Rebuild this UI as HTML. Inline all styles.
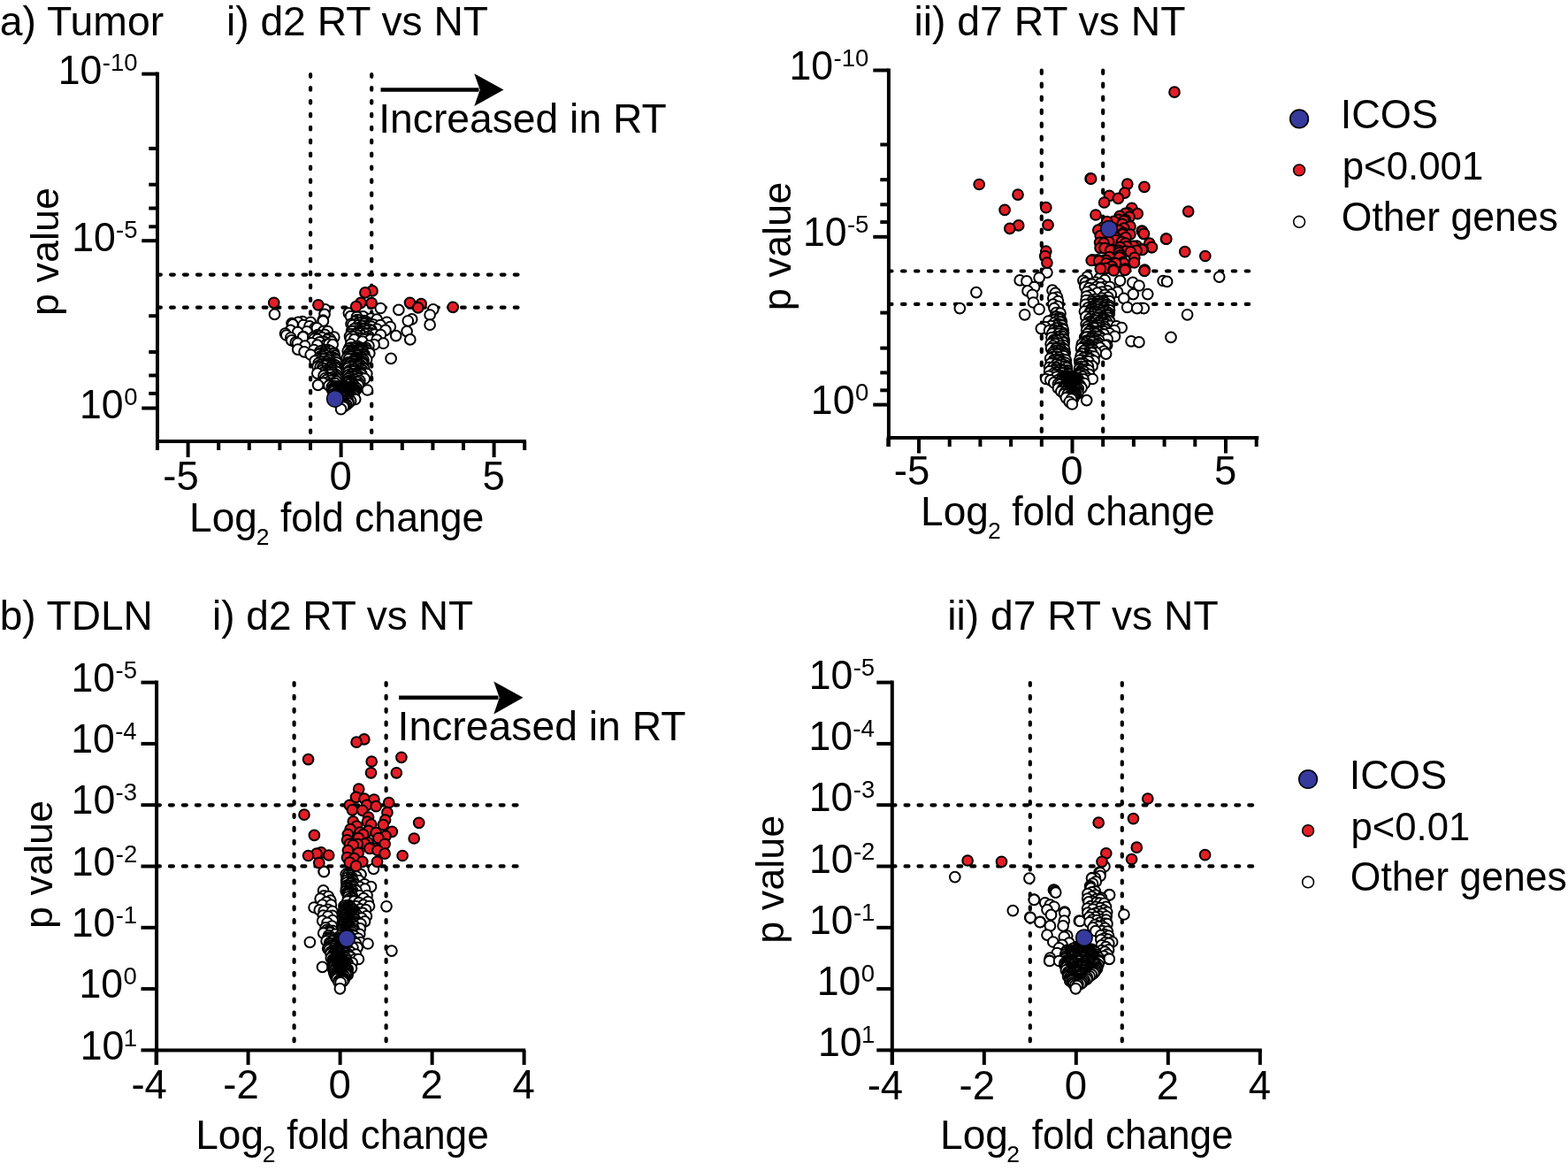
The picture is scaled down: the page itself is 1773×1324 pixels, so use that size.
<!DOCTYPE html><html><head><meta charset="utf-8"><style>html,body{margin:0;padding:0;background:#fff;overflow:hidden}svg{display:block}</style></head><body><svg width="1773" height="1324" viewBox="0 0 1773 1324" font-family="Liberation Sans, Arial, sans-serif">
<rect width="1773" height="1324" fill="#fff"/>
<line x1="178.0" y1="81.6" x2="178.0" y2="509.0" stroke="#000" stroke-width="4" />
<line x1="176.0" y1="499.0" x2="595.0" y2="499.0" stroke="#000" stroke-width="4" />
<line x1="160.3" y1="83.6" x2="178.0" y2="83.6" stroke="#000" stroke-width="4" />
<line x1="160.3" y1="272.2" x2="178.0" y2="272.2" stroke="#000" stroke-width="4" />
<line x1="160.3" y1="461.5" x2="178.0" y2="461.5" stroke="#000" stroke-width="4" />
<line x1="168.3" y1="167.9" x2="178.0" y2="167.9" stroke="#000" stroke-width="4" />
<line x1="168.3" y1="208.7" x2="178.0" y2="208.7" stroke="#000" stroke-width="4" />
<line x1="168.3" y1="235.5" x2="178.0" y2="235.5" stroke="#000" stroke-width="4" />
<line x1="168.3" y1="256.3" x2="178.0" y2="256.3" stroke="#000" stroke-width="4" />
<line x1="168.3" y1="357.2" x2="178.0" y2="357.2" stroke="#000" stroke-width="4" />
<line x1="168.3" y1="398.0" x2="178.0" y2="398.0" stroke="#000" stroke-width="4" />
<line x1="168.3" y1="424.5" x2="178.0" y2="424.5" stroke="#000" stroke-width="4" />
<line x1="168.3" y1="444.9" x2="178.0" y2="444.9" stroke="#000" stroke-width="4" />
<line x1="212.6" y1="499.0" x2="212.6" y2="517.0" stroke="#000" stroke-width="4" />
<line x1="385.6" y1="499.0" x2="385.6" y2="517.0" stroke="#000" stroke-width="4" />
<line x1="558.6" y1="499.0" x2="558.6" y2="517.0" stroke="#000" stroke-width="4" />
<line x1="178.0" y1="499.0" x2="178.0" y2="509.0" stroke="#000" stroke-width="4" />
<line x1="247.2" y1="499.0" x2="247.2" y2="509.0" stroke="#000" stroke-width="4" />
<line x1="281.8" y1="499.0" x2="281.8" y2="509.0" stroke="#000" stroke-width="4" />
<line x1="316.4" y1="499.0" x2="316.4" y2="509.0" stroke="#000" stroke-width="4" />
<line x1="351.0" y1="499.0" x2="351.0" y2="509.0" stroke="#000" stroke-width="4" />
<line x1="420.2" y1="499.0" x2="420.2" y2="509.0" stroke="#000" stroke-width="4" />
<line x1="454.8" y1="499.0" x2="454.8" y2="509.0" stroke="#000" stroke-width="4" />
<line x1="489.4" y1="499.0" x2="489.4" y2="509.0" stroke="#000" stroke-width="4" />
<line x1="524.0" y1="499.0" x2="524.0" y2="509.0" stroke="#000" stroke-width="4" />
<line x1="593.2" y1="499.0" x2="593.2" y2="509.0" stroke="#000" stroke-width="4" />
<line x1="1004.9" y1="77.5" x2="1004.9" y2="505.0" stroke="#000" stroke-width="4" />
<line x1="1002.9" y1="494.9" x2="1423.3" y2="494.9" stroke="#000" stroke-width="4" />
<line x1="987.3" y1="79.5" x2="1004.9" y2="79.5" stroke="#000" stroke-width="4" />
<line x1="987.3" y1="267.8" x2="1004.9" y2="267.8" stroke="#000" stroke-width="4" />
<line x1="987.3" y1="457.6" x2="1004.9" y2="457.6" stroke="#000" stroke-width="4" />
<line x1="995.3" y1="163.5" x2="1004.9" y2="163.5" stroke="#000" stroke-width="4" />
<line x1="995.3" y1="203.2" x2="1004.9" y2="203.2" stroke="#000" stroke-width="4" />
<line x1="995.3" y1="231.3" x2="1004.9" y2="231.3" stroke="#000" stroke-width="4" />
<line x1="995.3" y1="251.1" x2="1004.9" y2="251.1" stroke="#000" stroke-width="4" />
<line x1="995.3" y1="353.6" x2="1004.9" y2="353.6" stroke="#000" stroke-width="4" />
<line x1="995.3" y1="393.6" x2="1004.9" y2="393.6" stroke="#000" stroke-width="4" />
<line x1="995.3" y1="421.4" x2="1004.9" y2="421.4" stroke="#000" stroke-width="4" />
<line x1="995.3" y1="441.3" x2="1004.9" y2="441.3" stroke="#000" stroke-width="4" />
<line x1="1039.0" y1="494.9" x2="1039.0" y2="512.5" stroke="#000" stroke-width="4" />
<line x1="1212.5" y1="494.9" x2="1212.5" y2="512.5" stroke="#000" stroke-width="4" />
<line x1="1386.0" y1="494.9" x2="1386.0" y2="512.5" stroke="#000" stroke-width="4" />
<line x1="1004.3" y1="494.9" x2="1004.3" y2="505.0" stroke="#000" stroke-width="4" />
<line x1="1073.7" y1="494.9" x2="1073.7" y2="505.0" stroke="#000" stroke-width="4" />
<line x1="1108.4" y1="494.9" x2="1108.4" y2="505.0" stroke="#000" stroke-width="4" />
<line x1="1143.1" y1="494.9" x2="1143.1" y2="505.0" stroke="#000" stroke-width="4" />
<line x1="1177.8" y1="494.9" x2="1177.8" y2="505.0" stroke="#000" stroke-width="4" />
<line x1="1247.2" y1="494.9" x2="1247.2" y2="505.0" stroke="#000" stroke-width="4" />
<line x1="1281.9" y1="494.9" x2="1281.9" y2="505.0" stroke="#000" stroke-width="4" />
<line x1="1316.6" y1="494.9" x2="1316.6" y2="505.0" stroke="#000" stroke-width="4" />
<line x1="1351.3" y1="494.9" x2="1351.3" y2="505.0" stroke="#000" stroke-width="4" />
<line x1="1420.7" y1="494.9" x2="1420.7" y2="505.0" stroke="#000" stroke-width="4" />
<line x1="177.1" y1="769.6" x2="177.1" y2="1204.0" stroke="#000" stroke-width="4" />
<line x1="175.1" y1="1187.4" x2="594.2" y2="1187.4" stroke="#000" stroke-width="4" />
<line x1="159.5" y1="771.6" x2="177.1" y2="771.6" stroke="#000" stroke-width="4" />
<line x1="159.5" y1="840.9" x2="177.1" y2="840.9" stroke="#000" stroke-width="4" />
<line x1="159.5" y1="910.2" x2="177.1" y2="910.2" stroke="#000" stroke-width="4" />
<line x1="159.5" y1="979.5" x2="177.1" y2="979.5" stroke="#000" stroke-width="4" />
<line x1="159.5" y1="1048.8" x2="177.1" y2="1048.8" stroke="#000" stroke-width="4" />
<line x1="159.5" y1="1118.1" x2="177.1" y2="1118.1" stroke="#000" stroke-width="4" />
<line x1="159.5" y1="1187.4" x2="177.1" y2="1187.4" stroke="#000" stroke-width="4" />
<line x1="176.6" y1="1187.4" x2="176.6" y2="1204.0" stroke="#000" stroke-width="4" />
<line x1="280.6" y1="1187.4" x2="280.6" y2="1204.0" stroke="#000" stroke-width="4" />
<line x1="384.6" y1="1187.4" x2="384.6" y2="1204.0" stroke="#000" stroke-width="4" />
<line x1="488.6" y1="1187.4" x2="488.6" y2="1204.0" stroke="#000" stroke-width="4" />
<line x1="592.6" y1="1187.4" x2="592.6" y2="1204.0" stroke="#000" stroke-width="4" />
<line x1="1008.8" y1="769.6" x2="1008.8" y2="1204.0" stroke="#000" stroke-width="4" />
<line x1="1006.8" y1="1187.4" x2="1426.8" y2="1187.4" stroke="#000" stroke-width="4" />
<line x1="991.3" y1="771.6" x2="1008.8" y2="771.6" stroke="#000" stroke-width="4" />
<line x1="991.3" y1="840.9" x2="1008.8" y2="840.9" stroke="#000" stroke-width="4" />
<line x1="991.3" y1="910.2" x2="1008.8" y2="910.2" stroke="#000" stroke-width="4" />
<line x1="991.3" y1="979.5" x2="1008.8" y2="979.5" stroke="#000" stroke-width="4" />
<line x1="991.3" y1="1048.8" x2="1008.8" y2="1048.8" stroke="#000" stroke-width="4" />
<line x1="991.3" y1="1118.1" x2="1008.8" y2="1118.1" stroke="#000" stroke-width="4" />
<line x1="991.3" y1="1187.4" x2="1008.8" y2="1187.4" stroke="#000" stroke-width="4" />
<line x1="1008.8" y1="1187.4" x2="1008.8" y2="1204.0" stroke="#000" stroke-width="4" />
<line x1="1112.8" y1="1187.4" x2="1112.8" y2="1204.0" stroke="#000" stroke-width="4" />
<line x1="1216.8" y1="1187.4" x2="1216.8" y2="1204.0" stroke="#000" stroke-width="4" />
<line x1="1320.8" y1="1187.4" x2="1320.8" y2="1204.0" stroke="#000" stroke-width="4" />
<line x1="1424.8" y1="1187.4" x2="1424.8" y2="1204.0" stroke="#000" stroke-width="4" />
<line x1="351.10" y1="84.20" x2="351.10" y2="497.00" stroke="#000" stroke-width="4.2" stroke-dasharray="2.6 12.3" stroke-linecap="round"/>
<line x1="420.20" y1="84.20" x2="420.20" y2="497.00" stroke="#000" stroke-width="4.2" stroke-dasharray="2.6 12.3" stroke-linecap="round"/>
<line x1="178.15" y1="310.60" x2="593.00" y2="310.60" stroke="#000" stroke-width="4.2" stroke-dasharray="3.7 11.25" stroke-linecap="round"/>
<line x1="178.15" y1="347.70" x2="593.00" y2="347.70" stroke="#000" stroke-width="4.2" stroke-dasharray="3.7 11.25" stroke-linecap="round"/>
<line x1="1177.80" y1="79.70" x2="1177.80" y2="493.00" stroke="#000" stroke-width="4.2" stroke-dasharray="3.4 11.6" stroke-linecap="round"/>
<line x1="1247.20" y1="79.70" x2="1247.20" y2="493.00" stroke="#000" stroke-width="4.2" stroke-dasharray="3.4 11.6" stroke-linecap="round"/>
<line x1="1005.10" y1="306.50" x2="1421.00" y2="306.50" stroke="#000" stroke-width="4.2" stroke-dasharray="3.4 11.55" stroke-linecap="round"/>
<line x1="1005.10" y1="343.90" x2="1421.00" y2="343.90" stroke="#000" stroke-width="4.2" stroke-dasharray="3.4 11.55" stroke-linecap="round"/>
<line x1="332.60" y1="772.00" x2="332.60" y2="1185.00" stroke="#000" stroke-width="4.2" stroke-dasharray="3.0 11.9" stroke-linecap="round"/>
<line x1="436.60" y1="772.00" x2="436.60" y2="1185.00" stroke="#000" stroke-width="4.2" stroke-dasharray="3.0 11.9" stroke-linecap="round"/>
<line x1="177.00" y1="910.30" x2="592.00" y2="910.30" stroke="#000" stroke-width="4.2" stroke-dasharray="3.9 11.05" stroke-linecap="round"/>
<line x1="177.00" y1="979.40" x2="592.00" y2="979.40" stroke="#000" stroke-width="4.2" stroke-dasharray="3.9 11.05" stroke-linecap="round"/>
<line x1="1164.80" y1="772.00" x2="1164.80" y2="1185.00" stroke="#000" stroke-width="4.2" stroke-dasharray="3.0 11.9" stroke-linecap="round"/>
<line x1="1268.80" y1="772.00" x2="1268.80" y2="1185.00" stroke="#000" stroke-width="4.2" stroke-dasharray="3.0 11.9" stroke-linecap="round"/>
<line x1="1008.60" y1="910.30" x2="1424.00" y2="910.30" stroke="#000" stroke-width="4.2" stroke-dasharray="3.9 11.05" stroke-linecap="round"/>
<line x1="1008.60" y1="979.40" x2="1424.00" y2="979.40" stroke="#000" stroke-width="4.2" stroke-dasharray="3.9 11.05" stroke-linecap="round"/>
<text x="-0.24" y="40.00" font-size="46" textLength="185.40" lengthAdjust="spacingAndGlyphs">a) Tumor</text>
<text x="255.93" y="40.00" font-size="46" textLength="296.13" lengthAdjust="spacingAndGlyphs">i) d2 RT vs NT</text>
<text x="1033.42" y="40.20" font-size="46" textLength="307.14" lengthAdjust="spacingAndGlyphs">ii) d7 RT vs NT</text>
<text x="-0.25" y="712.30" font-size="46" textLength="172.98" lengthAdjust="spacingAndGlyphs">b) TDLN</text>
<text x="239.94" y="712.30" font-size="46" textLength="295.11" lengthAdjust="spacingAndGlyphs">i) d2 RT vs NT</text>
<text x="1071.23" y="711.70" font-size="46" textLength="306.43" lengthAdjust="spacingAndGlyphs">ii) d7 RT vs NT</text>
<text x="115.73" y="79.90" font-size="27.5">-10</text>
<text x="65.75" y="94.90" font-size="46" textLength="49.64" lengthAdjust="spacingAndGlyphs">10</text>
<text x="131.10" y="268.50" font-size="27.5">-5</text>
<text x="81.13" y="283.50" font-size="46" textLength="49.64" lengthAdjust="spacingAndGlyphs">10</text>
<text x="140.18" y="457.80" font-size="27.5">0</text>
<text x="90.05" y="472.80" font-size="46" textLength="49.64" lengthAdjust="spacingAndGlyphs">10</text>
<text x="942.53" y="74.80" font-size="27.5">-10</text>
<text x="892.55" y="89.80" font-size="46" textLength="49.64" lengthAdjust="spacingAndGlyphs">10</text>
<text x="957.90" y="263.10" font-size="27.5">-5</text>
<text x="907.93" y="278.10" font-size="46" textLength="49.64" lengthAdjust="spacingAndGlyphs">10</text>
<text x="966.98" y="452.90" font-size="27.5">0</text>
<text x="916.85" y="467.90" font-size="46" textLength="49.64" lengthAdjust="spacingAndGlyphs">10</text>
<text x="130.50" y="766.70" font-size="27.5">-5</text>
<text x="80.53" y="781.70" font-size="46" textLength="49.64" lengthAdjust="spacingAndGlyphs">10</text>
<text x="130.15" y="836.00" font-size="27.5">-4</text>
<text x="80.18" y="851.00" font-size="46" textLength="49.64" lengthAdjust="spacingAndGlyphs">10</text>
<text x="130.56" y="905.30" font-size="27.5">-3</text>
<text x="80.58" y="920.30" font-size="46" textLength="49.64" lengthAdjust="spacingAndGlyphs">10</text>
<text x="130.73" y="974.60" font-size="27.5">-2</text>
<text x="80.75" y="989.60" font-size="46" textLength="49.64" lengthAdjust="spacingAndGlyphs">10</text>
<text x="130.69" y="1043.90" font-size="27.5">-1</text>
<text x="80.71" y="1058.90" font-size="46" textLength="49.64" lengthAdjust="spacingAndGlyphs">10</text>
<text x="139.58" y="1113.20" font-size="27.5">0</text>
<text x="89.45" y="1128.20" font-size="46" textLength="49.64" lengthAdjust="spacingAndGlyphs">10</text>
<text x="139.85" y="1182.50" font-size="27.5">1</text>
<text x="90.74" y="1197.50" font-size="46" textLength="49.64" lengthAdjust="spacingAndGlyphs">10</text>
<text x="964.70" y="763.60" font-size="27.5">-5</text>
<text x="914.73" y="778.60" font-size="46" textLength="49.64" lengthAdjust="spacingAndGlyphs">10</text>
<text x="964.35" y="832.90" font-size="27.5">-4</text>
<text x="914.38" y="847.90" font-size="46" textLength="49.64" lengthAdjust="spacingAndGlyphs">10</text>
<text x="964.76" y="902.20" font-size="27.5">-3</text>
<text x="914.78" y="917.20" font-size="46" textLength="49.64" lengthAdjust="spacingAndGlyphs">10</text>
<text x="964.93" y="971.50" font-size="27.5">-2</text>
<text x="914.95" y="986.50" font-size="46" textLength="49.64" lengthAdjust="spacingAndGlyphs">10</text>
<text x="964.89" y="1040.80" font-size="27.5">-1</text>
<text x="914.91" y="1055.80" font-size="46" textLength="49.64" lengthAdjust="spacingAndGlyphs">10</text>
<text x="973.78" y="1110.10" font-size="27.5">0</text>
<text x="923.65" y="1125.10" font-size="46" textLength="49.64" lengthAdjust="spacingAndGlyphs">10</text>
<text x="974.05" y="1179.40" font-size="27.5">1</text>
<text x="924.94" y="1194.40" font-size="46" textLength="49.64" lengthAdjust="spacingAndGlyphs">10</text>
<text x="184.34" y="554.20" font-size="45.5">-5</text>
<text x="372.45" y="554.20" font-size="45.5">0</text>
<text x="545.49" y="554.20" font-size="45.5">5</text>
<text x="1010.74" y="548.20" font-size="45.5">-5</text>
<text x="1199.35" y="548.20" font-size="45.5">0</text>
<text x="1372.89" y="548.20" font-size="45.5">5</text>
<text x="148.44" y="1242.30" font-size="45.5">-4</text>
<text x="252.30" y="1242.30" font-size="45.5">-2</text>
<text x="371.45" y="1242.30" font-size="45.5">0</text>
<text x="475.45" y="1242.30" font-size="45.5">2</text>
<text x="579.59" y="1242.30" font-size="45.5">4</text>
<text x="980.64" y="1242.50" font-size="45.5">-4</text>
<text x="1084.50" y="1242.50" font-size="45.5">-2</text>
<text x="1203.65" y="1242.50" font-size="45.5">0</text>
<text x="1307.65" y="1242.50" font-size="45.5">2</text>
<text x="1411.79" y="1242.50" font-size="45.5">4</text>
<text x="214.12" y="601.00" font-size="46" textLength="76.85" lengthAdjust="spacingAndGlyphs">Log</text>
<text x="289.67" y="616.20" font-size="26.5">2</text>
<text x="316.97" y="601.00" font-size="46" textLength="230.21" lengthAdjust="spacingAndGlyphs">fold change</text>
<text x="1041.12" y="594.10" font-size="46" textLength="76.85" lengthAdjust="spacingAndGlyphs">Log</text>
<text x="1116.97" y="609.30" font-size="26.5">2</text>
<text x="1144.27" y="594.10" font-size="46" textLength="229.50" lengthAdjust="spacingAndGlyphs">fold change</text>
<text x="221.22" y="1299.10" font-size="46" textLength="76.85" lengthAdjust="spacingAndGlyphs">Log</text>
<text x="296.87" y="1314.30" font-size="26.5">2</text>
<text x="324.17" y="1299.10" font-size="46" textLength="228.59" lengthAdjust="spacingAndGlyphs">fold change</text>
<text x="1063.12" y="1298.60" font-size="46" textLength="76.85" lengthAdjust="spacingAndGlyphs">Log</text>
<text x="1138.27" y="1313.80" font-size="26.5">2</text>
<text x="1166.68" y="1298.60" font-size="46" textLength="227.88" lengthAdjust="spacingAndGlyphs">fold change</text>
<text x="0" y="0" font-size="45" textLength="144.79" lengthAdjust="spacingAndGlyphs" transform="translate(66.30,356.89) rotate(-90)">p value</text>
<text x="0" y="0" font-size="45" textLength="145.62" lengthAdjust="spacingAndGlyphs" transform="translate(893.50,351.31) rotate(-90)">p value</text>
<text x="0" y="0" font-size="45" textLength="144.89" lengthAdjust="spacingAndGlyphs" transform="translate(59.40,1049.90) rotate(-90)">p value</text>
<text x="0" y="0" font-size="45" textLength="144.89" lengthAdjust="spacingAndGlyphs" transform="translate(885.50,1066.70) rotate(-90)">p value</text>
<line x1="430.5" y1="101.5" x2="541.5" y2="101.5" stroke="#000" stroke-width="4.5" />
<path d="M569.5,101.5 L536.3,83.3 L542.7,101.5 L536.3,120.1 Z" fill="#000"/>
<text x="428.24" y="149.60" font-size="46" textLength="325.51" lengthAdjust="spacingAndGlyphs">Increased in RT</text>
<line x1="451.1" y1="788.8" x2="563.5" y2="788.8" stroke="#000" stroke-width="4.5" />
<path d="M591.5,788.8 L558.3,770.5999999999999 L564.7,788.8 L558.3,807.4 Z" fill="#000"/>
<text x="449.54" y="836.70" font-size="46" textLength="326.12" lengthAdjust="spacingAndGlyphs">Increased in RT</text>
<circle cx="1469.1" cy="134.4" r="10.3" fill="#353a9c" stroke="#000" stroke-width="1.6"/>
<circle cx="1469.1" cy="192.4" r="6.4" fill="#e31e26" stroke="#000" stroke-width="1.6"/>
<circle cx="1469.1" cy="250.8" r="6.4" fill="#fff" stroke="#000" stroke-width="1.6"/>
<text x="1515.63" y="145.00" font-size="45.5" textLength="110.44" lengthAdjust="spacingAndGlyphs">ICOS</text>
<text x="1517.67" y="203.00" font-size="45" textLength="159.67" lengthAdjust="spacingAndGlyphs">p&lt;0.001</text>
<text x="1516.79" y="261.20" font-size="45.5" textLength="245.02" lengthAdjust="spacingAndGlyphs">Other genes</text>
<circle cx="1479.1" cy="881.0" r="10.3" fill="#353a9c" stroke="#000" stroke-width="1.6"/>
<circle cx="1479.1" cy="939.2" r="6.4" fill="#e31e26" stroke="#000" stroke-width="1.6"/>
<circle cx="1479.1" cy="997.4" r="6.4" fill="#fff" stroke="#000" stroke-width="1.6"/>
<text x="1525.63" y="891.70" font-size="45.5" textLength="110.44" lengthAdjust="spacingAndGlyphs">ICOS</text>
<text x="1527.49" y="949.50" font-size="45" textLength="134.75" lengthAdjust="spacingAndGlyphs">p&lt;0.01</text>
<text x="1526.79" y="1007.20" font-size="45.5" textLength="245.02" lengthAdjust="spacingAndGlyphs">Other genes</text>
<circle cx="430.3" cy="348.5" r="5.85" fill="#fff" stroke="#000" stroke-width="2.0"/>
<circle cx="367.6" cy="349.8" r="5.85" fill="#fff" stroke="#000" stroke-width="2.0"/>
<circle cx="489.8" cy="349.8" r="5.85" fill="#fff" stroke="#000" stroke-width="2.0"/>
<circle cx="450.8" cy="350.4" r="5.85" fill="#fff" stroke="#000" stroke-width="2.0"/>
<circle cx="394.3" cy="354.1" r="5.85" fill="#fff" stroke="#000" stroke-width="2.0"/>
<circle cx="310.5" cy="355.4" r="5.85" fill="#fff" stroke="#000" stroke-width="2.0"/>
<circle cx="367.0" cy="355.4" r="5.85" fill="#fff" stroke="#000" stroke-width="2.0"/>
<circle cx="486.1" cy="356.0" r="5.85" fill="#fff" stroke="#000" stroke-width="2.0"/>
<circle cx="396.5" cy="357.6" r="5.85" fill="#fff" stroke="#000" stroke-width="2.0"/>
<circle cx="410.6" cy="357.9" r="5.85" fill="#fff" stroke="#000" stroke-width="2.0"/>
<circle cx="403.5" cy="358.3" r="5.85" fill="#fff" stroke="#000" stroke-width="2.0"/>
<circle cx="419.3" cy="360.1" r="5.85" fill="#fff" stroke="#000" stroke-width="2.0"/>
<circle cx="465.7" cy="360.9" r="5.85" fill="#fff" stroke="#000" stroke-width="2.0"/>
<circle cx="426.1" cy="361.1" r="5.85" fill="#fff" stroke="#000" stroke-width="2.0"/>
<circle cx="403.7" cy="361.6" r="5.85" fill="#fff" stroke="#000" stroke-width="2.0"/>
<circle cx="406.6" cy="362.1" r="5.85" fill="#fff" stroke="#000" stroke-width="2.0"/>
<circle cx="365.1" cy="362.2" r="5.85" fill="#fff" stroke="#000" stroke-width="2.0"/>
<circle cx="411.3" cy="362.6" r="5.85" fill="#fff" stroke="#000" stroke-width="2.0"/>
<circle cx="461.3" cy="362.8" r="5.85" fill="#fff" stroke="#000" stroke-width="2.0"/>
<circle cx="365.4" cy="363.1" r="5.85" fill="#fff" stroke="#000" stroke-width="2.0"/>
<circle cx="401.6" cy="363.5" r="5.85" fill="#fff" stroke="#000" stroke-width="2.0"/>
<circle cx="413.9" cy="363.6" r="5.85" fill="#fff" stroke="#000" stroke-width="2.0"/>
<circle cx="342.1" cy="363.7" r="5.85" fill="#fff" stroke="#000" stroke-width="2.0"/>
<circle cx="437.4" cy="364.3" r="5.85" fill="#fff" stroke="#000" stroke-width="2.0"/>
<circle cx="351.2" cy="364.3" r="5.85" fill="#fff" stroke="#000" stroke-width="2.0"/>
<circle cx="337.1" cy="364.4" r="5.85" fill="#fff" stroke="#000" stroke-width="2.0"/>
<circle cx="405.8" cy="364.8" r="5.85" fill="#fff" stroke="#000" stroke-width="2.0"/>
<circle cx="416.6" cy="364.9" r="5.85" fill="#fff" stroke="#000" stroke-width="2.0"/>
<circle cx="409.3" cy="364.9" r="5.85" fill="#fff" stroke="#000" stroke-width="2.0"/>
<circle cx="405.2" cy="365.0" r="5.85" fill="#fff" stroke="#000" stroke-width="2.0"/>
<circle cx="413.2" cy="365.5" r="5.85" fill="#fff" stroke="#000" stroke-width="2.0"/>
<circle cx="330.0" cy="365.5" r="5.85" fill="#fff" stroke="#000" stroke-width="2.0"/>
<circle cx="412.2" cy="366.1" r="5.85" fill="#fff" stroke="#000" stroke-width="2.0"/>
<circle cx="402.6" cy="366.3" r="5.85" fill="#fff" stroke="#000" stroke-width="2.0"/>
<circle cx="397.1" cy="366.4" r="5.85" fill="#fff" stroke="#000" stroke-width="2.0"/>
<circle cx="418.9" cy="366.6" r="5.85" fill="#fff" stroke="#000" stroke-width="2.0"/>
<circle cx="331.0" cy="366.9" r="5.85" fill="#fff" stroke="#000" stroke-width="2.0"/>
<circle cx="422.4" cy="367.2" r="5.85" fill="#fff" stroke="#000" stroke-width="2.0"/>
<circle cx="486.1" cy="367.2" r="5.85" fill="#fff" stroke="#000" stroke-width="2.0"/>
<circle cx="343.0" cy="367.5" r="5.85" fill="#fff" stroke="#000" stroke-width="2.0"/>
<circle cx="398.9" cy="367.5" r="5.85" fill="#fff" stroke="#000" stroke-width="2.0"/>
<circle cx="430.1" cy="367.6" r="5.85" fill="#fff" stroke="#000" stroke-width="2.0"/>
<circle cx="405.2" cy="367.8" r="5.85" fill="#fff" stroke="#000" stroke-width="2.0"/>
<circle cx="413.9" cy="368.3" r="5.85" fill="#fff" stroke="#000" stroke-width="2.0"/>
<circle cx="409.4" cy="368.6" r="5.85" fill="#fff" stroke="#000" stroke-width="2.0"/>
<circle cx="350.0" cy="368.8" r="5.85" fill="#fff" stroke="#000" stroke-width="2.0"/>
<circle cx="416.8" cy="369.1" r="5.85" fill="#fff" stroke="#000" stroke-width="2.0"/>
<circle cx="419.9" cy="369.3" r="5.85" fill="#fff" stroke="#000" stroke-width="2.0"/>
<circle cx="441.3" cy="369.5" r="5.85" fill="#fff" stroke="#000" stroke-width="2.0"/>
<circle cx="356.3" cy="370.7" r="5.85" fill="#fff" stroke="#000" stroke-width="2.0"/>
<circle cx="407.3" cy="370.8" r="5.85" fill="#fff" stroke="#000" stroke-width="2.0"/>
<circle cx="358.4" cy="370.9" r="5.85" fill="#fff" stroke="#000" stroke-width="2.0"/>
<circle cx="403.1" cy="371.2" r="5.85" fill="#fff" stroke="#000" stroke-width="2.0"/>
<circle cx="413.1" cy="371.2" r="5.85" fill="#fff" stroke="#000" stroke-width="2.0"/>
<circle cx="403.9" cy="371.3" r="5.85" fill="#fff" stroke="#000" stroke-width="2.0"/>
<circle cx="400.7" cy="371.5" r="5.85" fill="#fff" stroke="#000" stroke-width="2.0"/>
<circle cx="409.9" cy="371.8" r="5.85" fill="#fff" stroke="#000" stroke-width="2.0"/>
<circle cx="416.5" cy="372.1" r="5.85" fill="#fff" stroke="#000" stroke-width="2.0"/>
<circle cx="426.2" cy="372.2" r="5.85" fill="#fff" stroke="#000" stroke-width="2.0"/>
<circle cx="420.0" cy="373.2" r="5.85" fill="#fff" stroke="#000" stroke-width="2.0"/>
<circle cx="328.5" cy="373.4" r="5.85" fill="#fff" stroke="#000" stroke-width="2.0"/>
<circle cx="435.9" cy="373.4" r="5.85" fill="#fff" stroke="#000" stroke-width="2.0"/>
<circle cx="407.6" cy="373.6" r="5.85" fill="#fff" stroke="#000" stroke-width="2.0"/>
<circle cx="419.4" cy="373.9" r="5.85" fill="#fff" stroke="#000" stroke-width="2.0"/>
<circle cx="414.0" cy="373.9" r="5.85" fill="#fff" stroke="#000" stroke-width="2.0"/>
<circle cx="402.0" cy="374.0" r="5.85" fill="#fff" stroke="#000" stroke-width="2.0"/>
<circle cx="397.6" cy="374.4" r="5.85" fill="#fff" stroke="#000" stroke-width="2.0"/>
<circle cx="365.7" cy="374.5" r="5.85" fill="#fff" stroke="#000" stroke-width="2.0"/>
<circle cx="370.5" cy="374.5" r="5.85" fill="#fff" stroke="#000" stroke-width="2.0"/>
<circle cx="398.2" cy="374.6" r="5.85" fill="#fff" stroke="#000" stroke-width="2.0"/>
<circle cx="460.1" cy="374.6" r="5.85" fill="#fff" stroke="#000" stroke-width="2.0"/>
<circle cx="346.9" cy="374.8" r="5.85" fill="#fff" stroke="#000" stroke-width="2.0"/>
<circle cx="408.0" cy="374.8" r="5.85" fill="#fff" stroke="#000" stroke-width="2.0"/>
<circle cx="410.5" cy="375.5" r="5.85" fill="#fff" stroke="#000" stroke-width="2.0"/>
<circle cx="336.7" cy="375.6" r="5.85" fill="#fff" stroke="#000" stroke-width="2.0"/>
<circle cx="404.3" cy="376.2" r="5.85" fill="#fff" stroke="#000" stroke-width="2.0"/>
<circle cx="419.3" cy="376.7" r="5.85" fill="#fff" stroke="#000" stroke-width="2.0"/>
<circle cx="407.2" cy="376.9" r="5.85" fill="#fff" stroke="#000" stroke-width="2.0"/>
<circle cx="415.3" cy="377.0" r="5.85" fill="#fff" stroke="#000" stroke-width="2.0"/>
<circle cx="416.3" cy="377.0" r="5.85" fill="#fff" stroke="#000" stroke-width="2.0"/>
<circle cx="322.5" cy="377.0" r="5.85" fill="#fff" stroke="#000" stroke-width="2.0"/>
<circle cx="413.0" cy="377.5" r="5.85" fill="#fff" stroke="#000" stroke-width="2.0"/>
<circle cx="397.3" cy="377.5" r="5.85" fill="#fff" stroke="#000" stroke-width="2.0"/>
<circle cx="401.8" cy="377.9" r="5.85" fill="#fff" stroke="#000" stroke-width="2.0"/>
<circle cx="423.7" cy="378.0" r="5.85" fill="#fff" stroke="#000" stroke-width="2.0"/>
<circle cx="402.6" cy="378.1" r="5.85" fill="#fff" stroke="#000" stroke-width="2.0"/>
<circle cx="367.2" cy="378.3" r="5.85" fill="#fff" stroke="#000" stroke-width="2.0"/>
<circle cx="430.4" cy="378.6" r="5.85" fill="#fff" stroke="#000" stroke-width="2.0"/>
<circle cx="359.3" cy="378.6" r="5.85" fill="#fff" stroke="#000" stroke-width="2.0"/>
<circle cx="323.8" cy="379.0" r="5.85" fill="#fff" stroke="#000" stroke-width="2.0"/>
<circle cx="409.6" cy="379.4" r="5.85" fill="#fff" stroke="#000" stroke-width="2.0"/>
<circle cx="404.5" cy="379.4" r="5.85" fill="#fff" stroke="#000" stroke-width="2.0"/>
<circle cx="447.7" cy="379.6" r="5.85" fill="#fff" stroke="#000" stroke-width="2.0"/>
<circle cx="361.4" cy="379.9" r="5.85" fill="#fff" stroke="#000" stroke-width="2.0"/>
<circle cx="395.5" cy="380.3" r="5.85" fill="#fff" stroke="#000" stroke-width="2.0"/>
<circle cx="417.0" cy="380.3" r="5.85" fill="#fff" stroke="#000" stroke-width="2.0"/>
<circle cx="343.0" cy="380.6" r="5.85" fill="#fff" stroke="#000" stroke-width="2.0"/>
<circle cx="399.5" cy="380.6" r="5.85" fill="#fff" stroke="#000" stroke-width="2.0"/>
<circle cx="355.7" cy="380.9" r="5.85" fill="#fff" stroke="#000" stroke-width="2.0"/>
<circle cx="342.7" cy="381.2" r="5.85" fill="#fff" stroke="#000" stroke-width="2.0"/>
<circle cx="377.8" cy="381.2" r="5.85" fill="#fff" stroke="#000" stroke-width="2.0"/>
<circle cx="353.9" cy="381.5" r="5.85" fill="#fff" stroke="#000" stroke-width="2.0"/>
<circle cx="414.3" cy="381.6" r="5.85" fill="#fff" stroke="#000" stroke-width="2.0"/>
<circle cx="364.0" cy="381.7" r="5.85" fill="#fff" stroke="#000" stroke-width="2.0"/>
<circle cx="328.8" cy="381.8" r="5.85" fill="#fff" stroke="#000" stroke-width="2.0"/>
<circle cx="405.3" cy="382.1" r="5.85" fill="#fff" stroke="#000" stroke-width="2.0"/>
<circle cx="371.8" cy="382.4" r="5.85" fill="#fff" stroke="#000" stroke-width="2.0"/>
<circle cx="408.1" cy="382.7" r="5.85" fill="#fff" stroke="#000" stroke-width="2.0"/>
<circle cx="418.3" cy="382.9" r="5.85" fill="#fff" stroke="#000" stroke-width="2.0"/>
<circle cx="355.4" cy="383.0" r="5.85" fill="#fff" stroke="#000" stroke-width="2.0"/>
<circle cx="396.4" cy="383.2" r="5.85" fill="#fff" stroke="#000" stroke-width="2.0"/>
<circle cx="401.8" cy="383.3" r="5.85" fill="#fff" stroke="#000" stroke-width="2.0"/>
<circle cx="373.1" cy="383.4" r="5.85" fill="#fff" stroke="#000" stroke-width="2.0"/>
<circle cx="411.3" cy="383.5" r="5.85" fill="#fff" stroke="#000" stroke-width="2.0"/>
<circle cx="359.0" cy="383.6" r="5.85" fill="#fff" stroke="#000" stroke-width="2.0"/>
<circle cx="400.6" cy="383.9" r="5.85" fill="#fff" stroke="#000" stroke-width="2.0"/>
<circle cx="463.8" cy="383.9" r="5.85" fill="#fff" stroke="#000" stroke-width="2.0"/>
<circle cx="418.7" cy="384.1" r="5.85" fill="#fff" stroke="#000" stroke-width="2.0"/>
<circle cx="426.1" cy="384.2" r="5.85" fill="#fff" stroke="#000" stroke-width="2.0"/>
<circle cx="369.9" cy="384.2" r="5.85" fill="#fff" stroke="#000" stroke-width="2.0"/>
<circle cx="329.7" cy="384.9" r="5.85" fill="#fff" stroke="#000" stroke-width="2.0"/>
<circle cx="409.8" cy="386.1" r="5.85" fill="#fff" stroke="#000" stroke-width="2.0"/>
<circle cx="375.1" cy="386.4" r="5.85" fill="#fff" stroke="#000" stroke-width="2.0"/>
<circle cx="366.9" cy="386.7" r="5.85" fill="#fff" stroke="#000" stroke-width="2.0"/>
<circle cx="361.5" cy="386.8" r="5.85" fill="#fff" stroke="#000" stroke-width="2.0"/>
<circle cx="334.3" cy="387.2" r="5.85" fill="#fff" stroke="#000" stroke-width="2.0"/>
<circle cx="352.3" cy="387.8" r="5.85" fill="#fff" stroke="#000" stroke-width="2.0"/>
<circle cx="336.5" cy="388.1" r="5.85" fill="#fff" stroke="#000" stroke-width="2.0"/>
<circle cx="433.4" cy="388.2" r="5.85" fill="#fff" stroke="#000" stroke-width="2.0"/>
<circle cx="369.4" cy="389.2" r="5.85" fill="#fff" stroke="#000" stroke-width="2.0"/>
<circle cx="396.6" cy="389.2" r="5.85" fill="#fff" stroke="#000" stroke-width="2.0"/>
<circle cx="371.8" cy="389.2" r="5.85" fill="#fff" stroke="#000" stroke-width="2.0"/>
<circle cx="376.2" cy="389.6" r="5.85" fill="#fff" stroke="#000" stroke-width="2.0"/>
<circle cx="423.1" cy="389.7" r="5.85" fill="#fff" stroke="#000" stroke-width="2.0"/>
<circle cx="358.8" cy="390.2" r="5.85" fill="#fff" stroke="#000" stroke-width="2.0"/>
<circle cx="416.9" cy="390.9" r="5.85" fill="#fff" stroke="#000" stroke-width="2.0"/>
<circle cx="344.8" cy="391.2" r="5.85" fill="#fff" stroke="#000" stroke-width="2.0"/>
<circle cx="403.9" cy="391.3" r="5.85" fill="#fff" stroke="#000" stroke-width="2.0"/>
<circle cx="404.0" cy="393.1" r="5.85" fill="#fff" stroke="#000" stroke-width="2.0"/>
<circle cx="396.9" cy="393.1" r="5.85" fill="#fff" stroke="#000" stroke-width="2.0"/>
<circle cx="406.6" cy="393.2" r="5.85" fill="#fff" stroke="#000" stroke-width="2.0"/>
<circle cx="401.5" cy="393.3" r="5.85" fill="#fff" stroke="#000" stroke-width="2.0"/>
<circle cx="413.9" cy="393.4" r="5.85" fill="#fff" stroke="#000" stroke-width="2.0"/>
<circle cx="408.8" cy="393.5" r="5.85" fill="#fff" stroke="#000" stroke-width="2.0"/>
<circle cx="399.2" cy="393.6" r="5.85" fill="#fff" stroke="#000" stroke-width="2.0"/>
<circle cx="394.7" cy="393.9" r="5.85" fill="#fff" stroke="#000" stroke-width="2.0"/>
<circle cx="411.6" cy="394.4" r="5.85" fill="#fff" stroke="#000" stroke-width="2.0"/>
<circle cx="409.3" cy="395.0" r="5.85" fill="#fff" stroke="#000" stroke-width="2.0"/>
<circle cx="336.7" cy="395.1" r="5.85" fill="#fff" stroke="#000" stroke-width="2.0"/>
<circle cx="355.0" cy="395.5" r="5.85" fill="#fff" stroke="#000" stroke-width="2.0"/>
<circle cx="370.7" cy="395.5" r="5.85" fill="#fff" stroke="#000" stroke-width="2.0"/>
<circle cx="367.6" cy="395.6" r="5.85" fill="#fff" stroke="#000" stroke-width="2.0"/>
<circle cx="367.3" cy="395.7" r="5.85" fill="#fff" stroke="#000" stroke-width="2.0"/>
<circle cx="406.6" cy="395.7" r="5.85" fill="#fff" stroke="#000" stroke-width="2.0"/>
<circle cx="403.5" cy="395.8" r="5.85" fill="#fff" stroke="#000" stroke-width="2.0"/>
<circle cx="398.0" cy="395.9" r="5.85" fill="#fff" stroke="#000" stroke-width="2.0"/>
<circle cx="414.3" cy="396.0" r="5.85" fill="#fff" stroke="#000" stroke-width="2.0"/>
<circle cx="394.3" cy="396.1" r="5.85" fill="#fff" stroke="#000" stroke-width="2.0"/>
<circle cx="364.2" cy="396.3" r="5.85" fill="#fff" stroke="#000" stroke-width="2.0"/>
<circle cx="400.3" cy="396.6" r="5.85" fill="#fff" stroke="#000" stroke-width="2.0"/>
<circle cx="411.8" cy="396.8" r="5.85" fill="#fff" stroke="#000" stroke-width="2.0"/>
<circle cx="373.4" cy="396.9" r="5.85" fill="#fff" stroke="#000" stroke-width="2.0"/>
<circle cx="399.9" cy="397.0" r="5.85" fill="#fff" stroke="#000" stroke-width="2.0"/>
<circle cx="393.2" cy="397.0" r="5.85" fill="#fff" stroke="#000" stroke-width="2.0"/>
<circle cx="409.5" cy="397.1" r="5.85" fill="#fff" stroke="#000" stroke-width="2.0"/>
<circle cx="361.9" cy="397.4" r="5.85" fill="#fff" stroke="#000" stroke-width="2.0"/>
<circle cx="344.1" cy="397.8" r="5.85" fill="#fff" stroke="#000" stroke-width="2.0"/>
<circle cx="396.1" cy="397.8" r="5.85" fill="#fff" stroke="#000" stroke-width="2.0"/>
<circle cx="404.8" cy="398.1" r="5.85" fill="#fff" stroke="#000" stroke-width="2.0"/>
<circle cx="369.4" cy="398.2" r="5.85" fill="#fff" stroke="#000" stroke-width="2.0"/>
<circle cx="407.0" cy="398.2" r="5.85" fill="#fff" stroke="#000" stroke-width="2.0"/>
<circle cx="398.4" cy="398.2" r="5.85" fill="#fff" stroke="#000" stroke-width="2.0"/>
<circle cx="413.3" cy="398.5" r="5.85" fill="#fff" stroke="#000" stroke-width="2.0"/>
<circle cx="365.6" cy="398.6" r="5.85" fill="#fff" stroke="#000" stroke-width="2.0"/>
<circle cx="400.9" cy="398.8" r="5.85" fill="#fff" stroke="#000" stroke-width="2.0"/>
<circle cx="377.7" cy="399.2" r="5.85" fill="#fff" stroke="#000" stroke-width="2.0"/>
<circle cx="362.0" cy="399.5" r="5.85" fill="#fff" stroke="#000" stroke-width="2.0"/>
<circle cx="417.8" cy="399.5" r="5.85" fill="#fff" stroke="#000" stroke-width="2.0"/>
<circle cx="403.1" cy="399.7" r="5.85" fill="#fff" stroke="#000" stroke-width="2.0"/>
<circle cx="372.5" cy="399.9" r="5.85" fill="#fff" stroke="#000" stroke-width="2.0"/>
<circle cx="377.0" cy="400.1" r="5.85" fill="#fff" stroke="#000" stroke-width="2.0"/>
<circle cx="363.6" cy="400.2" r="5.85" fill="#fff" stroke="#000" stroke-width="2.0"/>
<circle cx="411.8" cy="400.3" r="5.85" fill="#fff" stroke="#000" stroke-width="2.0"/>
<circle cx="409.3" cy="400.4" r="5.85" fill="#fff" stroke="#000" stroke-width="2.0"/>
<circle cx="394.3" cy="400.6" r="5.85" fill="#fff" stroke="#000" stroke-width="2.0"/>
<circle cx="360.8" cy="400.7" r="5.85" fill="#fff" stroke="#000" stroke-width="2.0"/>
<circle cx="397.9" cy="400.7" r="5.85" fill="#fff" stroke="#000" stroke-width="2.0"/>
<circle cx="405.9" cy="400.7" r="5.85" fill="#fff" stroke="#000" stroke-width="2.0"/>
<circle cx="366.6" cy="400.9" r="5.85" fill="#fff" stroke="#000" stroke-width="2.0"/>
<circle cx="351.2" cy="401.0" r="5.85" fill="#fff" stroke="#000" stroke-width="2.0"/>
<circle cx="410.6" cy="401.2" r="5.85" fill="#fff" stroke="#000" stroke-width="2.0"/>
<circle cx="399.9" cy="401.8" r="5.85" fill="#fff" stroke="#000" stroke-width="2.0"/>
<circle cx="402.1" cy="401.8" r="5.85" fill="#fff" stroke="#000" stroke-width="2.0"/>
<circle cx="368.9" cy="402.0" r="5.85" fill="#fff" stroke="#000" stroke-width="2.0"/>
<circle cx="378.4" cy="402.2" r="5.85" fill="#fff" stroke="#000" stroke-width="2.0"/>
<circle cx="407.6" cy="402.3" r="5.85" fill="#fff" stroke="#000" stroke-width="2.0"/>
<circle cx="404.3" cy="402.3" r="5.85" fill="#fff" stroke="#000" stroke-width="2.0"/>
<circle cx="397.7" cy="402.7" r="5.85" fill="#fff" stroke="#000" stroke-width="2.0"/>
<circle cx="362.3" cy="402.8" r="5.85" fill="#fff" stroke="#000" stroke-width="2.0"/>
<circle cx="393.8" cy="403.0" r="5.85" fill="#fff" stroke="#000" stroke-width="2.0"/>
<circle cx="412.1" cy="403.1" r="5.85" fill="#fff" stroke="#000" stroke-width="2.0"/>
<circle cx="365.2" cy="403.3" r="5.85" fill="#fff" stroke="#000" stroke-width="2.0"/>
<circle cx="374.5" cy="403.3" r="5.85" fill="#fff" stroke="#000" stroke-width="2.0"/>
<circle cx="396.7" cy="403.3" r="5.85" fill="#fff" stroke="#000" stroke-width="2.0"/>
<circle cx="372.2" cy="404.4" r="5.85" fill="#fff" stroke="#000" stroke-width="2.0"/>
<circle cx="377.1" cy="404.4" r="5.85" fill="#fff" stroke="#000" stroke-width="2.0"/>
<circle cx="371.2" cy="404.4" r="5.85" fill="#fff" stroke="#000" stroke-width="2.0"/>
<circle cx="410.4" cy="404.5" r="5.85" fill="#fff" stroke="#000" stroke-width="2.0"/>
<circle cx="404.4" cy="404.6" r="5.85" fill="#fff" stroke="#000" stroke-width="2.0"/>
<circle cx="360.8" cy="404.8" r="5.85" fill="#fff" stroke="#000" stroke-width="2.0"/>
<circle cx="392.1" cy="405.0" r="5.85" fill="#fff" stroke="#000" stroke-width="2.0"/>
<circle cx="401.4" cy="405.3" r="5.85" fill="#fff" stroke="#000" stroke-width="2.0"/>
<circle cx="365.0" cy="405.4" r="5.85" fill="#fff" stroke="#000" stroke-width="2.0"/>
<circle cx="442.1" cy="405.4" r="5.85" fill="#fff" stroke="#000" stroke-width="2.0"/>
<circle cx="398.8" cy="405.5" r="5.85" fill="#fff" stroke="#000" stroke-width="2.0"/>
<circle cx="396.3" cy="405.5" r="5.85" fill="#fff" stroke="#000" stroke-width="2.0"/>
<circle cx="368.4" cy="405.6" r="5.85" fill="#fff" stroke="#000" stroke-width="2.0"/>
<circle cx="378.9" cy="405.7" r="5.85" fill="#fff" stroke="#000" stroke-width="2.0"/>
<circle cx="405.5" cy="405.7" r="5.85" fill="#fff" stroke="#000" stroke-width="2.0"/>
<circle cx="408.3" cy="405.8" r="5.85" fill="#fff" stroke="#000" stroke-width="2.0"/>
<circle cx="363.0" cy="406.0" r="5.85" fill="#fff" stroke="#000" stroke-width="2.0"/>
<circle cx="365.7" cy="406.2" r="5.85" fill="#fff" stroke="#000" stroke-width="2.0"/>
<circle cx="394.2" cy="406.2" r="5.85" fill="#fff" stroke="#000" stroke-width="2.0"/>
<circle cx="414.6" cy="406.4" r="5.85" fill="#fff" stroke="#000" stroke-width="2.0"/>
<circle cx="405.6" cy="406.9" r="5.85" fill="#fff" stroke="#000" stroke-width="2.0"/>
<circle cx="374.6" cy="407.0" r="5.85" fill="#fff" stroke="#000" stroke-width="2.0"/>
<circle cx="411.1" cy="407.0" r="5.85" fill="#fff" stroke="#000" stroke-width="2.0"/>
<circle cx="359.3" cy="407.1" r="5.85" fill="#fff" stroke="#000" stroke-width="2.0"/>
<circle cx="379.9" cy="407.2" r="5.85" fill="#fff" stroke="#000" stroke-width="2.0"/>
<circle cx="371.7" cy="407.3" r="5.85" fill="#fff" stroke="#000" stroke-width="2.0"/>
<circle cx="402.4" cy="407.8" r="5.85" fill="#fff" stroke="#000" stroke-width="2.0"/>
<circle cx="356.2" cy="408.1" r="5.85" fill="#fff" stroke="#000" stroke-width="2.0"/>
<circle cx="398.5" cy="408.6" r="5.85" fill="#fff" stroke="#000" stroke-width="2.0"/>
<circle cx="407.3" cy="408.6" r="5.85" fill="#fff" stroke="#000" stroke-width="2.0"/>
<circle cx="366.6" cy="408.8" r="5.85" fill="#fff" stroke="#000" stroke-width="2.0"/>
<circle cx="404.4" cy="408.8" r="5.85" fill="#fff" stroke="#000" stroke-width="2.0"/>
<circle cx="409.9" cy="408.8" r="5.85" fill="#fff" stroke="#000" stroke-width="2.0"/>
<circle cx="369.8" cy="409.1" r="5.85" fill="#fff" stroke="#000" stroke-width="2.0"/>
<circle cx="362.3" cy="409.2" r="5.85" fill="#fff" stroke="#000" stroke-width="2.0"/>
<circle cx="378.1" cy="409.2" r="5.85" fill="#fff" stroke="#000" stroke-width="2.0"/>
<circle cx="395.9" cy="409.4" r="5.85" fill="#fff" stroke="#000" stroke-width="2.0"/>
<circle cx="400.7" cy="409.4" r="5.85" fill="#fff" stroke="#000" stroke-width="2.0"/>
<circle cx="393.4" cy="409.9" r="5.85" fill="#fff" stroke="#000" stroke-width="2.0"/>
<circle cx="380.6" cy="410.0" r="5.85" fill="#fff" stroke="#000" stroke-width="2.0"/>
<circle cx="374.1" cy="410.5" r="5.85" fill="#fff" stroke="#000" stroke-width="2.0"/>
<circle cx="360.2" cy="410.5" r="5.85" fill="#fff" stroke="#000" stroke-width="2.0"/>
<circle cx="408.4" cy="410.6" r="5.85" fill="#fff" stroke="#000" stroke-width="2.0"/>
<circle cx="405.6" cy="410.8" r="5.85" fill="#fff" stroke="#000" stroke-width="2.0"/>
<circle cx="374.0" cy="410.9" r="5.85" fill="#fff" stroke="#000" stroke-width="2.0"/>
<circle cx="410.8" cy="410.9" r="5.85" fill="#fff" stroke="#000" stroke-width="2.0"/>
<circle cx="393.5" cy="411.0" r="5.85" fill="#fff" stroke="#000" stroke-width="2.0"/>
<circle cx="371.4" cy="411.1" r="5.85" fill="#fff" stroke="#000" stroke-width="2.0"/>
<circle cx="397.6" cy="411.1" r="5.85" fill="#fff" stroke="#000" stroke-width="2.0"/>
<circle cx="409.8" cy="411.3" r="5.85" fill="#fff" stroke="#000" stroke-width="2.0"/>
<circle cx="368.5" cy="411.3" r="5.85" fill="#fff" stroke="#000" stroke-width="2.0"/>
<circle cx="402.4" cy="411.3" r="5.85" fill="#fff" stroke="#000" stroke-width="2.0"/>
<circle cx="365.2" cy="411.6" r="5.85" fill="#fff" stroke="#000" stroke-width="2.0"/>
<circle cx="395.3" cy="411.6" r="5.85" fill="#fff" stroke="#000" stroke-width="2.0"/>
<circle cx="400.2" cy="411.8" r="5.85" fill="#fff" stroke="#000" stroke-width="2.0"/>
<circle cx="365.9" cy="411.9" r="5.85" fill="#fff" stroke="#000" stroke-width="2.0"/>
<circle cx="377.2" cy="412.0" r="5.85" fill="#fff" stroke="#000" stroke-width="2.0"/>
<circle cx="400.2" cy="412.7" r="5.85" fill="#fff" stroke="#000" stroke-width="2.0"/>
<circle cx="361.8" cy="412.7" r="5.85" fill="#fff" stroke="#000" stroke-width="2.0"/>
<circle cx="404.2" cy="412.7" r="5.85" fill="#fff" stroke="#000" stroke-width="2.0"/>
<circle cx="407.4" cy="412.7" r="5.85" fill="#fff" stroke="#000" stroke-width="2.0"/>
<circle cx="373.3" cy="412.9" r="5.85" fill="#fff" stroke="#000" stroke-width="2.0"/>
<circle cx="379.6" cy="413.2" r="5.85" fill="#fff" stroke="#000" stroke-width="2.0"/>
<circle cx="370.1" cy="413.5" r="5.85" fill="#fff" stroke="#000" stroke-width="2.0"/>
<circle cx="367.1" cy="413.7" r="5.85" fill="#fff" stroke="#000" stroke-width="2.0"/>
<circle cx="394.7" cy="413.9" r="5.85" fill="#fff" stroke="#000" stroke-width="2.0"/>
<circle cx="399.8" cy="414.2" r="5.85" fill="#fff" stroke="#000" stroke-width="2.0"/>
<circle cx="409.1" cy="414.2" r="5.85" fill="#fff" stroke="#000" stroke-width="2.0"/>
<circle cx="402.9" cy="414.6" r="5.85" fill="#fff" stroke="#000" stroke-width="2.0"/>
<circle cx="359.1" cy="414.7" r="5.85" fill="#fff" stroke="#000" stroke-width="2.0"/>
<circle cx="377.4" cy="414.7" r="5.85" fill="#fff" stroke="#000" stroke-width="2.0"/>
<circle cx="406.1" cy="414.7" r="5.85" fill="#fff" stroke="#000" stroke-width="2.0"/>
<circle cx="397.0" cy="415.0" r="5.85" fill="#fff" stroke="#000" stroke-width="2.0"/>
<circle cx="362.1" cy="415.2" r="5.85" fill="#fff" stroke="#000" stroke-width="2.0"/>
<circle cx="380.5" cy="415.4" r="5.85" fill="#fff" stroke="#000" stroke-width="2.0"/>
<circle cx="374.1" cy="415.8" r="5.85" fill="#fff" stroke="#000" stroke-width="2.0"/>
<circle cx="364.6" cy="416.2" r="5.85" fill="#fff" stroke="#000" stroke-width="2.0"/>
<circle cx="371.5" cy="416.3" r="5.85" fill="#fff" stroke="#000" stroke-width="2.0"/>
<circle cx="393.7" cy="416.3" r="5.85" fill="#fff" stroke="#000" stroke-width="2.0"/>
<circle cx="409.8" cy="416.3" r="5.85" fill="#fff" stroke="#000" stroke-width="2.0"/>
<circle cx="379.3" cy="416.5" r="5.85" fill="#fff" stroke="#000" stroke-width="2.0"/>
<circle cx="367.4" cy="416.8" r="5.85" fill="#fff" stroke="#000" stroke-width="2.0"/>
<circle cx="411.7" cy="417.2" r="5.85" fill="#fff" stroke="#000" stroke-width="2.0"/>
<circle cx="376.5" cy="417.3" r="5.85" fill="#fff" stroke="#000" stroke-width="2.0"/>
<circle cx="404.0" cy="417.3" r="5.85" fill="#fff" stroke="#000" stroke-width="2.0"/>
<circle cx="405.4" cy="417.4" r="5.85" fill="#fff" stroke="#000" stroke-width="2.0"/>
<circle cx="406.5" cy="417.4" r="5.85" fill="#fff" stroke="#000" stroke-width="2.0"/>
<circle cx="398.9" cy="417.4" r="5.85" fill="#fff" stroke="#000" stroke-width="2.0"/>
<circle cx="401.4" cy="417.6" r="5.85" fill="#fff" stroke="#000" stroke-width="2.0"/>
<circle cx="374.3" cy="418.4" r="5.85" fill="#fff" stroke="#000" stroke-width="2.0"/>
<circle cx="369.7" cy="418.6" r="5.85" fill="#fff" stroke="#000" stroke-width="2.0"/>
<circle cx="409.8" cy="418.6" r="5.85" fill="#fff" stroke="#000" stroke-width="2.0"/>
<circle cx="395.0" cy="418.9" r="5.85" fill="#fff" stroke="#000" stroke-width="2.0"/>
<circle cx="363.9" cy="419.1" r="5.85" fill="#fff" stroke="#000" stroke-width="2.0"/>
<circle cx="378.3" cy="419.4" r="5.85" fill="#fff" stroke="#000" stroke-width="2.0"/>
<circle cx="370.1" cy="419.5" r="5.85" fill="#fff" stroke="#000" stroke-width="2.0"/>
<circle cx="397.7" cy="419.5" r="5.85" fill="#fff" stroke="#000" stroke-width="2.0"/>
<circle cx="404.3" cy="419.6" r="5.85" fill="#fff" stroke="#000" stroke-width="2.0"/>
<circle cx="397.1" cy="419.7" r="5.85" fill="#fff" stroke="#000" stroke-width="2.0"/>
<circle cx="406.5" cy="419.8" r="5.85" fill="#fff" stroke="#000" stroke-width="2.0"/>
<circle cx="402.0" cy="419.9" r="5.85" fill="#fff" stroke="#000" stroke-width="2.0"/>
<circle cx="367.5" cy="420.0" r="5.85" fill="#fff" stroke="#000" stroke-width="2.0"/>
<circle cx="399.8" cy="420.2" r="5.85" fill="#fff" stroke="#000" stroke-width="2.0"/>
<circle cx="380.8" cy="420.5" r="5.85" fill="#fff" stroke="#000" stroke-width="2.0"/>
<circle cx="371.1" cy="420.7" r="5.85" fill="#fff" stroke="#000" stroke-width="2.0"/>
<circle cx="409.8" cy="421.0" r="5.85" fill="#fff" stroke="#000" stroke-width="2.0"/>
<circle cx="373.7" cy="421.1" r="5.85" fill="#fff" stroke="#000" stroke-width="2.0"/>
<circle cx="393.8" cy="421.1" r="5.85" fill="#fff" stroke="#000" stroke-width="2.0"/>
<circle cx="376.7" cy="421.3" r="5.85" fill="#fff" stroke="#000" stroke-width="2.0"/>
<circle cx="407.7" cy="421.6" r="5.85" fill="#fff" stroke="#000" stroke-width="2.0"/>
<circle cx="365.0" cy="421.7" r="5.85" fill="#fff" stroke="#000" stroke-width="2.0"/>
<circle cx="403.6" cy="421.8" r="5.85" fill="#fff" stroke="#000" stroke-width="2.0"/>
<circle cx="358.8" cy="422.1" r="5.85" fill="#fff" stroke="#000" stroke-width="2.0"/>
<circle cx="414.8" cy="422.6" r="5.85" fill="#fff" stroke="#000" stroke-width="2.0"/>
<circle cx="408.8" cy="422.8" r="5.85" fill="#fff" stroke="#000" stroke-width="2.0"/>
<circle cx="400.8" cy="422.9" r="5.85" fill="#fff" stroke="#000" stroke-width="2.0"/>
<circle cx="398.3" cy="422.9" r="5.85" fill="#fff" stroke="#000" stroke-width="2.0"/>
<circle cx="395.6" cy="423.0" r="5.85" fill="#fff" stroke="#000" stroke-width="2.0"/>
<circle cx="376.7" cy="423.1" r="5.85" fill="#fff" stroke="#000" stroke-width="2.0"/>
<circle cx="405.9" cy="423.1" r="5.85" fill="#fff" stroke="#000" stroke-width="2.0"/>
<circle cx="369.7" cy="423.3" r="5.85" fill="#fff" stroke="#000" stroke-width="2.0"/>
<circle cx="367.1" cy="423.5" r="5.85" fill="#fff" stroke="#000" stroke-width="2.0"/>
<circle cx="379.9" cy="423.7" r="5.85" fill="#fff" stroke="#000" stroke-width="2.0"/>
<circle cx="377.2" cy="423.7" r="5.85" fill="#fff" stroke="#000" stroke-width="2.0"/>
<circle cx="408.6" cy="423.7" r="5.85" fill="#fff" stroke="#000" stroke-width="2.0"/>
<circle cx="373.6" cy="423.9" r="5.85" fill="#fff" stroke="#000" stroke-width="2.0"/>
<circle cx="393.5" cy="424.6" r="5.85" fill="#fff" stroke="#000" stroke-width="2.0"/>
<circle cx="366.0" cy="424.9" r="5.85" fill="#fff" stroke="#000" stroke-width="2.0"/>
<circle cx="402.7" cy="425.2" r="5.85" fill="#fff" stroke="#000" stroke-width="2.0"/>
<circle cx="403.1" cy="425.4" r="5.85" fill="#fff" stroke="#000" stroke-width="2.0"/>
<circle cx="397.4" cy="425.4" r="5.85" fill="#fff" stroke="#000" stroke-width="2.0"/>
<circle cx="396.2" cy="425.5" r="5.85" fill="#fff" stroke="#000" stroke-width="2.0"/>
<circle cx="406.4" cy="425.6" r="5.85" fill="#fff" stroke="#000" stroke-width="2.0"/>
<circle cx="400.9" cy="426.0" r="5.85" fill="#fff" stroke="#000" stroke-width="2.0"/>
<circle cx="378.9" cy="426.2" r="5.85" fill="#fff" stroke="#000" stroke-width="2.0"/>
<circle cx="376.1" cy="426.5" r="5.85" fill="#fff" stroke="#000" stroke-width="2.0"/>
<circle cx="395.0" cy="426.5" r="5.85" fill="#fff" stroke="#000" stroke-width="2.0"/>
<circle cx="370.3" cy="426.8" r="5.85" fill="#fff" stroke="#000" stroke-width="2.0"/>
<circle cx="408.3" cy="427.3" r="5.85" fill="#fff" stroke="#000" stroke-width="2.0"/>
<circle cx="367.7" cy="427.5" r="5.85" fill="#fff" stroke="#000" stroke-width="2.0"/>
<circle cx="397.5" cy="427.7" r="5.85" fill="#fff" stroke="#000" stroke-width="2.0"/>
<circle cx="373.0" cy="427.8" r="5.85" fill="#fff" stroke="#000" stroke-width="2.0"/>
<circle cx="403.8" cy="428.0" r="5.85" fill="#fff" stroke="#000" stroke-width="2.0"/>
<circle cx="406.0" cy="428.1" r="5.85" fill="#fff" stroke="#000" stroke-width="2.0"/>
<circle cx="412.3" cy="428.2" r="5.85" fill="#fff" stroke="#000" stroke-width="2.0"/>
<circle cx="380.8" cy="428.4" r="5.85" fill="#fff" stroke="#000" stroke-width="2.0"/>
<circle cx="393.4" cy="428.4" r="5.85" fill="#fff" stroke="#000" stroke-width="2.0"/>
<circle cx="377.9" cy="429.1" r="5.85" fill="#fff" stroke="#000" stroke-width="2.0"/>
<circle cx="400.7" cy="429.1" r="5.85" fill="#fff" stroke="#000" stroke-width="2.0"/>
<circle cx="376.1" cy="429.6" r="5.85" fill="#fff" stroke="#000" stroke-width="2.0"/>
<circle cx="369.2" cy="429.6" r="5.85" fill="#fff" stroke="#000" stroke-width="2.0"/>
<circle cx="374.0" cy="430.3" r="5.85" fill="#fff" stroke="#000" stroke-width="2.0"/>
<circle cx="398.3" cy="430.3" r="5.85" fill="#fff" stroke="#000" stroke-width="2.0"/>
<circle cx="406.8" cy="430.4" r="5.85" fill="#fff" stroke="#000" stroke-width="2.0"/>
<circle cx="394.3" cy="430.6" r="5.85" fill="#fff" stroke="#000" stroke-width="2.0"/>
<circle cx="393.3" cy="431.1" r="5.85" fill="#fff" stroke="#000" stroke-width="2.0"/>
<circle cx="380.6" cy="431.4" r="5.85" fill="#fff" stroke="#000" stroke-width="2.0"/>
<circle cx="400.2" cy="431.6" r="5.85" fill="#fff" stroke="#000" stroke-width="2.0"/>
<circle cx="402.2" cy="431.8" r="5.85" fill="#fff" stroke="#000" stroke-width="2.0"/>
<circle cx="404.8" cy="431.9" r="5.85" fill="#fff" stroke="#000" stroke-width="2.0"/>
<circle cx="370.0" cy="432.3" r="5.85" fill="#fff" stroke="#000" stroke-width="2.0"/>
<circle cx="393.4" cy="432.7" r="5.85" fill="#fff" stroke="#000" stroke-width="2.0"/>
<circle cx="365.5" cy="433.1" r="5.85" fill="#fff" stroke="#000" stroke-width="2.0"/>
<circle cx="376.8" cy="433.1" r="5.85" fill="#fff" stroke="#000" stroke-width="2.0"/>
<circle cx="396.2" cy="433.4" r="5.85" fill="#fff" stroke="#000" stroke-width="2.0"/>
<circle cx="374.2" cy="433.5" r="5.85" fill="#fff" stroke="#000" stroke-width="2.0"/>
<circle cx="379.2" cy="433.7" r="5.85" fill="#fff" stroke="#000" stroke-width="2.0"/>
<circle cx="400.5" cy="433.7" r="5.85" fill="#fff" stroke="#000" stroke-width="2.0"/>
<circle cx="406.6" cy="434.3" r="5.85" fill="#fff" stroke="#000" stroke-width="2.0"/>
<circle cx="398.2" cy="434.3" r="5.85" fill="#fff" stroke="#000" stroke-width="2.0"/>
<circle cx="394.0" cy="435.0" r="5.85" fill="#fff" stroke="#000" stroke-width="2.0"/>
<circle cx="402.4" cy="435.1" r="5.85" fill="#fff" stroke="#000" stroke-width="2.0"/>
<circle cx="359.6" cy="435.4" r="5.85" fill="#fff" stroke="#000" stroke-width="2.0"/>
<circle cx="405.1" cy="435.5" r="5.85" fill="#fff" stroke="#000" stroke-width="2.0"/>
<circle cx="373.3" cy="435.7" r="5.85" fill="#fff" stroke="#000" stroke-width="2.0"/>
<circle cx="388.2" cy="435.9" r="5.85" fill="#fff" stroke="#000" stroke-width="2.0"/>
<circle cx="372.0" cy="436.0" r="5.85" fill="#fff" stroke="#000" stroke-width="2.0"/>
<circle cx="400.4" cy="436.2" r="5.85" fill="#fff" stroke="#000" stroke-width="2.0"/>
<circle cx="378.1" cy="436.4" r="5.85" fill="#fff" stroke="#000" stroke-width="2.0"/>
<circle cx="397.9" cy="436.6" r="5.85" fill="#fff" stroke="#000" stroke-width="2.0"/>
<circle cx="381.4" cy="436.9" r="5.85" fill="#fff" stroke="#000" stroke-width="2.0"/>
<circle cx="385.2" cy="437.0" r="5.85" fill="#fff" stroke="#000" stroke-width="2.0"/>
<circle cx="387.1" cy="437.1" r="5.85" fill="#fff" stroke="#000" stroke-width="2.0"/>
<circle cx="379.3" cy="437.2" r="5.85" fill="#fff" stroke="#000" stroke-width="2.0"/>
<circle cx="375.4" cy="437.4" r="5.85" fill="#fff" stroke="#000" stroke-width="2.0"/>
<circle cx="383.6" cy="437.7" r="5.85" fill="#fff" stroke="#000" stroke-width="2.0"/>
<circle cx="395.4" cy="437.8" r="5.85" fill="#fff" stroke="#000" stroke-width="2.0"/>
<circle cx="388.8" cy="437.8" r="5.85" fill="#fff" stroke="#000" stroke-width="2.0"/>
<circle cx="396.0" cy="437.9" r="5.85" fill="#fff" stroke="#000" stroke-width="2.0"/>
<circle cx="377.9" cy="438.2" r="5.85" fill="#fff" stroke="#000" stroke-width="2.0"/>
<circle cx="392.9" cy="438.3" r="5.85" fill="#fff" stroke="#000" stroke-width="2.0"/>
<circle cx="393.8" cy="438.4" r="5.85" fill="#fff" stroke="#000" stroke-width="2.0"/>
<circle cx="390.9" cy="438.6" r="5.85" fill="#fff" stroke="#000" stroke-width="2.0"/>
<circle cx="401.1" cy="438.8" r="5.85" fill="#fff" stroke="#000" stroke-width="2.0"/>
<circle cx="385.7" cy="438.8" r="5.85" fill="#fff" stroke="#000" stroke-width="2.0"/>
<circle cx="380.4" cy="438.9" r="5.85" fill="#fff" stroke="#000" stroke-width="2.0"/>
<circle cx="378.0" cy="439.0" r="5.85" fill="#fff" stroke="#000" stroke-width="2.0"/>
<circle cx="403.4" cy="439.1" r="5.85" fill="#fff" stroke="#000" stroke-width="2.0"/>
<circle cx="398.1" cy="439.3" r="5.85" fill="#fff" stroke="#000" stroke-width="2.0"/>
<circle cx="399.9" cy="439.3" r="5.85" fill="#fff" stroke="#000" stroke-width="2.0"/>
<circle cx="387.4" cy="439.4" r="5.85" fill="#fff" stroke="#000" stroke-width="2.0"/>
<circle cx="378.7" cy="439.7" r="5.85" fill="#fff" stroke="#000" stroke-width="2.0"/>
<circle cx="394.8" cy="439.8" r="5.85" fill="#fff" stroke="#000" stroke-width="2.0"/>
<circle cx="397.3" cy="439.9" r="5.85" fill="#fff" stroke="#000" stroke-width="2.0"/>
<circle cx="392.6" cy="440.0" r="5.85" fill="#fff" stroke="#000" stroke-width="2.0"/>
<circle cx="382.8" cy="440.0" r="5.85" fill="#fff" stroke="#000" stroke-width="2.0"/>
<circle cx="375.3" cy="440.1" r="5.85" fill="#fff" stroke="#000" stroke-width="2.0"/>
<circle cx="389.4" cy="440.3" r="5.85" fill="#fff" stroke="#000" stroke-width="2.0"/>
<circle cx="380.5" cy="440.5" r="5.85" fill="#fff" stroke="#000" stroke-width="2.0"/>
<circle cx="377.1" cy="440.7" r="5.85" fill="#fff" stroke="#000" stroke-width="2.0"/>
<circle cx="394.0" cy="440.8" r="5.85" fill="#fff" stroke="#000" stroke-width="2.0"/>
<circle cx="385.9" cy="440.8" r="5.85" fill="#fff" stroke="#000" stroke-width="2.0"/>
<circle cx="402.4" cy="441.0" r="5.85" fill="#fff" stroke="#000" stroke-width="2.0"/>
<circle cx="415.4" cy="441.0" r="5.85" fill="#fff" stroke="#000" stroke-width="2.0"/>
<circle cx="401.3" cy="441.2" r="5.85" fill="#fff" stroke="#000" stroke-width="2.0"/>
<circle cx="393.6" cy="441.6" r="5.85" fill="#fff" stroke="#000" stroke-width="2.0"/>
<circle cx="378.6" cy="441.6" r="5.85" fill="#fff" stroke="#000" stroke-width="2.0"/>
<circle cx="390.2" cy="441.7" r="5.85" fill="#fff" stroke="#000" stroke-width="2.0"/>
<circle cx="397.9" cy="441.9" r="5.85" fill="#fff" stroke="#000" stroke-width="2.0"/>
<circle cx="382.7" cy="442.1" r="5.85" fill="#fff" stroke="#000" stroke-width="2.0"/>
<circle cx="400.7" cy="442.2" r="5.85" fill="#fff" stroke="#000" stroke-width="2.0"/>
<circle cx="392.4" cy="442.4" r="5.85" fill="#fff" stroke="#000" stroke-width="2.0"/>
<circle cx="384.8" cy="442.4" r="5.85" fill="#fff" stroke="#000" stroke-width="2.0"/>
<circle cx="392.6" cy="442.5" r="5.85" fill="#fff" stroke="#000" stroke-width="2.0"/>
<circle cx="376.7" cy="442.6" r="5.85" fill="#fff" stroke="#000" stroke-width="2.0"/>
<circle cx="396.0" cy="442.6" r="5.85" fill="#fff" stroke="#000" stroke-width="2.0"/>
<circle cx="377.3" cy="442.7" r="5.85" fill="#fff" stroke="#000" stroke-width="2.0"/>
<circle cx="387.6" cy="442.8" r="5.85" fill="#fff" stroke="#000" stroke-width="2.0"/>
<circle cx="398.9" cy="443.0" r="5.85" fill="#fff" stroke="#000" stroke-width="2.0"/>
<circle cx="380.6" cy="443.3" r="5.85" fill="#fff" stroke="#000" stroke-width="2.0"/>
<circle cx="399.6" cy="443.4" r="5.85" fill="#fff" stroke="#000" stroke-width="2.0"/>
<circle cx="395.2" cy="443.4" r="5.85" fill="#fff" stroke="#000" stroke-width="2.0"/>
<circle cx="386.3" cy="444.0" r="5.85" fill="#fff" stroke="#000" stroke-width="2.0"/>
<circle cx="382.3" cy="444.1" r="5.85" fill="#fff" stroke="#000" stroke-width="2.0"/>
<circle cx="389.0" cy="444.2" r="5.85" fill="#fff" stroke="#000" stroke-width="2.0"/>
<circle cx="395.1" cy="444.2" r="5.85" fill="#fff" stroke="#000" stroke-width="2.0"/>
<circle cx="391.8" cy="444.3" r="5.85" fill="#fff" stroke="#000" stroke-width="2.0"/>
<circle cx="397.1" cy="444.4" r="5.85" fill="#fff" stroke="#000" stroke-width="2.0"/>
<circle cx="384.6" cy="444.6" r="5.85" fill="#fff" stroke="#000" stroke-width="2.0"/>
<circle cx="392.3" cy="444.8" r="5.85" fill="#fff" stroke="#000" stroke-width="2.0"/>
<circle cx="399.8" cy="444.8" r="5.85" fill="#fff" stroke="#000" stroke-width="2.0"/>
<circle cx="380.8" cy="445.0" r="5.85" fill="#fff" stroke="#000" stroke-width="2.0"/>
<circle cx="397.8" cy="445.3" r="5.85" fill="#fff" stroke="#000" stroke-width="2.0"/>
<circle cx="377.2" cy="445.5" r="5.85" fill="#fff" stroke="#000" stroke-width="2.0"/>
<circle cx="386.7" cy="445.7" r="5.85" fill="#fff" stroke="#000" stroke-width="2.0"/>
<circle cx="379.4" cy="445.8" r="5.85" fill="#fff" stroke="#000" stroke-width="2.0"/>
<circle cx="396.3" cy="445.9" r="5.85" fill="#fff" stroke="#000" stroke-width="2.0"/>
<circle cx="392.7" cy="446.1" r="5.85" fill="#fff" stroke="#000" stroke-width="2.0"/>
<circle cx="384.8" cy="446.3" r="5.85" fill="#fff" stroke="#000" stroke-width="2.0"/>
<circle cx="389.7" cy="446.4" r="5.85" fill="#fff" stroke="#000" stroke-width="2.0"/>
<circle cx="398.3" cy="446.4" r="5.85" fill="#fff" stroke="#000" stroke-width="2.0"/>
<circle cx="383.0" cy="446.6" r="5.85" fill="#fff" stroke="#000" stroke-width="2.0"/>
<circle cx="394.2" cy="446.7" r="5.85" fill="#fff" stroke="#000" stroke-width="2.0"/>
<circle cx="388.1" cy="446.8" r="5.85" fill="#fff" stroke="#000" stroke-width="2.0"/>
<circle cx="393.1" cy="446.9" r="5.85" fill="#fff" stroke="#000" stroke-width="2.0"/>
<circle cx="399.5" cy="447.1" r="5.85" fill="#fff" stroke="#000" stroke-width="2.0"/>
<circle cx="399.9" cy="447.3" r="5.85" fill="#fff" stroke="#000" stroke-width="2.0"/>
<circle cx="395.5" cy="447.5" r="5.85" fill="#fff" stroke="#000" stroke-width="2.0"/>
<circle cx="386.0" cy="447.7" r="5.85" fill="#fff" stroke="#000" stroke-width="2.0"/>
<circle cx="379.7" cy="448.1" r="5.85" fill="#fff" stroke="#000" stroke-width="2.0"/>
<circle cx="397.6" cy="448.2" r="5.85" fill="#fff" stroke="#000" stroke-width="2.0"/>
<circle cx="392.2" cy="448.3" r="5.85" fill="#fff" stroke="#000" stroke-width="2.0"/>
<circle cx="396.2" cy="448.3" r="5.85" fill="#fff" stroke="#000" stroke-width="2.0"/>
<circle cx="389.5" cy="448.4" r="5.85" fill="#fff" stroke="#000" stroke-width="2.0"/>
<circle cx="382.4" cy="448.6" r="5.85" fill="#fff" stroke="#000" stroke-width="2.0"/>
<circle cx="391.7" cy="448.8" r="5.85" fill="#fff" stroke="#000" stroke-width="2.0"/>
<circle cx="385.0" cy="449.1" r="5.85" fill="#fff" stroke="#000" stroke-width="2.0"/>
<circle cx="394.0" cy="449.2" r="5.85" fill="#fff" stroke="#000" stroke-width="2.0"/>
<circle cx="398.4" cy="449.3" r="5.85" fill="#fff" stroke="#000" stroke-width="2.0"/>
<circle cx="394.8" cy="450.3" r="5.85" fill="#fff" stroke="#000" stroke-width="2.0"/>
<circle cx="396.6" cy="450.4" r="5.85" fill="#fff" stroke="#000" stroke-width="2.0"/>
<circle cx="391.7" cy="450.4" r="5.85" fill="#fff" stroke="#000" stroke-width="2.0"/>
<circle cx="390.9" cy="450.5" r="5.85" fill="#fff" stroke="#000" stroke-width="2.0"/>
<circle cx="386.0" cy="450.5" r="5.85" fill="#fff" stroke="#000" stroke-width="2.0"/>
<circle cx="387.7" cy="450.5" r="5.85" fill="#fff" stroke="#000" stroke-width="2.0"/>
<circle cx="381.6" cy="450.6" r="5.85" fill="#fff" stroke="#000" stroke-width="2.0"/>
<circle cx="389.3" cy="450.6" r="5.85" fill="#fff" stroke="#000" stroke-width="2.0"/>
<circle cx="394.0" cy="451.1" r="5.85" fill="#fff" stroke="#000" stroke-width="2.0"/>
<circle cx="401.7" cy="451.5" r="5.85" fill="#fff" stroke="#000" stroke-width="2.0"/>
<circle cx="395.7" cy="452.1" r="5.85" fill="#fff" stroke="#000" stroke-width="2.0"/>
<circle cx="380.9" cy="452.2" r="5.85" fill="#fff" stroke="#000" stroke-width="2.0"/>
<circle cx="392.8" cy="452.3" r="5.85" fill="#fff" stroke="#000" stroke-width="2.0"/>
<circle cx="390.1" cy="452.7" r="5.85" fill="#fff" stroke="#000" stroke-width="2.0"/>
<circle cx="384.0" cy="452.8" r="5.85" fill="#fff" stroke="#000" stroke-width="2.0"/>
<circle cx="385.7" cy="453.2" r="5.85" fill="#fff" stroke="#000" stroke-width="2.0"/>
<circle cx="396.6" cy="453.5" r="5.85" fill="#fff" stroke="#000" stroke-width="2.0"/>
<circle cx="387.9" cy="453.7" r="5.85" fill="#fff" stroke="#000" stroke-width="2.0"/>
<circle cx="394.0" cy="454.0" r="5.85" fill="#fff" stroke="#000" stroke-width="2.0"/>
<circle cx="381.7" cy="454.2" r="5.85" fill="#fff" stroke="#000" stroke-width="2.0"/>
<circle cx="389.7" cy="454.5" r="5.85" fill="#fff" stroke="#000" stroke-width="2.0"/>
<circle cx="384.5" cy="454.6" r="5.85" fill="#fff" stroke="#000" stroke-width="2.0"/>
<circle cx="393.8" cy="455.8" r="5.85" fill="#fff" stroke="#000" stroke-width="2.0"/>
<circle cx="386.5" cy="456.3" r="5.85" fill="#fff" stroke="#000" stroke-width="2.0"/>
<circle cx="384.0" cy="456.3" r="5.85" fill="#fff" stroke="#000" stroke-width="2.0"/>
<circle cx="389.1" cy="456.4" r="5.85" fill="#fff" stroke="#000" stroke-width="2.0"/>
<circle cx="391.6" cy="457.4" r="5.85" fill="#fff" stroke="#000" stroke-width="2.0"/>
<circle cx="391.4" cy="457.9" r="5.85" fill="#fff" stroke="#000" stroke-width="2.0"/>
<circle cx="387.8" cy="458.4" r="5.85" fill="#fff" stroke="#000" stroke-width="2.0"/>
<circle cx="389.6" cy="458.8" r="5.85" fill="#fff" stroke="#000" stroke-width="2.0"/>
<circle cx="388.4" cy="460.0" r="5.85" fill="#fff" stroke="#000" stroke-width="2.0"/>
<circle cx="385.6" cy="462.7" r="5.85" fill="#fff" stroke="#000" stroke-width="2.0"/>
<circle cx="421.0" cy="328.9" r="5.85" fill="#e31e26" stroke="#000" stroke-width="2.0"/>
<circle cx="412.9" cy="330.9" r="5.85" fill="#e31e26" stroke="#000" stroke-width="2.0"/>
<circle cx="309.7" cy="342.3" r="5.85" fill="#e31e26" stroke="#000" stroke-width="2.0"/>
<circle cx="408.0" cy="342.3" r="5.85" fill="#e31e26" stroke="#000" stroke-width="2.0"/>
<circle cx="463.5" cy="342.3" r="5.85" fill="#e31e26" stroke="#000" stroke-width="2.0"/>
<circle cx="420.1" cy="342.7" r="5.85" fill="#e31e26" stroke="#000" stroke-width="2.0"/>
<circle cx="476.2" cy="343.6" r="5.85" fill="#e31e26" stroke="#000" stroke-width="2.0"/>
<circle cx="359.9" cy="344.8" r="5.85" fill="#e31e26" stroke="#000" stroke-width="2.0"/>
<circle cx="402.7" cy="346.7" r="5.85" fill="#e31e26" stroke="#000" stroke-width="2.0"/>
<circle cx="512.2" cy="347.3" r="5.85" fill="#e31e26" stroke="#000" stroke-width="2.0"/>
<circle cx="472.7" cy="347.9" r="5.85" fill="#e31e26" stroke="#000" stroke-width="2.0"/>
<circle cx="378.8" cy="450.9" r="9.3" fill="#353a9c" stroke="#000" stroke-width="1.5"/>
<circle cx="1183.9" cy="308.1" r="5.85" fill="#fff" stroke="#000" stroke-width="2.0"/>
<circle cx="1229.2" cy="313.0" r="5.85" fill="#fff" stroke="#000" stroke-width="2.0"/>
<circle cx="1378.7" cy="313.1" r="5.85" fill="#fff" stroke="#000" stroke-width="2.0"/>
<circle cx="1175.1" cy="314.0" r="5.85" fill="#fff" stroke="#000" stroke-width="2.0"/>
<circle cx="1243.5" cy="314.4" r="5.85" fill="#fff" stroke="#000" stroke-width="2.0"/>
<circle cx="1249.3" cy="316.6" r="5.85" fill="#fff" stroke="#000" stroke-width="2.0"/>
<circle cx="1153.2" cy="316.9" r="5.85" fill="#fff" stroke="#000" stroke-width="2.0"/>
<circle cx="1224.9" cy="317.3" r="5.85" fill="#fff" stroke="#000" stroke-width="2.0"/>
<circle cx="1266.5" cy="317.3" r="5.85" fill="#fff" stroke="#000" stroke-width="2.0"/>
<circle cx="1315.2" cy="317.5" r="5.85" fill="#fff" stroke="#000" stroke-width="2.0"/>
<circle cx="1160.9" cy="317.9" r="5.85" fill="#fff" stroke="#000" stroke-width="2.0"/>
<circle cx="1319.6" cy="318.4" r="5.85" fill="#fff" stroke="#000" stroke-width="2.0"/>
<circle cx="1238.7" cy="319.2" r="5.85" fill="#fff" stroke="#000" stroke-width="2.0"/>
<circle cx="1280.9" cy="319.4" r="5.85" fill="#fff" stroke="#000" stroke-width="2.0"/>
<circle cx="1227.3" cy="319.7" r="5.85" fill="#fff" stroke="#000" stroke-width="2.0"/>
<circle cx="1244.1" cy="320.6" r="5.85" fill="#fff" stroke="#000" stroke-width="2.0"/>
<circle cx="1233.5" cy="320.9" r="5.85" fill="#fff" stroke="#000" stroke-width="2.0"/>
<circle cx="1234.6" cy="321.3" r="5.85" fill="#fff" stroke="#000" stroke-width="2.0"/>
<circle cx="1288.0" cy="323.0" r="5.85" fill="#fff" stroke="#000" stroke-width="2.0"/>
<circle cx="1249.5" cy="324.2" r="5.85" fill="#fff" stroke="#000" stroke-width="2.0"/>
<circle cx="1226.9" cy="324.3" r="5.85" fill="#fff" stroke="#000" stroke-width="2.0"/>
<circle cx="1254.8" cy="324.3" r="5.85" fill="#fff" stroke="#000" stroke-width="2.0"/>
<circle cx="1239.8" cy="324.4" r="5.85" fill="#fff" stroke="#000" stroke-width="2.0"/>
<circle cx="1169.6" cy="324.5" r="5.85" fill="#fff" stroke="#000" stroke-width="2.0"/>
<circle cx="1244.3" cy="325.1" r="5.85" fill="#fff" stroke="#000" stroke-width="2.0"/>
<circle cx="1231.6" cy="325.7" r="5.85" fill="#fff" stroke="#000" stroke-width="2.0"/>
<circle cx="1235.7" cy="327.6" r="5.85" fill="#fff" stroke="#000" stroke-width="2.0"/>
<circle cx="1190.0" cy="328.2" r="5.85" fill="#fff" stroke="#000" stroke-width="2.0"/>
<circle cx="1252.1" cy="328.8" r="5.85" fill="#fff" stroke="#000" stroke-width="2.0"/>
<circle cx="1162.0" cy="328.9" r="5.85" fill="#fff" stroke="#000" stroke-width="2.0"/>
<circle cx="1229.0" cy="330.0" r="5.85" fill="#fff" stroke="#000" stroke-width="2.0"/>
<circle cx="1246.1" cy="330.1" r="5.85" fill="#fff" stroke="#000" stroke-width="2.0"/>
<circle cx="1263.6" cy="330.2" r="5.85" fill="#fff" stroke="#000" stroke-width="2.0"/>
<circle cx="1103.9" cy="330.6" r="5.85" fill="#fff" stroke="#000" stroke-width="2.0"/>
<circle cx="1240.7" cy="331.2" r="5.85" fill="#fff" stroke="#000" stroke-width="2.0"/>
<circle cx="1193.3" cy="331.4" r="5.85" fill="#fff" stroke="#000" stroke-width="2.0"/>
<circle cx="1297.7" cy="332.6" r="5.85" fill="#fff" stroke="#000" stroke-width="2.0"/>
<circle cx="1281.3" cy="332.6" r="5.85" fill="#fff" stroke="#000" stroke-width="2.0"/>
<circle cx="1256.3" cy="332.8" r="5.85" fill="#fff" stroke="#000" stroke-width="2.0"/>
<circle cx="1167.4" cy="333.3" r="5.85" fill="#fff" stroke="#000" stroke-width="2.0"/>
<circle cx="1249.2" cy="333.4" r="5.85" fill="#fff" stroke="#000" stroke-width="2.0"/>
<circle cx="1233.0" cy="333.8" r="5.85" fill="#fff" stroke="#000" stroke-width="2.0"/>
<circle cx="1228.6" cy="335.0" r="5.85" fill="#fff" stroke="#000" stroke-width="2.0"/>
<circle cx="1195.5" cy="336.0" r="5.85" fill="#fff" stroke="#000" stroke-width="2.0"/>
<circle cx="1253.0" cy="336.2" r="5.85" fill="#fff" stroke="#000" stroke-width="2.0"/>
<circle cx="1190.8" cy="337.1" r="5.85" fill="#fff" stroke="#000" stroke-width="2.0"/>
<circle cx="1245.7" cy="337.1" r="5.85" fill="#fff" stroke="#000" stroke-width="2.0"/>
<circle cx="1270.8" cy="337.4" r="5.85" fill="#fff" stroke="#000" stroke-width="2.0"/>
<circle cx="1238.6" cy="338.3" r="5.85" fill="#fff" stroke="#000" stroke-width="2.0"/>
<circle cx="1232.8" cy="339.3" r="5.85" fill="#fff" stroke="#000" stroke-width="2.0"/>
<circle cx="1228.1" cy="339.5" r="5.85" fill="#fff" stroke="#000" stroke-width="2.0"/>
<circle cx="1249.9" cy="339.8" r="5.85" fill="#fff" stroke="#000" stroke-width="2.0"/>
<circle cx="1246.6" cy="340.1" r="5.85" fill="#fff" stroke="#000" stroke-width="2.0"/>
<circle cx="1243.1" cy="340.4" r="5.85" fill="#fff" stroke="#000" stroke-width="2.0"/>
<circle cx="1196.4" cy="340.5" r="5.85" fill="#fff" stroke="#000" stroke-width="2.0"/>
<circle cx="1254.5" cy="340.7" r="5.85" fill="#fff" stroke="#000" stroke-width="2.0"/>
<circle cx="1240.0" cy="340.8" r="5.85" fill="#fff" stroke="#000" stroke-width="2.0"/>
<circle cx="1234.2" cy="341.3" r="5.85" fill="#fff" stroke="#000" stroke-width="2.0"/>
<circle cx="1249.3" cy="342.0" r="5.85" fill="#fff" stroke="#000" stroke-width="2.0"/>
<circle cx="1168.5" cy="342.0" r="5.85" fill="#fff" stroke="#000" stroke-width="2.0"/>
<circle cx="1244.8" cy="342.7" r="5.85" fill="#fff" stroke="#000" stroke-width="2.0"/>
<circle cx="1238.0" cy="342.8" r="5.85" fill="#fff" stroke="#000" stroke-width="2.0"/>
<circle cx="1239.6" cy="343.7" r="5.85" fill="#fff" stroke="#000" stroke-width="2.0"/>
<circle cx="1234.9" cy="343.8" r="5.85" fill="#fff" stroke="#000" stroke-width="2.0"/>
<circle cx="1235.4" cy="343.9" r="5.85" fill="#fff" stroke="#000" stroke-width="2.0"/>
<circle cx="1241.6" cy="344.0" r="5.85" fill="#fff" stroke="#000" stroke-width="2.0"/>
<circle cx="1247.3" cy="344.0" r="5.85" fill="#fff" stroke="#000" stroke-width="2.0"/>
<circle cx="1190.8" cy="344.1" r="5.85" fill="#fff" stroke="#000" stroke-width="2.0"/>
<circle cx="1232.7" cy="344.1" r="5.85" fill="#fff" stroke="#000" stroke-width="2.0"/>
<circle cx="1227.3" cy="344.4" r="5.85" fill="#fff" stroke="#000" stroke-width="2.0"/>
<circle cx="1244.7" cy="344.6" r="5.85" fill="#fff" stroke="#000" stroke-width="2.0"/>
<circle cx="1251.6" cy="344.6" r="5.85" fill="#fff" stroke="#000" stroke-width="2.0"/>
<circle cx="1254.3" cy="345.5" r="5.85" fill="#fff" stroke="#000" stroke-width="2.0"/>
<circle cx="1237.9" cy="345.9" r="5.85" fill="#fff" stroke="#000" stroke-width="2.0"/>
<circle cx="1196.2" cy="346.4" r="5.85" fill="#fff" stroke="#000" stroke-width="2.0"/>
<circle cx="1234.4" cy="346.5" r="5.85" fill="#fff" stroke="#000" stroke-width="2.0"/>
<circle cx="1245.3" cy="346.9" r="5.85" fill="#fff" stroke="#000" stroke-width="2.0"/>
<circle cx="1241.3" cy="347.3" r="5.85" fill="#fff" stroke="#000" stroke-width="2.0"/>
<circle cx="1249.3" cy="347.4" r="5.85" fill="#fff" stroke="#000" stroke-width="2.0"/>
<circle cx="1254.0" cy="347.5" r="5.85" fill="#fff" stroke="#000" stroke-width="2.0"/>
<circle cx="1274.7" cy="347.5" r="5.85" fill="#fff" stroke="#000" stroke-width="2.0"/>
<circle cx="1231.9" cy="347.7" r="5.85" fill="#fff" stroke="#000" stroke-width="2.0"/>
<circle cx="1230.1" cy="348.2" r="5.85" fill="#fff" stroke="#000" stroke-width="2.0"/>
<circle cx="1249.0" cy="348.3" r="5.85" fill="#fff" stroke="#000" stroke-width="2.0"/>
<circle cx="1192.0" cy="348.6" r="5.85" fill="#fff" stroke="#000" stroke-width="2.0"/>
<circle cx="1234.7" cy="348.6" r="5.85" fill="#fff" stroke="#000" stroke-width="2.0"/>
<circle cx="1085.3" cy="348.6" r="5.85" fill="#fff" stroke="#000" stroke-width="2.0"/>
<circle cx="1293.3" cy="348.6" r="5.85" fill="#fff" stroke="#000" stroke-width="2.0"/>
<circle cx="1285.7" cy="348.6" r="5.85" fill="#fff" stroke="#000" stroke-width="2.0"/>
<circle cx="1237.5" cy="349.4" r="5.85" fill="#fff" stroke="#000" stroke-width="2.0"/>
<circle cx="1175.1" cy="349.7" r="5.85" fill="#fff" stroke="#000" stroke-width="2.0"/>
<circle cx="1242.6" cy="349.8" r="5.85" fill="#fff" stroke="#000" stroke-width="2.0"/>
<circle cx="1251.8" cy="349.8" r="5.85" fill="#fff" stroke="#000" stroke-width="2.0"/>
<circle cx="1242.8" cy="350.0" r="5.85" fill="#fff" stroke="#000" stroke-width="2.0"/>
<circle cx="1234.5" cy="350.3" r="5.85" fill="#fff" stroke="#000" stroke-width="2.0"/>
<circle cx="1253.8" cy="350.6" r="5.85" fill="#fff" stroke="#000" stroke-width="2.0"/>
<circle cx="1254.5" cy="350.8" r="5.85" fill="#fff" stroke="#000" stroke-width="2.0"/>
<circle cx="1246.1" cy="350.9" r="5.85" fill="#fff" stroke="#000" stroke-width="2.0"/>
<circle cx="1231.4" cy="351.4" r="5.85" fill="#fff" stroke="#000" stroke-width="2.0"/>
<circle cx="1226.4" cy="352.2" r="5.85" fill="#fff" stroke="#000" stroke-width="2.0"/>
<circle cx="1237.4" cy="352.2" r="5.85" fill="#fff" stroke="#000" stroke-width="2.0"/>
<circle cx="1248.8" cy="352.2" r="5.85" fill="#fff" stroke="#000" stroke-width="2.0"/>
<circle cx="1249.5" cy="352.7" r="5.85" fill="#fff" stroke="#000" stroke-width="2.0"/>
<circle cx="1251.6" cy="352.7" r="5.85" fill="#fff" stroke="#000" stroke-width="2.0"/>
<circle cx="1237.8" cy="352.9" r="5.85" fill="#fff" stroke="#000" stroke-width="2.0"/>
<circle cx="1232.3" cy="353.0" r="5.85" fill="#fff" stroke="#000" stroke-width="2.0"/>
<circle cx="1243.8" cy="353.3" r="5.85" fill="#fff" stroke="#000" stroke-width="2.0"/>
<circle cx="1240.1" cy="353.5" r="5.85" fill="#fff" stroke="#000" stroke-width="2.0"/>
<circle cx="1194.2" cy="353.6" r="5.85" fill="#fff" stroke="#000" stroke-width="2.0"/>
<circle cx="1246.7" cy="354.1" r="5.85" fill="#fff" stroke="#000" stroke-width="2.0"/>
<circle cx="1199.0" cy="354.2" r="5.85" fill="#fff" stroke="#000" stroke-width="2.0"/>
<circle cx="1254.2" cy="354.4" r="5.85" fill="#fff" stroke="#000" stroke-width="2.0"/>
<circle cx="1232.1" cy="354.6" r="5.85" fill="#fff" stroke="#000" stroke-width="2.0"/>
<circle cx="1236.0" cy="355.0" r="5.85" fill="#fff" stroke="#000" stroke-width="2.0"/>
<circle cx="1242.0" cy="355.3" r="5.85" fill="#fff" stroke="#000" stroke-width="2.0"/>
<circle cx="1158.7" cy="355.8" r="5.85" fill="#fff" stroke="#000" stroke-width="2.0"/>
<circle cx="1342.6" cy="355.8" r="5.85" fill="#fff" stroke="#000" stroke-width="2.0"/>
<circle cx="1249.3" cy="355.9" r="5.85" fill="#fff" stroke="#000" stroke-width="2.0"/>
<circle cx="1238.9" cy="356.0" r="5.85" fill="#fff" stroke="#000" stroke-width="2.0"/>
<circle cx="1253.7" cy="356.1" r="5.85" fill="#fff" stroke="#000" stroke-width="2.0"/>
<circle cx="1242.9" cy="356.4" r="5.85" fill="#fff" stroke="#000" stroke-width="2.0"/>
<circle cx="1252.1" cy="356.7" r="5.85" fill="#fff" stroke="#000" stroke-width="2.0"/>
<circle cx="1193.4" cy="357.8" r="5.85" fill="#fff" stroke="#000" stroke-width="2.0"/>
<circle cx="1231.5" cy="357.8" r="5.85" fill="#fff" stroke="#000" stroke-width="2.0"/>
<circle cx="1233.8" cy="358.0" r="5.85" fill="#fff" stroke="#000" stroke-width="2.0"/>
<circle cx="1227.7" cy="358.1" r="5.85" fill="#fff" stroke="#000" stroke-width="2.0"/>
<circle cx="1194.3" cy="358.2" r="5.85" fill="#fff" stroke="#000" stroke-width="2.0"/>
<circle cx="1234.9" cy="358.3" r="5.85" fill="#fff" stroke="#000" stroke-width="2.0"/>
<circle cx="1245.6" cy="358.5" r="5.85" fill="#fff" stroke="#000" stroke-width="2.0"/>
<circle cx="1248.5" cy="358.6" r="5.85" fill="#fff" stroke="#000" stroke-width="2.0"/>
<circle cx="1198.8" cy="359.0" r="5.85" fill="#fff" stroke="#000" stroke-width="2.0"/>
<circle cx="1241.8" cy="359.1" r="5.85" fill="#fff" stroke="#000" stroke-width="2.0"/>
<circle cx="1253.3" cy="359.3" r="5.85" fill="#fff" stroke="#000" stroke-width="2.0"/>
<circle cx="1239.7" cy="359.5" r="5.85" fill="#fff" stroke="#000" stroke-width="2.0"/>
<circle cx="1239.0" cy="359.7" r="5.85" fill="#fff" stroke="#000" stroke-width="2.0"/>
<circle cx="1196.1" cy="359.8" r="5.85" fill="#fff" stroke="#000" stroke-width="2.0"/>
<circle cx="1248.1" cy="359.9" r="5.85" fill="#fff" stroke="#000" stroke-width="2.0"/>
<circle cx="1231.8" cy="360.6" r="5.85" fill="#fff" stroke="#000" stroke-width="2.0"/>
<circle cx="1198.8" cy="361.0" r="5.85" fill="#fff" stroke="#000" stroke-width="2.0"/>
<circle cx="1249.9" cy="361.0" r="5.85" fill="#fff" stroke="#000" stroke-width="2.0"/>
<circle cx="1190.1" cy="361.4" r="5.85" fill="#fff" stroke="#000" stroke-width="2.0"/>
<circle cx="1236.3" cy="361.5" r="5.85" fill="#fff" stroke="#000" stroke-width="2.0"/>
<circle cx="1192.5" cy="361.6" r="5.85" fill="#fff" stroke="#000" stroke-width="2.0"/>
<circle cx="1247.2" cy="361.9" r="5.85" fill="#fff" stroke="#000" stroke-width="2.0"/>
<circle cx="1253.9" cy="362.3" r="5.85" fill="#fff" stroke="#000" stroke-width="2.0"/>
<circle cx="1239.7" cy="362.4" r="5.85" fill="#fff" stroke="#000" stroke-width="2.0"/>
<circle cx="1185.6" cy="363.0" r="5.85" fill="#fff" stroke="#000" stroke-width="2.0"/>
<circle cx="1195.2" cy="363.0" r="5.85" fill="#fff" stroke="#000" stroke-width="2.0"/>
<circle cx="1254.6" cy="363.4" r="5.85" fill="#fff" stroke="#000" stroke-width="2.0"/>
<circle cx="1243.8" cy="363.4" r="5.85" fill="#fff" stroke="#000" stroke-width="2.0"/>
<circle cx="1200.4" cy="363.7" r="5.85" fill="#fff" stroke="#000" stroke-width="2.0"/>
<circle cx="1232.7" cy="363.7" r="5.85" fill="#fff" stroke="#000" stroke-width="2.0"/>
<circle cx="1232.8" cy="363.8" r="5.85" fill="#fff" stroke="#000" stroke-width="2.0"/>
<circle cx="1246.0" cy="364.0" r="5.85" fill="#fff" stroke="#000" stroke-width="2.0"/>
<circle cx="1251.5" cy="364.1" r="5.85" fill="#fff" stroke="#000" stroke-width="2.0"/>
<circle cx="1199.0" cy="364.2" r="5.85" fill="#fff" stroke="#000" stroke-width="2.0"/>
<circle cx="1241.4" cy="364.9" r="5.85" fill="#fff" stroke="#000" stroke-width="2.0"/>
<circle cx="1248.6" cy="364.9" r="5.85" fill="#fff" stroke="#000" stroke-width="2.0"/>
<circle cx="1230.0" cy="365.0" r="5.85" fill="#fff" stroke="#000" stroke-width="2.0"/>
<circle cx="1192.2" cy="365.2" r="5.85" fill="#fff" stroke="#000" stroke-width="2.0"/>
<circle cx="1241.0" cy="365.3" r="5.85" fill="#fff" stroke="#000" stroke-width="2.0"/>
<circle cx="1236.0" cy="365.6" r="5.85" fill="#fff" stroke="#000" stroke-width="2.0"/>
<circle cx="1245.6" cy="366.2" r="5.85" fill="#fff" stroke="#000" stroke-width="2.0"/>
<circle cx="1195.9" cy="366.3" r="5.85" fill="#fff" stroke="#000" stroke-width="2.0"/>
<circle cx="1228.1" cy="366.7" r="5.85" fill="#fff" stroke="#000" stroke-width="2.0"/>
<circle cx="1249.8" cy="366.9" r="5.85" fill="#fff" stroke="#000" stroke-width="2.0"/>
<circle cx="1250.8" cy="367.0" r="5.85" fill="#fff" stroke="#000" stroke-width="2.0"/>
<circle cx="1196.0" cy="367.1" r="5.85" fill="#fff" stroke="#000" stroke-width="2.0"/>
<circle cx="1199.2" cy="367.2" r="5.85" fill="#fff" stroke="#000" stroke-width="2.0"/>
<circle cx="1238.8" cy="367.6" r="5.85" fill="#fff" stroke="#000" stroke-width="2.0"/>
<circle cx="1232.2" cy="367.7" r="5.85" fill="#fff" stroke="#000" stroke-width="2.0"/>
<circle cx="1243.6" cy="368.1" r="5.85" fill="#fff" stroke="#000" stroke-width="2.0"/>
<circle cx="1200.9" cy="368.2" r="5.85" fill="#fff" stroke="#000" stroke-width="2.0"/>
<circle cx="1193.1" cy="368.3" r="5.85" fill="#fff" stroke="#000" stroke-width="2.0"/>
<circle cx="1255.2" cy="368.4" r="5.85" fill="#fff" stroke="#000" stroke-width="2.0"/>
<circle cx="1236.1" cy="368.5" r="5.85" fill="#fff" stroke="#000" stroke-width="2.0"/>
<circle cx="1188.3" cy="368.6" r="5.85" fill="#fff" stroke="#000" stroke-width="2.0"/>
<circle cx="1233.9" cy="368.6" r="5.85" fill="#fff" stroke="#000" stroke-width="2.0"/>
<circle cx="1262.5" cy="368.8" r="5.85" fill="#fff" stroke="#000" stroke-width="2.0"/>
<circle cx="1248.8" cy="369.4" r="5.85" fill="#fff" stroke="#000" stroke-width="2.0"/>
<circle cx="1229.8" cy="369.4" r="5.85" fill="#fff" stroke="#000" stroke-width="2.0"/>
<circle cx="1181.8" cy="369.9" r="5.85" fill="#fff" stroke="#000" stroke-width="2.0"/>
<circle cx="1245.2" cy="370.1" r="5.85" fill="#fff" stroke="#000" stroke-width="2.0"/>
<circle cx="1268.2" cy="370.5" r="5.85" fill="#fff" stroke="#000" stroke-width="2.0"/>
<circle cx="1238.5" cy="370.6" r="5.85" fill="#fff" stroke="#000" stroke-width="2.0"/>
<circle cx="1246.0" cy="370.6" r="5.85" fill="#fff" stroke="#000" stroke-width="2.0"/>
<circle cx="1197.8" cy="370.7" r="5.85" fill="#fff" stroke="#000" stroke-width="2.0"/>
<circle cx="1234.4" cy="370.7" r="5.85" fill="#fff" stroke="#000" stroke-width="2.0"/>
<circle cx="1194.0" cy="371.1" r="5.85" fill="#fff" stroke="#000" stroke-width="2.0"/>
<circle cx="1242.1" cy="371.2" r="5.85" fill="#fff" stroke="#000" stroke-width="2.0"/>
<circle cx="1237.6" cy="371.2" r="5.85" fill="#fff" stroke="#000" stroke-width="2.0"/>
<circle cx="1201.3" cy="371.3" r="5.85" fill="#fff" stroke="#000" stroke-width="2.0"/>
<circle cx="1177.3" cy="371.6" r="5.85" fill="#fff" stroke="#000" stroke-width="2.0"/>
<circle cx="1230.7" cy="372.0" r="5.85" fill="#fff" stroke="#000" stroke-width="2.0"/>
<circle cx="1202.1" cy="372.7" r="5.85" fill="#fff" stroke="#000" stroke-width="2.0"/>
<circle cx="1251.2" cy="372.7" r="5.85" fill="#fff" stroke="#000" stroke-width="2.0"/>
<circle cx="1249.8" cy="372.7" r="5.85" fill="#fff" stroke="#000" stroke-width="2.0"/>
<circle cx="1191.0" cy="372.8" r="5.85" fill="#fff" stroke="#000" stroke-width="2.0"/>
<circle cx="1228.7" cy="373.1" r="5.85" fill="#fff" stroke="#000" stroke-width="2.0"/>
<circle cx="1260.2" cy="373.5" r="5.85" fill="#fff" stroke="#000" stroke-width="2.0"/>
<circle cx="1186.5" cy="373.6" r="5.85" fill="#fff" stroke="#000" stroke-width="2.0"/>
<circle cx="1233.9" cy="373.7" r="5.85" fill="#fff" stroke="#000" stroke-width="2.0"/>
<circle cx="1191.8" cy="373.7" r="5.85" fill="#fff" stroke="#000" stroke-width="2.0"/>
<circle cx="1245.5" cy="373.7" r="5.85" fill="#fff" stroke="#000" stroke-width="2.0"/>
<circle cx="1233.9" cy="374.0" r="5.85" fill="#fff" stroke="#000" stroke-width="2.0"/>
<circle cx="1198.5" cy="374.4" r="5.85" fill="#fff" stroke="#000" stroke-width="2.0"/>
<circle cx="1240.2" cy="374.5" r="5.85" fill="#fff" stroke="#000" stroke-width="2.0"/>
<circle cx="1194.7" cy="374.7" r="5.85" fill="#fff" stroke="#000" stroke-width="2.0"/>
<circle cx="1244.3" cy="374.8" r="5.85" fill="#fff" stroke="#000" stroke-width="2.0"/>
<circle cx="1248.3" cy="374.9" r="5.85" fill="#fff" stroke="#000" stroke-width="2.0"/>
<circle cx="1231.4" cy="375.0" r="5.85" fill="#fff" stroke="#000" stroke-width="2.0"/>
<circle cx="1197.6" cy="375.1" r="5.85" fill="#fff" stroke="#000" stroke-width="2.0"/>
<circle cx="1236.9" cy="375.1" r="5.85" fill="#fff" stroke="#000" stroke-width="2.0"/>
<circle cx="1242.8" cy="375.5" r="5.85" fill="#fff" stroke="#000" stroke-width="2.0"/>
<circle cx="1237.8" cy="376.0" r="5.85" fill="#fff" stroke="#000" stroke-width="2.0"/>
<circle cx="1202.5" cy="376.6" r="5.85" fill="#fff" stroke="#000" stroke-width="2.0"/>
<circle cx="1254.4" cy="376.8" r="5.85" fill="#fff" stroke="#000" stroke-width="2.0"/>
<circle cx="1192.7" cy="376.9" r="5.85" fill="#fff" stroke="#000" stroke-width="2.0"/>
<circle cx="1189.7" cy="377.2" r="5.85" fill="#fff" stroke="#000" stroke-width="2.0"/>
<circle cx="1234.0" cy="377.2" r="5.85" fill="#fff" stroke="#000" stroke-width="2.0"/>
<circle cx="1197.2" cy="377.4" r="5.85" fill="#fff" stroke="#000" stroke-width="2.0"/>
<circle cx="1239.2" cy="377.4" r="5.85" fill="#fff" stroke="#000" stroke-width="2.0"/>
<circle cx="1229.6" cy="377.5" r="5.85" fill="#fff" stroke="#000" stroke-width="2.0"/>
<circle cx="1246.7" cy="377.7" r="5.85" fill="#fff" stroke="#000" stroke-width="2.0"/>
<circle cx="1248.4" cy="378.2" r="5.85" fill="#fff" stroke="#000" stroke-width="2.0"/>
<circle cx="1202.1" cy="378.4" r="5.85" fill="#fff" stroke="#000" stroke-width="2.0"/>
<circle cx="1235.9" cy="380.1" r="5.85" fill="#fff" stroke="#000" stroke-width="2.0"/>
<circle cx="1198.4" cy="380.1" r="5.85" fill="#fff" stroke="#000" stroke-width="2.0"/>
<circle cx="1235.3" cy="380.1" r="5.85" fill="#fff" stroke="#000" stroke-width="2.0"/>
<circle cx="1238.3" cy="380.2" r="5.85" fill="#fff" stroke="#000" stroke-width="2.0"/>
<circle cx="1260.5" cy="380.4" r="5.85" fill="#fff" stroke="#000" stroke-width="2.0"/>
<circle cx="1243.9" cy="380.5" r="5.85" fill="#fff" stroke="#000" stroke-width="2.0"/>
<circle cx="1201.4" cy="380.6" r="5.85" fill="#fff" stroke="#000" stroke-width="2.0"/>
<circle cx="1241.0" cy="380.6" r="5.85" fill="#fff" stroke="#000" stroke-width="2.0"/>
<circle cx="1231.0" cy="380.8" r="5.85" fill="#fff" stroke="#000" stroke-width="2.0"/>
<circle cx="1242.0" cy="380.9" r="5.85" fill="#fff" stroke="#000" stroke-width="2.0"/>
<circle cx="1195.2" cy="381.0" r="5.85" fill="#fff" stroke="#000" stroke-width="2.0"/>
<circle cx="1194.9" cy="381.0" r="5.85" fill="#fff" stroke="#000" stroke-width="2.0"/>
<circle cx="1231.3" cy="381.2" r="5.85" fill="#fff" stroke="#000" stroke-width="2.0"/>
<circle cx="1226.7" cy="381.4" r="5.85" fill="#fff" stroke="#000" stroke-width="2.0"/>
<circle cx="1191.0" cy="381.4" r="5.85" fill="#fff" stroke="#000" stroke-width="2.0"/>
<circle cx="1228.3" cy="381.4" r="5.85" fill="#fff" stroke="#000" stroke-width="2.0"/>
<circle cx="1324.0" cy="381.4" r="5.85" fill="#fff" stroke="#000" stroke-width="2.0"/>
<circle cx="1189.0" cy="381.8" r="5.85" fill="#fff" stroke="#000" stroke-width="2.0"/>
<circle cx="1233.5" cy="382.7" r="5.85" fill="#fff" stroke="#000" stroke-width="2.0"/>
<circle cx="1200.3" cy="383.0" r="5.85" fill="#fff" stroke="#000" stroke-width="2.0"/>
<circle cx="1246.6" cy="383.2" r="5.85" fill="#fff" stroke="#000" stroke-width="2.0"/>
<circle cx="1236.4" cy="383.2" r="5.85" fill="#fff" stroke="#000" stroke-width="2.0"/>
<circle cx="1252.1" cy="383.3" r="5.85" fill="#fff" stroke="#000" stroke-width="2.0"/>
<circle cx="1239.9" cy="383.3" r="5.85" fill="#fff" stroke="#000" stroke-width="2.0"/>
<circle cx="1203.1" cy="383.8" r="5.85" fill="#fff" stroke="#000" stroke-width="2.0"/>
<circle cx="1199.4" cy="384.0" r="5.85" fill="#fff" stroke="#000" stroke-width="2.0"/>
<circle cx="1191.6" cy="384.4" r="5.85" fill="#fff" stroke="#000" stroke-width="2.0"/>
<circle cx="1242.6" cy="384.8" r="5.85" fill="#fff" stroke="#000" stroke-width="2.0"/>
<circle cx="1237.3" cy="385.0" r="5.85" fill="#fff" stroke="#000" stroke-width="2.0"/>
<circle cx="1228.8" cy="385.0" r="5.85" fill="#fff" stroke="#000" stroke-width="2.0"/>
<circle cx="1195.7" cy="385.2" r="5.85" fill="#fff" stroke="#000" stroke-width="2.0"/>
<circle cx="1191.6" cy="385.6" r="5.85" fill="#fff" stroke="#000" stroke-width="2.0"/>
<circle cx="1279.1" cy="385.8" r="5.85" fill="#fff" stroke="#000" stroke-width="2.0"/>
<circle cx="1226.8" cy="386.0" r="5.85" fill="#fff" stroke="#000" stroke-width="2.0"/>
<circle cx="1232.3" cy="386.1" r="5.85" fill="#fff" stroke="#000" stroke-width="2.0"/>
<circle cx="1237.2" cy="386.1" r="5.85" fill="#fff" stroke="#000" stroke-width="2.0"/>
<circle cx="1231.3" cy="386.2" r="5.85" fill="#fff" stroke="#000" stroke-width="2.0"/>
<circle cx="1240.1" cy="386.4" r="5.85" fill="#fff" stroke="#000" stroke-width="2.0"/>
<circle cx="1203.1" cy="386.9" r="5.85" fill="#fff" stroke="#000" stroke-width="2.0"/>
<circle cx="1287.9" cy="386.9" r="5.85" fill="#fff" stroke="#000" stroke-width="2.0"/>
<circle cx="1234.6" cy="387.1" r="5.85" fill="#fff" stroke="#000" stroke-width="2.0"/>
<circle cx="1202.5" cy="387.4" r="5.85" fill="#fff" stroke="#000" stroke-width="2.0"/>
<circle cx="1190.8" cy="387.5" r="5.85" fill="#fff" stroke="#000" stroke-width="2.0"/>
<circle cx="1226.8" cy="387.7" r="5.85" fill="#fff" stroke="#000" stroke-width="2.0"/>
<circle cx="1197.2" cy="388.3" r="5.85" fill="#fff" stroke="#000" stroke-width="2.0"/>
<circle cx="1242.2" cy="388.3" r="5.85" fill="#fff" stroke="#000" stroke-width="2.0"/>
<circle cx="1197.8" cy="388.3" r="5.85" fill="#fff" stroke="#000" stroke-width="2.0"/>
<circle cx="1188.1" cy="388.9" r="5.85" fill="#fff" stroke="#000" stroke-width="2.0"/>
<circle cx="1193.4" cy="388.9" r="5.85" fill="#fff" stroke="#000" stroke-width="2.0"/>
<circle cx="1223.3" cy="389.2" r="5.85" fill="#fff" stroke="#000" stroke-width="2.0"/>
<circle cx="1231.4" cy="389.4" r="5.85" fill="#fff" stroke="#000" stroke-width="2.0"/>
<circle cx="1240.6" cy="389.8" r="5.85" fill="#fff" stroke="#000" stroke-width="2.0"/>
<circle cx="1237.6" cy="390.1" r="5.85" fill="#fff" stroke="#000" stroke-width="2.0"/>
<circle cx="1251.7" cy="390.2" r="5.85" fill="#fff" stroke="#000" stroke-width="2.0"/>
<circle cx="1231.0" cy="390.4" r="5.85" fill="#fff" stroke="#000" stroke-width="2.0"/>
<circle cx="1226.1" cy="390.4" r="5.85" fill="#fff" stroke="#000" stroke-width="2.0"/>
<circle cx="1202.8" cy="390.5" r="5.85" fill="#fff" stroke="#000" stroke-width="2.0"/>
<circle cx="1249.9" cy="390.7" r="5.85" fill="#fff" stroke="#000" stroke-width="2.0"/>
<circle cx="1234.7" cy="391.0" r="5.85" fill="#fff" stroke="#000" stroke-width="2.0"/>
<circle cx="1190.9" cy="391.2" r="5.85" fill="#fff" stroke="#000" stroke-width="2.0"/>
<circle cx="1199.1" cy="391.3" r="5.85" fill="#fff" stroke="#000" stroke-width="2.0"/>
<circle cx="1229.1" cy="391.9" r="5.85" fill="#fff" stroke="#000" stroke-width="2.0"/>
<circle cx="1236.7" cy="392.3" r="5.85" fill="#fff" stroke="#000" stroke-width="2.0"/>
<circle cx="1237.8" cy="392.8" r="5.85" fill="#fff" stroke="#000" stroke-width="2.0"/>
<circle cx="1224.7" cy="392.9" r="5.85" fill="#fff" stroke="#000" stroke-width="2.0"/>
<circle cx="1227.3" cy="393.1" r="5.85" fill="#fff" stroke="#000" stroke-width="2.0"/>
<circle cx="1243.9" cy="393.1" r="5.85" fill="#fff" stroke="#000" stroke-width="2.0"/>
<circle cx="1195.9" cy="393.3" r="5.85" fill="#fff" stroke="#000" stroke-width="2.0"/>
<circle cx="1202.0" cy="393.6" r="5.85" fill="#fff" stroke="#000" stroke-width="2.0"/>
<circle cx="1192.9" cy="393.6" r="5.85" fill="#fff" stroke="#000" stroke-width="2.0"/>
<circle cx="1234.3" cy="393.7" r="5.85" fill="#fff" stroke="#000" stroke-width="2.0"/>
<circle cx="1188.6" cy="393.9" r="5.85" fill="#fff" stroke="#000" stroke-width="2.0"/>
<circle cx="1222.5" cy="393.9" r="5.85" fill="#fff" stroke="#000" stroke-width="2.0"/>
<circle cx="1231.3" cy="394.3" r="5.85" fill="#fff" stroke="#000" stroke-width="2.0"/>
<circle cx="1193.8" cy="394.4" r="5.85" fill="#fff" stroke="#000" stroke-width="2.0"/>
<circle cx="1228.4" cy="394.7" r="5.85" fill="#fff" stroke="#000" stroke-width="2.0"/>
<circle cx="1203.6" cy="395.1" r="5.85" fill="#fff" stroke="#000" stroke-width="2.0"/>
<circle cx="1199.8" cy="395.4" r="5.85" fill="#fff" stroke="#000" stroke-width="2.0"/>
<circle cx="1231.4" cy="395.5" r="5.85" fill="#fff" stroke="#000" stroke-width="2.0"/>
<circle cx="1236.4" cy="395.9" r="5.85" fill="#fff" stroke="#000" stroke-width="2.0"/>
<circle cx="1233.4" cy="396.4" r="5.85" fill="#fff" stroke="#000" stroke-width="2.0"/>
<circle cx="1225.6" cy="396.5" r="5.85" fill="#fff" stroke="#000" stroke-width="2.0"/>
<circle cx="1196.9" cy="396.6" r="5.85" fill="#fff" stroke="#000" stroke-width="2.0"/>
<circle cx="1192.6" cy="396.8" r="5.85" fill="#fff" stroke="#000" stroke-width="2.0"/>
<circle cx="1198.8" cy="397.1" r="5.85" fill="#fff" stroke="#000" stroke-width="2.0"/>
<circle cx="1248.2" cy="397.1" r="5.85" fill="#fff" stroke="#000" stroke-width="2.0"/>
<circle cx="1201.1" cy="398.3" r="5.85" fill="#fff" stroke="#000" stroke-width="2.0"/>
<circle cx="1190.4" cy="398.7" r="5.85" fill="#fff" stroke="#000" stroke-width="2.0"/>
<circle cx="1234.9" cy="398.8" r="5.85" fill="#fff" stroke="#000" stroke-width="2.0"/>
<circle cx="1228.8" cy="398.8" r="5.85" fill="#fff" stroke="#000" stroke-width="2.0"/>
<circle cx="1239.5" cy="398.9" r="5.85" fill="#fff" stroke="#000" stroke-width="2.0"/>
<circle cx="1231.7" cy="399.1" r="5.85" fill="#fff" stroke="#000" stroke-width="2.0"/>
<circle cx="1234.8" cy="399.2" r="5.85" fill="#fff" stroke="#000" stroke-width="2.0"/>
<circle cx="1204.2" cy="399.3" r="5.85" fill="#fff" stroke="#000" stroke-width="2.0"/>
<circle cx="1194.5" cy="399.4" r="5.85" fill="#fff" stroke="#000" stroke-width="2.0"/>
<circle cx="1223.4" cy="399.6" r="5.85" fill="#fff" stroke="#000" stroke-width="2.0"/>
<circle cx="1223.9" cy="400.1" r="5.85" fill="#fff" stroke="#000" stroke-width="2.0"/>
<circle cx="1250.6" cy="400.1" r="5.85" fill="#fff" stroke="#000" stroke-width="2.0"/>
<circle cx="1198.1" cy="400.2" r="5.85" fill="#fff" stroke="#000" stroke-width="2.0"/>
<circle cx="1203.3" cy="400.5" r="5.85" fill="#fff" stroke="#000" stroke-width="2.0"/>
<circle cx="1191.3" cy="400.5" r="5.85" fill="#fff" stroke="#000" stroke-width="2.0"/>
<circle cx="1195.5" cy="400.6" r="5.85" fill="#fff" stroke="#000" stroke-width="2.0"/>
<circle cx="1230.2" cy="401.8" r="5.85" fill="#fff" stroke="#000" stroke-width="2.0"/>
<circle cx="1232.6" cy="402.3" r="5.85" fill="#fff" stroke="#000" stroke-width="2.0"/>
<circle cx="1202.8" cy="402.7" r="5.85" fill="#fff" stroke="#000" stroke-width="2.0"/>
<circle cx="1222.0" cy="402.8" r="5.85" fill="#fff" stroke="#000" stroke-width="2.0"/>
<circle cx="1237.2" cy="403.0" r="5.85" fill="#fff" stroke="#000" stroke-width="2.0"/>
<circle cx="1194.4" cy="403.1" r="5.85" fill="#fff" stroke="#000" stroke-width="2.0"/>
<circle cx="1191.2" cy="403.4" r="5.85" fill="#fff" stroke="#000" stroke-width="2.0"/>
<circle cx="1192.0" cy="403.5" r="5.85" fill="#fff" stroke="#000" stroke-width="2.0"/>
<circle cx="1229.2" cy="403.6" r="5.85" fill="#fff" stroke="#000" stroke-width="2.0"/>
<circle cx="1226.4" cy="403.8" r="5.85" fill="#fff" stroke="#000" stroke-width="2.0"/>
<circle cx="1197.6" cy="404.2" r="5.85" fill="#fff" stroke="#000" stroke-width="2.0"/>
<circle cx="1225.1" cy="404.6" r="5.85" fill="#fff" stroke="#000" stroke-width="2.0"/>
<circle cx="1187.7" cy="405.3" r="5.85" fill="#fff" stroke="#000" stroke-width="2.0"/>
<circle cx="1233.2" cy="405.8" r="5.85" fill="#fff" stroke="#000" stroke-width="2.0"/>
<circle cx="1231.3" cy="405.8" r="5.85" fill="#fff" stroke="#000" stroke-width="2.0"/>
<circle cx="1202.5" cy="406.3" r="5.85" fill="#fff" stroke="#000" stroke-width="2.0"/>
<circle cx="1196.5" cy="406.4" r="5.85" fill="#fff" stroke="#000" stroke-width="2.0"/>
<circle cx="1191.8" cy="406.8" r="5.85" fill="#fff" stroke="#000" stroke-width="2.0"/>
<circle cx="1199.1" cy="406.9" r="5.85" fill="#fff" stroke="#000" stroke-width="2.0"/>
<circle cx="1202.6" cy="407.0" r="5.85" fill="#fff" stroke="#000" stroke-width="2.0"/>
<circle cx="1205.3" cy="407.2" r="5.85" fill="#fff" stroke="#000" stroke-width="2.0"/>
<circle cx="1223.8" cy="407.2" r="5.85" fill="#fff" stroke="#000" stroke-width="2.0"/>
<circle cx="1220.8" cy="407.3" r="5.85" fill="#fff" stroke="#000" stroke-width="2.0"/>
<circle cx="1228.4" cy="407.8" r="5.85" fill="#fff" stroke="#000" stroke-width="2.0"/>
<circle cx="1191.7" cy="408.0" r="5.85" fill="#fff" stroke="#000" stroke-width="2.0"/>
<circle cx="1196.0" cy="408.0" r="5.85" fill="#fff" stroke="#000" stroke-width="2.0"/>
<circle cx="1237.1" cy="408.1" r="5.85" fill="#fff" stroke="#000" stroke-width="2.0"/>
<circle cx="1228.1" cy="408.4" r="5.85" fill="#fff" stroke="#000" stroke-width="2.0"/>
<circle cx="1230.8" cy="408.6" r="5.85" fill="#fff" stroke="#000" stroke-width="2.0"/>
<circle cx="1201.4" cy="409.0" r="5.85" fill="#fff" stroke="#000" stroke-width="2.0"/>
<circle cx="1192.2" cy="410.0" r="5.85" fill="#fff" stroke="#000" stroke-width="2.0"/>
<circle cx="1198.3" cy="410.0" r="5.85" fill="#fff" stroke="#000" stroke-width="2.0"/>
<circle cx="1204.9" cy="410.4" r="5.85" fill="#fff" stroke="#000" stroke-width="2.0"/>
<circle cx="1221.1" cy="410.6" r="5.85" fill="#fff" stroke="#000" stroke-width="2.0"/>
<circle cx="1188.1" cy="411.0" r="5.85" fill="#fff" stroke="#000" stroke-width="2.0"/>
<circle cx="1226.0" cy="411.0" r="5.85" fill="#fff" stroke="#000" stroke-width="2.0"/>
<circle cx="1222.5" cy="411.5" r="5.85" fill="#fff" stroke="#000" stroke-width="2.0"/>
<circle cx="1195.0" cy="411.7" r="5.85" fill="#fff" stroke="#000" stroke-width="2.0"/>
<circle cx="1194.7" cy="411.9" r="5.85" fill="#fff" stroke="#000" stroke-width="2.0"/>
<circle cx="1201.4" cy="412.1" r="5.85" fill="#fff" stroke="#000" stroke-width="2.0"/>
<circle cx="1202.8" cy="412.4" r="5.85" fill="#fff" stroke="#000" stroke-width="2.0"/>
<circle cx="1197.3" cy="413.3" r="5.85" fill="#fff" stroke="#000" stroke-width="2.0"/>
<circle cx="1229.3" cy="413.3" r="5.85" fill="#fff" stroke="#000" stroke-width="2.0"/>
<circle cx="1235.1" cy="413.9" r="5.85" fill="#fff" stroke="#000" stroke-width="2.0"/>
<circle cx="1206.0" cy="413.9" r="5.85" fill="#fff" stroke="#000" stroke-width="2.0"/>
<circle cx="1230.4" cy="414.1" r="5.85" fill="#fff" stroke="#000" stroke-width="2.0"/>
<circle cx="1222.3" cy="414.3" r="5.85" fill="#fff" stroke="#000" stroke-width="2.0"/>
<circle cx="1225.6" cy="414.6" r="5.85" fill="#fff" stroke="#000" stroke-width="2.0"/>
<circle cx="1203.2" cy="414.7" r="5.85" fill="#fff" stroke="#000" stroke-width="2.0"/>
<circle cx="1225.6" cy="414.9" r="5.85" fill="#fff" stroke="#000" stroke-width="2.0"/>
<circle cx="1186.6" cy="415.3" r="5.85" fill="#fff" stroke="#000" stroke-width="2.0"/>
<circle cx="1190.8" cy="415.4" r="5.85" fill="#fff" stroke="#000" stroke-width="2.0"/>
<circle cx="1194.6" cy="415.7" r="5.85" fill="#fff" stroke="#000" stroke-width="2.0"/>
<circle cx="1206.2" cy="415.9" r="5.85" fill="#fff" stroke="#000" stroke-width="2.0"/>
<circle cx="1220.9" cy="416.3" r="5.85" fill="#fff" stroke="#000" stroke-width="2.0"/>
<circle cx="1199.3" cy="417.3" r="5.85" fill="#fff" stroke="#000" stroke-width="2.0"/>
<circle cx="1220.5" cy="417.3" r="5.85" fill="#fff" stroke="#000" stroke-width="2.0"/>
<circle cx="1227.1" cy="417.5" r="5.85" fill="#fff" stroke="#000" stroke-width="2.0"/>
<circle cx="1192.7" cy="417.8" r="5.85" fill="#fff" stroke="#000" stroke-width="2.0"/>
<circle cx="1199.2" cy="418.2" r="5.85" fill="#fff" stroke="#000" stroke-width="2.0"/>
<circle cx="1223.1" cy="418.3" r="5.85" fill="#fff" stroke="#000" stroke-width="2.0"/>
<circle cx="1196.4" cy="418.5" r="5.85" fill="#fff" stroke="#000" stroke-width="2.0"/>
<circle cx="1231.0" cy="418.7" r="5.85" fill="#fff" stroke="#000" stroke-width="2.0"/>
<circle cx="1206.6" cy="418.9" r="5.85" fill="#fff" stroke="#000" stroke-width="2.0"/>
<circle cx="1202.8" cy="419.1" r="5.85" fill="#fff" stroke="#000" stroke-width="2.0"/>
<circle cx="1191.5" cy="419.3" r="5.85" fill="#fff" stroke="#000" stroke-width="2.0"/>
<circle cx="1224.8" cy="419.8" r="5.85" fill="#fff" stroke="#000" stroke-width="2.0"/>
<circle cx="1186.6" cy="419.9" r="5.85" fill="#fff" stroke="#000" stroke-width="2.0"/>
<circle cx="1226.0" cy="420.3" r="5.85" fill="#fff" stroke="#000" stroke-width="2.0"/>
<circle cx="1205.4" cy="420.6" r="5.85" fill="#fff" stroke="#000" stroke-width="2.0"/>
<circle cx="1198.2" cy="420.9" r="5.85" fill="#fff" stroke="#000" stroke-width="2.0"/>
<circle cx="1221.2" cy="420.9" r="5.85" fill="#fff" stroke="#000" stroke-width="2.0"/>
<circle cx="1194.4" cy="421.1" r="5.85" fill="#fff" stroke="#000" stroke-width="2.0"/>
<circle cx="1204.6" cy="422.1" r="5.85" fill="#fff" stroke="#000" stroke-width="2.0"/>
<circle cx="1200.9" cy="422.1" r="5.85" fill="#fff" stroke="#000" stroke-width="2.0"/>
<circle cx="1191.3" cy="422.3" r="5.85" fill="#fff" stroke="#000" stroke-width="2.0"/>
<circle cx="1221.0" cy="422.4" r="5.85" fill="#fff" stroke="#000" stroke-width="2.0"/>
<circle cx="1224.3" cy="422.5" r="5.85" fill="#fff" stroke="#000" stroke-width="2.0"/>
<circle cx="1208.0" cy="422.8" r="5.85" fill="#fff" stroke="#000" stroke-width="2.0"/>
<circle cx="1231.4" cy="423.3" r="5.85" fill="#fff" stroke="#000" stroke-width="2.0"/>
<circle cx="1196.5" cy="423.7" r="5.85" fill="#fff" stroke="#000" stroke-width="2.0"/>
<circle cx="1193.0" cy="423.9" r="5.85" fill="#fff" stroke="#000" stroke-width="2.0"/>
<circle cx="1226.5" cy="424.4" r="5.85" fill="#fff" stroke="#000" stroke-width="2.0"/>
<circle cx="1220.2" cy="424.4" r="5.85" fill="#fff" stroke="#000" stroke-width="2.0"/>
<circle cx="1198.3" cy="424.6" r="5.85" fill="#fff" stroke="#000" stroke-width="2.0"/>
<circle cx="1206.9" cy="424.9" r="5.85" fill="#fff" stroke="#000" stroke-width="2.0"/>
<circle cx="1201.4" cy="425.0" r="5.85" fill="#fff" stroke="#000" stroke-width="2.0"/>
<circle cx="1185.9" cy="425.3" r="5.85" fill="#fff" stroke="#000" stroke-width="2.0"/>
<circle cx="1224.2" cy="425.9" r="5.85" fill="#fff" stroke="#000" stroke-width="2.0"/>
<circle cx="1208.1" cy="425.9" r="5.85" fill="#fff" stroke="#000" stroke-width="2.0"/>
<circle cx="1205.7" cy="425.9" r="5.85" fill="#fff" stroke="#000" stroke-width="2.0"/>
<circle cx="1210.7" cy="426.0" r="5.85" fill="#fff" stroke="#000" stroke-width="2.0"/>
<circle cx="1213.1" cy="426.1" r="5.85" fill="#fff" stroke="#000" stroke-width="2.0"/>
<circle cx="1206.8" cy="426.2" r="5.85" fill="#fff" stroke="#000" stroke-width="2.0"/>
<circle cx="1194.6" cy="426.2" r="5.85" fill="#fff" stroke="#000" stroke-width="2.0"/>
<circle cx="1202.6" cy="426.4" r="5.85" fill="#fff" stroke="#000" stroke-width="2.0"/>
<circle cx="1204.5" cy="427.0" r="5.85" fill="#fff" stroke="#000" stroke-width="2.0"/>
<circle cx="1207.0" cy="427.2" r="5.85" fill="#fff" stroke="#000" stroke-width="2.0"/>
<circle cx="1217.3" cy="427.2" r="5.85" fill="#fff" stroke="#000" stroke-width="2.0"/>
<circle cx="1209.4" cy="427.3" r="5.85" fill="#fff" stroke="#000" stroke-width="2.0"/>
<circle cx="1214.6" cy="427.5" r="5.85" fill="#fff" stroke="#000" stroke-width="2.0"/>
<circle cx="1202.7" cy="427.7" r="5.85" fill="#fff" stroke="#000" stroke-width="2.0"/>
<circle cx="1212.3" cy="427.7" r="5.85" fill="#fff" stroke="#000" stroke-width="2.0"/>
<circle cx="1219.5" cy="427.7" r="5.85" fill="#fff" stroke="#000" stroke-width="2.0"/>
<circle cx="1199.6" cy="427.8" r="5.85" fill="#fff" stroke="#000" stroke-width="2.0"/>
<circle cx="1230.9" cy="428.1" r="5.85" fill="#fff" stroke="#000" stroke-width="2.0"/>
<circle cx="1221.0" cy="428.3" r="5.85" fill="#fff" stroke="#000" stroke-width="2.0"/>
<circle cx="1222.0" cy="428.5" r="5.85" fill="#fff" stroke="#000" stroke-width="2.0"/>
<circle cx="1235.3" cy="428.5" r="5.85" fill="#fff" stroke="#000" stroke-width="2.0"/>
<circle cx="1182.8" cy="428.5" r="5.85" fill="#fff" stroke="#000" stroke-width="2.0"/>
<circle cx="1203.0" cy="428.7" r="5.85" fill="#fff" stroke="#000" stroke-width="2.0"/>
<circle cx="1225.0" cy="428.8" r="5.85" fill="#fff" stroke="#000" stroke-width="2.0"/>
<circle cx="1210.2" cy="428.8" r="5.85" fill="#fff" stroke="#000" stroke-width="2.0"/>
<circle cx="1206.9" cy="428.9" r="5.85" fill="#fff" stroke="#000" stroke-width="2.0"/>
<circle cx="1202.7" cy="429.0" r="5.85" fill="#fff" stroke="#000" stroke-width="2.0"/>
<circle cx="1214.7" cy="429.2" r="5.85" fill="#fff" stroke="#000" stroke-width="2.0"/>
<circle cx="1213.0" cy="429.2" r="5.85" fill="#fff" stroke="#000" stroke-width="2.0"/>
<circle cx="1219.1" cy="429.3" r="5.85" fill="#fff" stroke="#000" stroke-width="2.0"/>
<circle cx="1219.6" cy="429.3" r="5.85" fill="#fff" stroke="#000" stroke-width="2.0"/>
<circle cx="1205.2" cy="429.4" r="5.85" fill="#fff" stroke="#000" stroke-width="2.0"/>
<circle cx="1216.9" cy="429.6" r="5.85" fill="#fff" stroke="#000" stroke-width="2.0"/>
<circle cx="1197.5" cy="429.7" r="5.85" fill="#fff" stroke="#000" stroke-width="2.0"/>
<circle cx="1201.7" cy="429.7" r="5.85" fill="#fff" stroke="#000" stroke-width="2.0"/>
<circle cx="1187.8" cy="429.9" r="5.85" fill="#fff" stroke="#000" stroke-width="2.0"/>
<circle cx="1195.8" cy="430.0" r="5.85" fill="#fff" stroke="#000" stroke-width="2.0"/>
<circle cx="1205.9" cy="430.1" r="5.85" fill="#fff" stroke="#000" stroke-width="2.0"/>
<circle cx="1209.2" cy="430.1" r="5.85" fill="#fff" stroke="#000" stroke-width="2.0"/>
<circle cx="1203.1" cy="430.4" r="5.85" fill="#fff" stroke="#000" stroke-width="2.0"/>
<circle cx="1210.7" cy="430.7" r="5.85" fill="#fff" stroke="#000" stroke-width="2.0"/>
<circle cx="1218.8" cy="430.7" r="5.85" fill="#fff" stroke="#000" stroke-width="2.0"/>
<circle cx="1209.2" cy="430.8" r="5.85" fill="#fff" stroke="#000" stroke-width="2.0"/>
<circle cx="1212.4" cy="430.8" r="5.85" fill="#fff" stroke="#000" stroke-width="2.0"/>
<circle cx="1215.8" cy="430.8" r="5.85" fill="#fff" stroke="#000" stroke-width="2.0"/>
<circle cx="1199.1" cy="430.9" r="5.85" fill="#fff" stroke="#000" stroke-width="2.0"/>
<circle cx="1220.4" cy="431.1" r="5.85" fill="#fff" stroke="#000" stroke-width="2.0"/>
<circle cx="1214.0" cy="431.1" r="5.85" fill="#fff" stroke="#000" stroke-width="2.0"/>
<circle cx="1204.7" cy="431.1" r="5.85" fill="#fff" stroke="#000" stroke-width="2.0"/>
<circle cx="1201.4" cy="431.5" r="5.85" fill="#fff" stroke="#000" stroke-width="2.0"/>
<circle cx="1206.6" cy="431.5" r="5.85" fill="#fff" stroke="#000" stroke-width="2.0"/>
<circle cx="1209.5" cy="431.7" r="5.85" fill="#fff" stroke="#000" stroke-width="2.0"/>
<circle cx="1221.3" cy="431.8" r="5.85" fill="#fff" stroke="#000" stroke-width="2.0"/>
<circle cx="1217.0" cy="432.2" r="5.85" fill="#fff" stroke="#000" stroke-width="2.0"/>
<circle cx="1204.0" cy="432.3" r="5.85" fill="#fff" stroke="#000" stroke-width="2.0"/>
<circle cx="1208.0" cy="432.4" r="5.85" fill="#fff" stroke="#000" stroke-width="2.0"/>
<circle cx="1219.4" cy="432.6" r="5.85" fill="#fff" stroke="#000" stroke-width="2.0"/>
<circle cx="1191.8" cy="432.7" r="5.85" fill="#fff" stroke="#000" stroke-width="2.0"/>
<circle cx="1212.6" cy="432.8" r="5.85" fill="#fff" stroke="#000" stroke-width="2.0"/>
<circle cx="1208.5" cy="432.9" r="5.85" fill="#fff" stroke="#000" stroke-width="2.0"/>
<circle cx="1202.5" cy="432.9" r="5.85" fill="#fff" stroke="#000" stroke-width="2.0"/>
<circle cx="1210.5" cy="433.1" r="5.85" fill="#fff" stroke="#000" stroke-width="2.0"/>
<circle cx="1215.3" cy="433.1" r="5.85" fill="#fff" stroke="#000" stroke-width="2.0"/>
<circle cx="1206.4" cy="433.2" r="5.85" fill="#fff" stroke="#000" stroke-width="2.0"/>
<circle cx="1204.1" cy="433.4" r="5.85" fill="#fff" stroke="#000" stroke-width="2.0"/>
<circle cx="1221.0" cy="433.5" r="5.85" fill="#fff" stroke="#000" stroke-width="2.0"/>
<circle cx="1217.9" cy="433.5" r="5.85" fill="#fff" stroke="#000" stroke-width="2.0"/>
<circle cx="1221.6" cy="433.6" r="5.85" fill="#fff" stroke="#000" stroke-width="2.0"/>
<circle cx="1226.4" cy="433.7" r="5.85" fill="#fff" stroke="#000" stroke-width="2.0"/>
<circle cx="1208.1" cy="433.7" r="5.85" fill="#fff" stroke="#000" stroke-width="2.0"/>
<circle cx="1196.4" cy="434.0" r="5.85" fill="#fff" stroke="#000" stroke-width="2.0"/>
<circle cx="1201.9" cy="434.4" r="5.85" fill="#fff" stroke="#000" stroke-width="2.0"/>
<circle cx="1219.3" cy="434.4" r="5.85" fill="#fff" stroke="#000" stroke-width="2.0"/>
<circle cx="1202.9" cy="434.6" r="5.85" fill="#fff" stroke="#000" stroke-width="2.0"/>
<circle cx="1213.9" cy="434.6" r="5.85" fill="#fff" stroke="#000" stroke-width="2.0"/>
<circle cx="1208.2" cy="434.6" r="5.85" fill="#fff" stroke="#000" stroke-width="2.0"/>
<circle cx="1204.3" cy="434.7" r="5.85" fill="#fff" stroke="#000" stroke-width="2.0"/>
<circle cx="1212.0" cy="434.7" r="5.85" fill="#fff" stroke="#000" stroke-width="2.0"/>
<circle cx="1198.5" cy="434.9" r="5.85" fill="#fff" stroke="#000" stroke-width="2.0"/>
<circle cx="1204.8" cy="434.9" r="5.85" fill="#fff" stroke="#000" stroke-width="2.0"/>
<circle cx="1216.0" cy="435.0" r="5.85" fill="#fff" stroke="#000" stroke-width="2.0"/>
<circle cx="1221.0" cy="435.3" r="5.85" fill="#fff" stroke="#000" stroke-width="2.0"/>
<circle cx="1210.3" cy="435.7" r="5.85" fill="#fff" stroke="#000" stroke-width="2.0"/>
<circle cx="1218.7" cy="436.0" r="5.85" fill="#fff" stroke="#000" stroke-width="2.0"/>
<circle cx="1206.7" cy="436.1" r="5.85" fill="#fff" stroke="#000" stroke-width="2.0"/>
<circle cx="1213.9" cy="436.2" r="5.85" fill="#fff" stroke="#000" stroke-width="2.0"/>
<circle cx="1206.6" cy="436.4" r="5.85" fill="#fff" stroke="#000" stroke-width="2.0"/>
<circle cx="1219.8" cy="436.4" r="5.85" fill="#fff" stroke="#000" stroke-width="2.0"/>
<circle cx="1204.8" cy="436.5" r="5.85" fill="#fff" stroke="#000" stroke-width="2.0"/>
<circle cx="1216.7" cy="436.6" r="5.85" fill="#fff" stroke="#000" stroke-width="2.0"/>
<circle cx="1212.2" cy="436.6" r="5.85" fill="#fff" stroke="#000" stroke-width="2.0"/>
<circle cx="1218.6" cy="437.1" r="5.85" fill="#fff" stroke="#000" stroke-width="2.0"/>
<circle cx="1203.7" cy="437.1" r="5.85" fill="#fff" stroke="#000" stroke-width="2.0"/>
<circle cx="1221.0" cy="437.1" r="5.85" fill="#fff" stroke="#000" stroke-width="2.0"/>
<circle cx="1203.1" cy="437.2" r="5.85" fill="#fff" stroke="#000" stroke-width="2.0"/>
<circle cx="1208.2" cy="437.3" r="5.85" fill="#fff" stroke="#000" stroke-width="2.0"/>
<circle cx="1215.1" cy="437.5" r="5.85" fill="#fff" stroke="#000" stroke-width="2.0"/>
<circle cx="1213.2" cy="437.8" r="5.85" fill="#fff" stroke="#000" stroke-width="2.0"/>
<circle cx="1205.9" cy="437.8" r="5.85" fill="#fff" stroke="#000" stroke-width="2.0"/>
<circle cx="1198.5" cy="437.9" r="5.85" fill="#fff" stroke="#000" stroke-width="2.0"/>
<circle cx="1211.2" cy="438.0" r="5.85" fill="#fff" stroke="#000" stroke-width="2.0"/>
<circle cx="1219.6" cy="438.0" r="5.85" fill="#fff" stroke="#000" stroke-width="2.0"/>
<circle cx="1204.3" cy="438.3" r="5.85" fill="#fff" stroke="#000" stroke-width="2.0"/>
<circle cx="1217.4" cy="438.4" r="5.85" fill="#fff" stroke="#000" stroke-width="2.0"/>
<circle cx="1210.1" cy="438.6" r="5.85" fill="#fff" stroke="#000" stroke-width="2.0"/>
<circle cx="1223.0" cy="438.7" r="5.85" fill="#fff" stroke="#000" stroke-width="2.0"/>
<circle cx="1196.5" cy="439.0" r="5.85" fill="#fff" stroke="#000" stroke-width="2.0"/>
<circle cx="1209.7" cy="439.2" r="5.85" fill="#fff" stroke="#000" stroke-width="2.0"/>
<circle cx="1214.2" cy="439.2" r="5.85" fill="#fff" stroke="#000" stroke-width="2.0"/>
<circle cx="1201.8" cy="439.3" r="5.85" fill="#fff" stroke="#000" stroke-width="2.0"/>
<circle cx="1219.3" cy="439.6" r="5.85" fill="#fff" stroke="#000" stroke-width="2.0"/>
<circle cx="1205.2" cy="439.7" r="5.85" fill="#fff" stroke="#000" stroke-width="2.0"/>
<circle cx="1203.4" cy="439.8" r="5.85" fill="#fff" stroke="#000" stroke-width="2.0"/>
<circle cx="1209.1" cy="439.9" r="5.85" fill="#fff" stroke="#000" stroke-width="2.0"/>
<circle cx="1212.6" cy="440.0" r="5.85" fill="#fff" stroke="#000" stroke-width="2.0"/>
<circle cx="1216.6" cy="440.2" r="5.85" fill="#fff" stroke="#000" stroke-width="2.0"/>
<circle cx="1207.1" cy="440.2" r="5.85" fill="#fff" stroke="#000" stroke-width="2.0"/>
<circle cx="1206.7" cy="440.3" r="5.85" fill="#fff" stroke="#000" stroke-width="2.0"/>
<circle cx="1208.7" cy="440.6" r="5.85" fill="#fff" stroke="#000" stroke-width="2.0"/>
<circle cx="1210.4" cy="441.0" r="5.85" fill="#fff" stroke="#000" stroke-width="2.0"/>
<circle cx="1215.0" cy="441.0" r="5.85" fill="#fff" stroke="#000" stroke-width="2.0"/>
<circle cx="1218.1" cy="441.4" r="5.85" fill="#fff" stroke="#000" stroke-width="2.0"/>
<circle cx="1213.7" cy="442.1" r="5.85" fill="#fff" stroke="#000" stroke-width="2.0"/>
<circle cx="1199.8" cy="442.5" r="5.85" fill="#fff" stroke="#000" stroke-width="2.0"/>
<circle cx="1206.4" cy="442.6" r="5.85" fill="#fff" stroke="#000" stroke-width="2.0"/>
<circle cx="1208.5" cy="442.8" r="5.85" fill="#fff" stroke="#000" stroke-width="2.0"/>
<circle cx="1210.2" cy="442.8" r="5.85" fill="#fff" stroke="#000" stroke-width="2.0"/>
<circle cx="1217.4" cy="443.1" r="5.85" fill="#fff" stroke="#000" stroke-width="2.0"/>
<circle cx="1212.2" cy="443.2" r="5.85" fill="#fff" stroke="#000" stroke-width="2.0"/>
<circle cx="1215.2" cy="443.2" r="5.85" fill="#fff" stroke="#000" stroke-width="2.0"/>
<circle cx="1204.3" cy="443.4" r="5.85" fill="#fff" stroke="#000" stroke-width="2.0"/>
<circle cx="1209.8" cy="443.7" r="5.85" fill="#fff" stroke="#000" stroke-width="2.0"/>
<circle cx="1210.8" cy="444.3" r="5.85" fill="#fff" stroke="#000" stroke-width="2.0"/>
<circle cx="1218.8" cy="444.5" r="5.85" fill="#fff" stroke="#000" stroke-width="2.0"/>
<circle cx="1207.0" cy="444.6" r="5.85" fill="#fff" stroke="#000" stroke-width="2.0"/>
<circle cx="1216.4" cy="444.7" r="5.85" fill="#fff" stroke="#000" stroke-width="2.0"/>
<circle cx="1211.4" cy="444.8" r="5.85" fill="#fff" stroke="#000" stroke-width="2.0"/>
<circle cx="1203.3" cy="445.5" r="5.85" fill="#fff" stroke="#000" stroke-width="2.0"/>
<circle cx="1213.9" cy="445.5" r="5.85" fill="#fff" stroke="#000" stroke-width="2.0"/>
<circle cx="1209.2" cy="445.5" r="5.85" fill="#fff" stroke="#000" stroke-width="2.0"/>
<circle cx="1207.2" cy="445.8" r="5.85" fill="#fff" stroke="#000" stroke-width="2.0"/>
<circle cx="1216.2" cy="446.3" r="5.85" fill="#fff" stroke="#000" stroke-width="2.0"/>
<circle cx="1212.2" cy="446.4" r="5.85" fill="#fff" stroke="#000" stroke-width="2.0"/>
<circle cx="1210.6" cy="446.4" r="5.85" fill="#fff" stroke="#000" stroke-width="2.0"/>
<circle cx="1214.9" cy="447.3" r="5.85" fill="#fff" stroke="#000" stroke-width="2.0"/>
<circle cx="1209.6" cy="447.7" r="5.85" fill="#fff" stroke="#000" stroke-width="2.0"/>
<circle cx="1213.2" cy="448.2" r="5.85" fill="#fff" stroke="#000" stroke-width="2.0"/>
<circle cx="1208.7" cy="448.4" r="5.85" fill="#fff" stroke="#000" stroke-width="2.0"/>
<circle cx="1211.7" cy="449.4" r="5.85" fill="#fff" stroke="#000" stroke-width="2.0"/>
<circle cx="1210.0" cy="449.4" r="5.85" fill="#fff" stroke="#000" stroke-width="2.0"/>
<circle cx="1209.9" cy="449.6" r="5.85" fill="#fff" stroke="#000" stroke-width="2.0"/>
<circle cx="1214.2" cy="449.6" r="5.85" fill="#fff" stroke="#000" stroke-width="2.0"/>
<circle cx="1205.4" cy="449.8" r="5.85" fill="#fff" stroke="#000" stroke-width="2.0"/>
<circle cx="1213.2" cy="451.0" r="5.85" fill="#fff" stroke="#000" stroke-width="2.0"/>
<circle cx="1211.5" cy="451.0" r="5.85" fill="#fff" stroke="#000" stroke-width="2.0"/>
<circle cx="1228.7" cy="452.6" r="5.85" fill="#fff" stroke="#000" stroke-width="2.0"/>
<circle cx="1209.2" cy="454.3" r="5.85" fill="#fff" stroke="#000" stroke-width="2.0"/>
<circle cx="1212.3" cy="457.0" r="5.85" fill="#fff" stroke="#000" stroke-width="2.0"/>
<circle cx="1328.0" cy="104.2" r="5.85" fill="#e31e26" stroke="#000" stroke-width="2.0"/>
<circle cx="1233.1" cy="201.9" r="5.85" fill="#e31e26" stroke="#000" stroke-width="2.0"/>
<circle cx="1233.6" cy="202.2" r="5.85" fill="#e31e26" stroke="#000" stroke-width="2.0"/>
<circle cx="1274.8" cy="208.1" r="5.85" fill="#e31e26" stroke="#000" stroke-width="2.0"/>
<circle cx="1107.2" cy="208.5" r="5.85" fill="#e31e26" stroke="#000" stroke-width="2.0"/>
<circle cx="1293.9" cy="211.3" r="5.85" fill="#e31e26" stroke="#000" stroke-width="2.0"/>
<circle cx="1271.7" cy="218.1" r="5.85" fill="#e31e26" stroke="#000" stroke-width="2.0"/>
<circle cx="1151.0" cy="220.1" r="5.85" fill="#e31e26" stroke="#000" stroke-width="2.0"/>
<circle cx="1254.4" cy="221.3" r="5.85" fill="#e31e26" stroke="#000" stroke-width="2.0"/>
<circle cx="1264.4" cy="224.4" r="5.85" fill="#e31e26" stroke="#000" stroke-width="2.0"/>
<circle cx="1248.6" cy="229.0" r="5.85" fill="#e31e26" stroke="#000" stroke-width="2.0"/>
<circle cx="1182.8" cy="234.7" r="5.85" fill="#e31e26" stroke="#000" stroke-width="2.0"/>
<circle cx="1279.8" cy="235.3" r="5.85" fill="#e31e26" stroke="#000" stroke-width="2.0"/>
<circle cx="1136.1" cy="237.4" r="5.85" fill="#e31e26" stroke="#000" stroke-width="2.0"/>
<circle cx="1343.7" cy="239.1" r="5.85" fill="#e31e26" stroke="#000" stroke-width="2.0"/>
<circle cx="1275.3" cy="240.8" r="5.85" fill="#e31e26" stroke="#000" stroke-width="2.0"/>
<circle cx="1272.6" cy="241.4" r="5.85" fill="#e31e26" stroke="#000" stroke-width="2.0"/>
<circle cx="1286.2" cy="241.7" r="5.85" fill="#e31e26" stroke="#000" stroke-width="2.0"/>
<circle cx="1239.0" cy="243.0" r="5.85" fill="#e31e26" stroke="#000" stroke-width="2.0"/>
<circle cx="1266.2" cy="244.4" r="5.85" fill="#e31e26" stroke="#000" stroke-width="2.0"/>
<circle cx="1277.1" cy="245.3" r="5.85" fill="#e31e26" stroke="#000" stroke-width="2.0"/>
<circle cx="1264.9" cy="248.4" r="5.85" fill="#e31e26" stroke="#000" stroke-width="2.0"/>
<circle cx="1272.3" cy="248.7" r="5.85" fill="#e31e26" stroke="#000" stroke-width="2.0"/>
<circle cx="1270.8" cy="249.8" r="5.85" fill="#e31e26" stroke="#000" stroke-width="2.0"/>
<circle cx="1259.3" cy="250.3" r="5.85" fill="#e31e26" stroke="#000" stroke-width="2.0"/>
<circle cx="1251.7" cy="250.7" r="5.85" fill="#e31e26" stroke="#000" stroke-width="2.0"/>
<circle cx="1269.1" cy="253.4" r="5.85" fill="#e31e26" stroke="#000" stroke-width="2.0"/>
<circle cx="1185.0" cy="254.4" r="5.85" fill="#e31e26" stroke="#000" stroke-width="2.0"/>
<circle cx="1151.7" cy="254.9" r="5.85" fill="#e31e26" stroke="#000" stroke-width="2.0"/>
<circle cx="1278.0" cy="256.2" r="5.85" fill="#e31e26" stroke="#000" stroke-width="2.0"/>
<circle cx="1246.9" cy="257.4" r="5.85" fill="#e31e26" stroke="#000" stroke-width="2.0"/>
<circle cx="1270.8" cy="258.0" r="5.85" fill="#e31e26" stroke="#000" stroke-width="2.0"/>
<circle cx="1141.8" cy="258.4" r="5.85" fill="#e31e26" stroke="#000" stroke-width="2.0"/>
<circle cx="1241.8" cy="260.2" r="5.85" fill="#e31e26" stroke="#000" stroke-width="2.0"/>
<circle cx="1265.3" cy="260.7" r="5.85" fill="#e31e26" stroke="#000" stroke-width="2.0"/>
<circle cx="1291.2" cy="261.0" r="5.85" fill="#e31e26" stroke="#000" stroke-width="2.0"/>
<circle cx="1291.6" cy="261.6" r="5.85" fill="#e31e26" stroke="#000" stroke-width="2.0"/>
<circle cx="1270.2" cy="263.3" r="5.85" fill="#e31e26" stroke="#000" stroke-width="2.0"/>
<circle cx="1293.3" cy="264.3" r="5.85" fill="#e31e26" stroke="#000" stroke-width="2.0"/>
<circle cx="1293.4" cy="264.3" r="5.85" fill="#e31e26" stroke="#000" stroke-width="2.0"/>
<circle cx="1277.9" cy="265.0" r="5.85" fill="#e31e26" stroke="#000" stroke-width="2.0"/>
<circle cx="1269.4" cy="265.2" r="5.85" fill="#e31e26" stroke="#000" stroke-width="2.0"/>
<circle cx="1244.2" cy="266.6" r="5.85" fill="#e31e26" stroke="#000" stroke-width="2.0"/>
<circle cx="1253.6" cy="267.2" r="5.85" fill="#e31e26" stroke="#000" stroke-width="2.0"/>
<circle cx="1272.9" cy="268.6" r="5.85" fill="#e31e26" stroke="#000" stroke-width="2.0"/>
<circle cx="1261.9" cy="268.9" r="5.85" fill="#e31e26" stroke="#000" stroke-width="2.0"/>
<circle cx="1318.5" cy="270.2" r="5.85" fill="#e31e26" stroke="#000" stroke-width="2.0"/>
<circle cx="1318.8" cy="270.2" r="5.85" fill="#e31e26" stroke="#000" stroke-width="2.0"/>
<circle cx="1261.7" cy="271.6" r="5.85" fill="#e31e26" stroke="#000" stroke-width="2.0"/>
<circle cx="1253.7" cy="273.5" r="5.85" fill="#e31e26" stroke="#000" stroke-width="2.0"/>
<circle cx="1268.5" cy="273.7" r="5.85" fill="#e31e26" stroke="#000" stroke-width="2.0"/>
<circle cx="1243.6" cy="274.3" r="5.85" fill="#e31e26" stroke="#000" stroke-width="2.0"/>
<circle cx="1248.1" cy="275.1" r="5.85" fill="#e31e26" stroke="#000" stroke-width="2.0"/>
<circle cx="1272.6" cy="275.2" r="5.85" fill="#e31e26" stroke="#000" stroke-width="2.0"/>
<circle cx="1299.8" cy="275.2" r="5.85" fill="#e31e26" stroke="#000" stroke-width="2.0"/>
<circle cx="1285.2" cy="278.2" r="5.85" fill="#e31e26" stroke="#000" stroke-width="2.0"/>
<circle cx="1281.6" cy="278.4" r="5.85" fill="#e31e26" stroke="#000" stroke-width="2.0"/>
<circle cx="1274.0" cy="278.9" r="5.85" fill="#e31e26" stroke="#000" stroke-width="2.0"/>
<circle cx="1302.1" cy="279.6" r="5.85" fill="#e31e26" stroke="#000" stroke-width="2.0"/>
<circle cx="1266.5" cy="279.6" r="5.85" fill="#e31e26" stroke="#000" stroke-width="2.0"/>
<circle cx="1302.5" cy="279.7" r="5.85" fill="#e31e26" stroke="#000" stroke-width="2.0"/>
<circle cx="1244.1" cy="280.4" r="5.85" fill="#e31e26" stroke="#000" stroke-width="2.0"/>
<circle cx="1249.0" cy="280.6" r="5.85" fill="#e31e26" stroke="#000" stroke-width="2.0"/>
<circle cx="1292.2" cy="281.8" r="5.85" fill="#e31e26" stroke="#000" stroke-width="2.0"/>
<circle cx="1291.6" cy="282.4" r="5.85" fill="#e31e26" stroke="#000" stroke-width="2.0"/>
<circle cx="1256.3" cy="282.4" r="5.85" fill="#e31e26" stroke="#000" stroke-width="2.0"/>
<circle cx="1255.8" cy="283.2" r="5.85" fill="#e31e26" stroke="#000" stroke-width="2.0"/>
<circle cx="1265.3" cy="283.4" r="5.85" fill="#e31e26" stroke="#000" stroke-width="2.0"/>
<circle cx="1285.1" cy="283.4" r="5.85" fill="#e31e26" stroke="#000" stroke-width="2.0"/>
<circle cx="1182.8" cy="284.0" r="5.85" fill="#e31e26" stroke="#000" stroke-width="2.0"/>
<circle cx="1273.0" cy="284.1" r="5.85" fill="#e31e26" stroke="#000" stroke-width="2.0"/>
<circle cx="1339.8" cy="284.7" r="5.85" fill="#e31e26" stroke="#000" stroke-width="2.0"/>
<circle cx="1278.3" cy="284.9" r="5.85" fill="#e31e26" stroke="#000" stroke-width="2.0"/>
<circle cx="1265.3" cy="285.8" r="5.85" fill="#e31e26" stroke="#000" stroke-width="2.0"/>
<circle cx="1266.2" cy="288.8" r="5.85" fill="#e31e26" stroke="#000" stroke-width="2.0"/>
<circle cx="1181.7" cy="289.5" r="5.85" fill="#e31e26" stroke="#000" stroke-width="2.0"/>
<circle cx="1362.8" cy="289.5" r="5.85" fill="#e31e26" stroke="#000" stroke-width="2.0"/>
<circle cx="1254.4" cy="290.6" r="5.85" fill="#e31e26" stroke="#000" stroke-width="2.0"/>
<circle cx="1265.8" cy="291.2" r="5.85" fill="#e31e26" stroke="#000" stroke-width="2.0"/>
<circle cx="1282.8" cy="291.4" r="5.85" fill="#e31e26" stroke="#000" stroke-width="2.0"/>
<circle cx="1241.0" cy="293.8" r="5.85" fill="#e31e26" stroke="#000" stroke-width="2.0"/>
<circle cx="1235.3" cy="293.9" r="5.85" fill="#e31e26" stroke="#000" stroke-width="2.0"/>
<circle cx="1235.4" cy="294.2" r="5.85" fill="#e31e26" stroke="#000" stroke-width="2.0"/>
<circle cx="1234.2" cy="294.5" r="5.85" fill="#e31e26" stroke="#000" stroke-width="2.0"/>
<circle cx="1251.0" cy="294.6" r="5.85" fill="#e31e26" stroke="#000" stroke-width="2.0"/>
<circle cx="1242.7" cy="295.1" r="5.85" fill="#e31e26" stroke="#000" stroke-width="2.0"/>
<circle cx="1269.9" cy="296.7" r="5.85" fill="#e31e26" stroke="#000" stroke-width="2.0"/>
<circle cx="1282.5" cy="297.0" r="5.85" fill="#e31e26" stroke="#000" stroke-width="2.0"/>
<circle cx="1259.9" cy="297.0" r="5.85" fill="#e31e26" stroke="#000" stroke-width="2.0"/>
<circle cx="1183.9" cy="297.1" r="5.85" fill="#e31e26" stroke="#000" stroke-width="2.0"/>
<circle cx="1270.8" cy="297.9" r="5.85" fill="#e31e26" stroke="#000" stroke-width="2.0"/>
<circle cx="1250.8" cy="297.9" r="5.85" fill="#e31e26" stroke="#000" stroke-width="2.0"/>
<circle cx="1261.6" cy="297.9" r="5.85" fill="#e31e26" stroke="#000" stroke-width="2.0"/>
<circle cx="1257.1" cy="301.4" r="5.85" fill="#e31e26" stroke="#000" stroke-width="2.0"/>
<circle cx="1244.5" cy="303.3" r="5.85" fill="#e31e26" stroke="#000" stroke-width="2.0"/>
<circle cx="1250.5" cy="303.3" r="5.85" fill="#e31e26" stroke="#000" stroke-width="2.0"/>
<circle cx="1244.4" cy="304.0" r="5.85" fill="#e31e26" stroke="#000" stroke-width="2.0"/>
<circle cx="1272.6" cy="304.2" r="5.85" fill="#e31e26" stroke="#000" stroke-width="2.0"/>
<circle cx="1259.0" cy="305.1" r="5.85" fill="#e31e26" stroke="#000" stroke-width="2.0"/>
<circle cx="1294.3" cy="305.1" r="5.85" fill="#e31e26" stroke="#000" stroke-width="2.0"/>
<circle cx="1272.1" cy="305.3" r="5.85" fill="#e31e26" stroke="#000" stroke-width="2.0"/>
<circle cx="1259.3" cy="306.0" r="5.85" fill="#e31e26" stroke="#000" stroke-width="2.0"/>
<circle cx="1294.1" cy="306.4" r="5.85" fill="#e31e26" stroke="#000" stroke-width="2.0"/>
<circle cx="1254.0" cy="258.9" r="9.3" fill="#353a9c" stroke="#000" stroke-width="1.5"/>
<circle cx="422.4" cy="982.4" r="5.85" fill="#fff" stroke="#000" stroke-width="2.0"/>
<circle cx="366.1" cy="985.0" r="5.85" fill="#fff" stroke="#000" stroke-width="2.0"/>
<circle cx="366.3" cy="985.6" r="5.85" fill="#fff" stroke="#000" stroke-width="2.0"/>
<circle cx="393.2" cy="987.5" r="5.85" fill="#fff" stroke="#000" stroke-width="2.0"/>
<circle cx="395.7" cy="988.2" r="5.85" fill="#fff" stroke="#000" stroke-width="2.0"/>
<circle cx="407.8" cy="988.5" r="5.85" fill="#fff" stroke="#000" stroke-width="2.0"/>
<circle cx="391.2" cy="988.6" r="5.85" fill="#fff" stroke="#000" stroke-width="2.0"/>
<circle cx="407.9" cy="988.8" r="5.85" fill="#fff" stroke="#000" stroke-width="2.0"/>
<circle cx="398.0" cy="988.9" r="5.85" fill="#fff" stroke="#000" stroke-width="2.0"/>
<circle cx="393.1" cy="989.8" r="5.85" fill="#fff" stroke="#000" stroke-width="2.0"/>
<circle cx="396.2" cy="990.4" r="5.85" fill="#fff" stroke="#000" stroke-width="2.0"/>
<circle cx="403.0" cy="991.0" r="5.85" fill="#fff" stroke="#000" stroke-width="2.0"/>
<circle cx="394.7" cy="992.4" r="5.85" fill="#fff" stroke="#000" stroke-width="2.0"/>
<circle cx="392.5" cy="992.6" r="5.85" fill="#fff" stroke="#000" stroke-width="2.0"/>
<circle cx="398.8" cy="992.6" r="5.85" fill="#fff" stroke="#000" stroke-width="2.0"/>
<circle cx="396.5" cy="992.7" r="5.85" fill="#fff" stroke="#000" stroke-width="2.0"/>
<circle cx="397.3" cy="994.5" r="5.85" fill="#fff" stroke="#000" stroke-width="2.0"/>
<circle cx="395.0" cy="994.6" r="5.85" fill="#fff" stroke="#000" stroke-width="2.0"/>
<circle cx="406.2" cy="995.6" r="5.85" fill="#fff" stroke="#000" stroke-width="2.0"/>
<circle cx="391.6" cy="995.7" r="5.85" fill="#fff" stroke="#000" stroke-width="2.0"/>
<circle cx="399.3" cy="995.9" r="5.85" fill="#fff" stroke="#000" stroke-width="2.0"/>
<circle cx="397.7" cy="997.4" r="5.85" fill="#fff" stroke="#000" stroke-width="2.0"/>
<circle cx="394.1" cy="997.4" r="5.85" fill="#fff" stroke="#000" stroke-width="2.0"/>
<circle cx="397.5" cy="997.9" r="5.85" fill="#fff" stroke="#000" stroke-width="2.0"/>
<circle cx="391.8" cy="998.2" r="5.85" fill="#fff" stroke="#000" stroke-width="2.0"/>
<circle cx="399.5" cy="999.0" r="5.85" fill="#fff" stroke="#000" stroke-width="2.0"/>
<circle cx="395.8" cy="999.3" r="5.85" fill="#fff" stroke="#000" stroke-width="2.0"/>
<circle cx="412.2" cy="999.8" r="5.85" fill="#fff" stroke="#000" stroke-width="2.0"/>
<circle cx="402.1" cy="1000.4" r="5.85" fill="#fff" stroke="#000" stroke-width="2.0"/>
<circle cx="392.1" cy="1001.1" r="5.85" fill="#fff" stroke="#000" stroke-width="2.0"/>
<circle cx="399.5" cy="1001.3" r="5.85" fill="#fff" stroke="#000" stroke-width="2.0"/>
<circle cx="394.5" cy="1001.3" r="5.85" fill="#fff" stroke="#000" stroke-width="2.0"/>
<circle cx="419.5" cy="1002.6" r="5.85" fill="#fff" stroke="#000" stroke-width="2.0"/>
<circle cx="397.4" cy="1002.7" r="5.85" fill="#fff" stroke="#000" stroke-width="2.0"/>
<circle cx="407.0" cy="1002.9" r="5.85" fill="#fff" stroke="#000" stroke-width="2.0"/>
<circle cx="393.7" cy="1003.4" r="5.85" fill="#fff" stroke="#000" stroke-width="2.0"/>
<circle cx="400.0" cy="1003.4" r="5.85" fill="#fff" stroke="#000" stroke-width="2.0"/>
<circle cx="391.5" cy="1004.6" r="5.85" fill="#fff" stroke="#000" stroke-width="2.0"/>
<circle cx="394.9" cy="1005.0" r="5.85" fill="#fff" stroke="#000" stroke-width="2.0"/>
<circle cx="412.6" cy="1005.2" r="5.85" fill="#fff" stroke="#000" stroke-width="2.0"/>
<circle cx="396.9" cy="1005.6" r="5.85" fill="#fff" stroke="#000" stroke-width="2.0"/>
<circle cx="393.6" cy="1005.7" r="5.85" fill="#fff" stroke="#000" stroke-width="2.0"/>
<circle cx="400.0" cy="1005.7" r="5.85" fill="#fff" stroke="#000" stroke-width="2.0"/>
<circle cx="365.6" cy="1006.9" r="5.85" fill="#fff" stroke="#000" stroke-width="2.0"/>
<circle cx="403.1" cy="1007.1" r="5.85" fill="#fff" stroke="#000" stroke-width="2.0"/>
<circle cx="391.2" cy="1007.5" r="5.85" fill="#fff" stroke="#000" stroke-width="2.0"/>
<circle cx="398.8" cy="1007.6" r="5.85" fill="#fff" stroke="#000" stroke-width="2.0"/>
<circle cx="394.3" cy="1007.9" r="5.85" fill="#fff" stroke="#000" stroke-width="2.0"/>
<circle cx="396.5" cy="1008.9" r="5.85" fill="#fff" stroke="#000" stroke-width="2.0"/>
<circle cx="392.3" cy="1009.7" r="5.85" fill="#fff" stroke="#000" stroke-width="2.0"/>
<circle cx="399.1" cy="1010.1" r="5.85" fill="#fff" stroke="#000" stroke-width="2.0"/>
<circle cx="393.6" cy="1010.4" r="5.85" fill="#fff" stroke="#000" stroke-width="2.0"/>
<circle cx="398.0" cy="1010.8" r="5.85" fill="#fff" stroke="#000" stroke-width="2.0"/>
<circle cx="395.8" cy="1011.4" r="5.85" fill="#fff" stroke="#000" stroke-width="2.0"/>
<circle cx="393.6" cy="1011.7" r="5.85" fill="#fff" stroke="#000" stroke-width="2.0"/>
<circle cx="415.1" cy="1012.5" r="5.85" fill="#fff" stroke="#000" stroke-width="2.0"/>
<circle cx="406.8" cy="1012.6" r="5.85" fill="#fff" stroke="#000" stroke-width="2.0"/>
<circle cx="366.3" cy="1012.8" r="5.85" fill="#fff" stroke="#000" stroke-width="2.0"/>
<circle cx="398.5" cy="1013.5" r="5.85" fill="#fff" stroke="#000" stroke-width="2.0"/>
<circle cx="371.3" cy="1013.7" r="5.85" fill="#fff" stroke="#000" stroke-width="2.0"/>
<circle cx="396.0" cy="1013.8" r="5.85" fill="#fff" stroke="#000" stroke-width="2.0"/>
<circle cx="393.6" cy="1014.0" r="5.85" fill="#fff" stroke="#000" stroke-width="2.0"/>
<circle cx="397.3" cy="1015.2" r="5.85" fill="#fff" stroke="#000" stroke-width="2.0"/>
<circle cx="397.7" cy="1015.6" r="5.85" fill="#fff" stroke="#000" stroke-width="2.0"/>
<circle cx="411.1" cy="1015.7" r="5.85" fill="#fff" stroke="#000" stroke-width="2.0"/>
<circle cx="362.2" cy="1016.2" r="5.85" fill="#fff" stroke="#000" stroke-width="2.0"/>
<circle cx="394.5" cy="1016.6" r="5.85" fill="#fff" stroke="#000" stroke-width="2.0"/>
<circle cx="373.8" cy="1018.2" r="5.85" fill="#fff" stroke="#000" stroke-width="2.0"/>
<circle cx="397.6" cy="1018.2" r="5.85" fill="#fff" stroke="#000" stroke-width="2.0"/>
<circle cx="394.9" cy="1018.9" r="5.85" fill="#fff" stroke="#000" stroke-width="2.0"/>
<circle cx="392.9" cy="1019.0" r="5.85" fill="#fff" stroke="#000" stroke-width="2.0"/>
<circle cx="400.4" cy="1019.1" r="5.85" fill="#fff" stroke="#000" stroke-width="2.0"/>
<circle cx="416.1" cy="1019.6" r="5.85" fill="#fff" stroke="#000" stroke-width="2.0"/>
<circle cx="369.1" cy="1019.9" r="5.85" fill="#fff" stroke="#000" stroke-width="2.0"/>
<circle cx="405.7" cy="1020.6" r="5.85" fill="#fff" stroke="#000" stroke-width="2.0"/>
<circle cx="364.6" cy="1023.2" r="5.85" fill="#fff" stroke="#000" stroke-width="2.0"/>
<circle cx="374.4" cy="1023.2" r="5.85" fill="#fff" stroke="#000" stroke-width="2.0"/>
<circle cx="411.0" cy="1023.2" r="5.85" fill="#fff" stroke="#000" stroke-width="2.0"/>
<circle cx="393.3" cy="1023.7" r="5.85" fill="#fff" stroke="#000" stroke-width="2.0"/>
<circle cx="395.2" cy="1023.8" r="5.85" fill="#fff" stroke="#000" stroke-width="2.0"/>
<circle cx="390.9" cy="1024.3" r="5.85" fill="#fff" stroke="#000" stroke-width="2.0"/>
<circle cx="389.0" cy="1024.3" r="5.85" fill="#fff" stroke="#000" stroke-width="2.0"/>
<circle cx="417.5" cy="1024.5" r="5.85" fill="#fff" stroke="#000" stroke-width="2.0"/>
<circle cx="402.3" cy="1024.7" r="5.85" fill="#fff" stroke="#000" stroke-width="2.0"/>
<circle cx="437.0" cy="1024.8" r="5.85" fill="#fff" stroke="#000" stroke-width="2.0"/>
<circle cx="396.4" cy="1025.4" r="5.85" fill="#fff" stroke="#000" stroke-width="2.0"/>
<circle cx="394.5" cy="1025.5" r="5.85" fill="#fff" stroke="#000" stroke-width="2.0"/>
<circle cx="355.1" cy="1026.0" r="5.85" fill="#fff" stroke="#000" stroke-width="2.0"/>
<circle cx="389.4" cy="1026.1" r="5.85" fill="#fff" stroke="#000" stroke-width="2.0"/>
<circle cx="392.8" cy="1026.2" r="5.85" fill="#fff" stroke="#000" stroke-width="2.0"/>
<circle cx="396.4" cy="1026.6" r="5.85" fill="#fff" stroke="#000" stroke-width="2.0"/>
<circle cx="391.0" cy="1027.3" r="5.85" fill="#fff" stroke="#000" stroke-width="2.0"/>
<circle cx="407.4" cy="1027.8" r="5.85" fill="#fff" stroke="#000" stroke-width="2.0"/>
<circle cx="394.1" cy="1028.0" r="5.85" fill="#fff" stroke="#000" stroke-width="2.0"/>
<circle cx="398.9" cy="1028.2" r="5.85" fill="#fff" stroke="#000" stroke-width="2.0"/>
<circle cx="371.0" cy="1028.3" r="5.85" fill="#fff" stroke="#000" stroke-width="2.0"/>
<circle cx="413.6" cy="1028.7" r="5.85" fill="#fff" stroke="#000" stroke-width="2.0"/>
<circle cx="361.3" cy="1028.9" r="5.85" fill="#fff" stroke="#000" stroke-width="2.0"/>
<circle cx="392.4" cy="1028.9" r="5.85" fill="#fff" stroke="#000" stroke-width="2.0"/>
<circle cx="388.8" cy="1029.0" r="5.85" fill="#fff" stroke="#000" stroke-width="2.0"/>
<circle cx="395.9" cy="1029.3" r="5.85" fill="#fff" stroke="#000" stroke-width="2.0"/>
<circle cx="390.6" cy="1029.3" r="5.85" fill="#fff" stroke="#000" stroke-width="2.0"/>
<circle cx="392.1" cy="1029.4" r="5.85" fill="#fff" stroke="#000" stroke-width="2.0"/>
<circle cx="401.7" cy="1030.1" r="5.85" fill="#fff" stroke="#000" stroke-width="2.0"/>
<circle cx="366.2" cy="1030.2" r="5.85" fill="#fff" stroke="#000" stroke-width="2.0"/>
<circle cx="375.8" cy="1030.3" r="5.85" fill="#fff" stroke="#000" stroke-width="2.0"/>
<circle cx="399.7" cy="1030.4" r="5.85" fill="#fff" stroke="#000" stroke-width="2.0"/>
<circle cx="393.6" cy="1030.5" r="5.85" fill="#fff" stroke="#000" stroke-width="2.0"/>
<circle cx="397.3" cy="1030.5" r="5.85" fill="#fff" stroke="#000" stroke-width="2.0"/>
<circle cx="391.0" cy="1031.4" r="5.85" fill="#fff" stroke="#000" stroke-width="2.0"/>
<circle cx="395.3" cy="1031.7" r="5.85" fill="#fff" stroke="#000" stroke-width="2.0"/>
<circle cx="389.0" cy="1032.0" r="5.85" fill="#fff" stroke="#000" stroke-width="2.0"/>
<circle cx="401.5" cy="1032.1" r="5.85" fill="#fff" stroke="#000" stroke-width="2.0"/>
<circle cx="410.1" cy="1032.4" r="5.85" fill="#fff" stroke="#000" stroke-width="2.0"/>
<circle cx="395.9" cy="1032.6" r="5.85" fill="#fff" stroke="#000" stroke-width="2.0"/>
<circle cx="397.8" cy="1032.7" r="5.85" fill="#fff" stroke="#000" stroke-width="2.0"/>
<circle cx="393.7" cy="1033.0" r="5.85" fill="#fff" stroke="#000" stroke-width="2.0"/>
<circle cx="390.5" cy="1033.3" r="5.85" fill="#fff" stroke="#000" stroke-width="2.0"/>
<circle cx="399.8" cy="1033.7" r="5.85" fill="#fff" stroke="#000" stroke-width="2.0"/>
<circle cx="402.6" cy="1033.8" r="5.85" fill="#fff" stroke="#000" stroke-width="2.0"/>
<circle cx="392.2" cy="1034.2" r="5.85" fill="#fff" stroke="#000" stroke-width="2.0"/>
<circle cx="395.3" cy="1034.5" r="5.85" fill="#fff" stroke="#000" stroke-width="2.0"/>
<circle cx="388.8" cy="1034.7" r="5.85" fill="#fff" stroke="#000" stroke-width="2.0"/>
<circle cx="404.0" cy="1034.8" r="5.85" fill="#fff" stroke="#000" stroke-width="2.0"/>
<circle cx="390.6" cy="1035.1" r="5.85" fill="#fff" stroke="#000" stroke-width="2.0"/>
<circle cx="365.4" cy="1035.2" r="5.85" fill="#fff" stroke="#000" stroke-width="2.0"/>
<circle cx="401.2" cy="1035.3" r="5.85" fill="#fff" stroke="#000" stroke-width="2.0"/>
<circle cx="375.9" cy="1035.4" r="5.85" fill="#fff" stroke="#000" stroke-width="2.0"/>
<circle cx="397.2" cy="1035.6" r="5.85" fill="#fff" stroke="#000" stroke-width="2.0"/>
<circle cx="414.4" cy="1035.9" r="5.85" fill="#fff" stroke="#000" stroke-width="2.0"/>
<circle cx="399.5" cy="1035.9" r="5.85" fill="#fff" stroke="#000" stroke-width="2.0"/>
<circle cx="393.2" cy="1035.9" r="5.85" fill="#fff" stroke="#000" stroke-width="2.0"/>
<circle cx="370.8" cy="1036.0" r="5.85" fill="#fff" stroke="#000" stroke-width="2.0"/>
<circle cx="394.9" cy="1036.7" r="5.85" fill="#fff" stroke="#000" stroke-width="2.0"/>
<circle cx="402.3" cy="1036.8" r="5.85" fill="#fff" stroke="#000" stroke-width="2.0"/>
<circle cx="389.3" cy="1037.4" r="5.85" fill="#fff" stroke="#000" stroke-width="2.0"/>
<circle cx="393.4" cy="1037.6" r="5.85" fill="#fff" stroke="#000" stroke-width="2.0"/>
<circle cx="399.2" cy="1037.8" r="5.85" fill="#fff" stroke="#000" stroke-width="2.0"/>
<circle cx="392.5" cy="1037.8" r="5.85" fill="#fff" stroke="#000" stroke-width="2.0"/>
<circle cx="398.1" cy="1037.9" r="5.85" fill="#fff" stroke="#000" stroke-width="2.0"/>
<circle cx="408.9" cy="1038.1" r="5.85" fill="#fff" stroke="#000" stroke-width="2.0"/>
<circle cx="400.8" cy="1038.4" r="5.85" fill="#fff" stroke="#000" stroke-width="2.0"/>
<circle cx="396.5" cy="1038.8" r="5.85" fill="#fff" stroke="#000" stroke-width="2.0"/>
<circle cx="389.2" cy="1039.4" r="5.85" fill="#fff" stroke="#000" stroke-width="2.0"/>
<circle cx="393.9" cy="1039.5" r="5.85" fill="#fff" stroke="#000" stroke-width="2.0"/>
<circle cx="390.9" cy="1040.0" r="5.85" fill="#fff" stroke="#000" stroke-width="2.0"/>
<circle cx="398.9" cy="1040.1" r="5.85" fill="#fff" stroke="#000" stroke-width="2.0"/>
<circle cx="401.7" cy="1040.1" r="5.85" fill="#fff" stroke="#000" stroke-width="2.0"/>
<circle cx="376.1" cy="1040.6" r="5.85" fill="#fff" stroke="#000" stroke-width="2.0"/>
<circle cx="395.5" cy="1040.9" r="5.85" fill="#fff" stroke="#000" stroke-width="2.0"/>
<circle cx="364.7" cy="1041.2" r="5.85" fill="#fff" stroke="#000" stroke-width="2.0"/>
<circle cx="391.7" cy="1041.8" r="5.85" fill="#fff" stroke="#000" stroke-width="2.0"/>
<circle cx="412.5" cy="1041.9" r="5.85" fill="#fff" stroke="#000" stroke-width="2.0"/>
<circle cx="401.2" cy="1042.0" r="5.85" fill="#fff" stroke="#000" stroke-width="2.0"/>
<circle cx="389.4" cy="1042.0" r="5.85" fill="#fff" stroke="#000" stroke-width="2.0"/>
<circle cx="393.5" cy="1042.1" r="5.85" fill="#fff" stroke="#000" stroke-width="2.0"/>
<circle cx="398.1" cy="1042.2" r="5.85" fill="#fff" stroke="#000" stroke-width="2.0"/>
<circle cx="397.1" cy="1042.3" r="5.85" fill="#fff" stroke="#000" stroke-width="2.0"/>
<circle cx="370.1" cy="1043.3" r="5.85" fill="#fff" stroke="#000" stroke-width="2.0"/>
<circle cx="395.8" cy="1043.5" r="5.85" fill="#fff" stroke="#000" stroke-width="2.0"/>
<circle cx="391.4" cy="1043.6" r="5.85" fill="#fff" stroke="#000" stroke-width="2.0"/>
<circle cx="388.1" cy="1043.7" r="5.85" fill="#fff" stroke="#000" stroke-width="2.0"/>
<circle cx="400.3" cy="1043.8" r="5.85" fill="#fff" stroke="#000" stroke-width="2.0"/>
<circle cx="391.8" cy="1043.9" r="5.85" fill="#fff" stroke="#000" stroke-width="2.0"/>
<circle cx="402.3" cy="1044.0" r="5.85" fill="#fff" stroke="#000" stroke-width="2.0"/>
<circle cx="398.4" cy="1044.4" r="5.85" fill="#fff" stroke="#000" stroke-width="2.0"/>
<circle cx="407.9" cy="1044.6" r="5.85" fill="#fff" stroke="#000" stroke-width="2.0"/>
<circle cx="389.9" cy="1044.6" r="5.85" fill="#fff" stroke="#000" stroke-width="2.0"/>
<circle cx="396.8" cy="1045.2" r="5.85" fill="#fff" stroke="#000" stroke-width="2.0"/>
<circle cx="394.1" cy="1045.5" r="5.85" fill="#fff" stroke="#000" stroke-width="2.0"/>
<circle cx="399.8" cy="1045.6" r="5.85" fill="#fff" stroke="#000" stroke-width="2.0"/>
<circle cx="388.2" cy="1045.7" r="5.85" fill="#fff" stroke="#000" stroke-width="2.0"/>
<circle cx="391.6" cy="1045.8" r="5.85" fill="#fff" stroke="#000" stroke-width="2.0"/>
<circle cx="395.8" cy="1046.8" r="5.85" fill="#fff" stroke="#000" stroke-width="2.0"/>
<circle cx="375.3" cy="1047.2" r="5.85" fill="#fff" stroke="#000" stroke-width="2.0"/>
<circle cx="398.0" cy="1047.3" r="5.85" fill="#fff" stroke="#000" stroke-width="2.0"/>
<circle cx="394.0" cy="1047.3" r="5.85" fill="#fff" stroke="#000" stroke-width="2.0"/>
<circle cx="401.0" cy="1047.7" r="5.85" fill="#fff" stroke="#000" stroke-width="2.0"/>
<circle cx="389.4" cy="1047.9" r="5.85" fill="#fff" stroke="#000" stroke-width="2.0"/>
<circle cx="387.3" cy="1047.9" r="5.85" fill="#fff" stroke="#000" stroke-width="2.0"/>
<circle cx="392.2" cy="1048.3" r="5.85" fill="#fff" stroke="#000" stroke-width="2.0"/>
<circle cx="368.1" cy="1048.9" r="5.85" fill="#fff" stroke="#000" stroke-width="2.0"/>
<circle cx="394.0" cy="1049.1" r="5.85" fill="#fff" stroke="#000" stroke-width="2.0"/>
<circle cx="395.9" cy="1049.2" r="5.85" fill="#fff" stroke="#000" stroke-width="2.0"/>
<circle cx="397.8" cy="1049.2" r="5.85" fill="#fff" stroke="#000" stroke-width="2.0"/>
<circle cx="394.1" cy="1049.4" r="5.85" fill="#fff" stroke="#000" stroke-width="2.0"/>
<circle cx="388.1" cy="1049.7" r="5.85" fill="#fff" stroke="#000" stroke-width="2.0"/>
<circle cx="407.3" cy="1049.9" r="5.85" fill="#fff" stroke="#000" stroke-width="2.0"/>
<circle cx="400.1" cy="1050.0" r="5.85" fill="#fff" stroke="#000" stroke-width="2.0"/>
<circle cx="390.7" cy="1050.1" r="5.85" fill="#fff" stroke="#000" stroke-width="2.0"/>
<circle cx="386.4" cy="1050.5" r="5.85" fill="#fff" stroke="#000" stroke-width="2.0"/>
<circle cx="397.1" cy="1050.9" r="5.85" fill="#fff" stroke="#000" stroke-width="2.0"/>
<circle cx="393.7" cy="1051.3" r="5.85" fill="#fff" stroke="#000" stroke-width="2.0"/>
<circle cx="369.7" cy="1051.3" r="5.85" fill="#fff" stroke="#000" stroke-width="2.0"/>
<circle cx="388.1" cy="1051.5" r="5.85" fill="#fff" stroke="#000" stroke-width="2.0"/>
<circle cx="390.0" cy="1051.9" r="5.85" fill="#fff" stroke="#000" stroke-width="2.0"/>
<circle cx="399.8" cy="1052.1" r="5.85" fill="#fff" stroke="#000" stroke-width="2.0"/>
<circle cx="376.0" cy="1052.3" r="5.85" fill="#fff" stroke="#000" stroke-width="2.0"/>
<circle cx="395.9" cy="1052.3" r="5.85" fill="#fff" stroke="#000" stroke-width="2.0"/>
<circle cx="386.4" cy="1052.3" r="5.85" fill="#fff" stroke="#000" stroke-width="2.0"/>
<circle cx="372.3" cy="1052.3" r="5.85" fill="#fff" stroke="#000" stroke-width="2.0"/>
<circle cx="398.0" cy="1052.5" r="5.85" fill="#fff" stroke="#000" stroke-width="2.0"/>
<circle cx="399.9" cy="1052.7" r="5.85" fill="#fff" stroke="#000" stroke-width="2.0"/>
<circle cx="391.7" cy="1053.1" r="5.85" fill="#fff" stroke="#000" stroke-width="2.0"/>
<circle cx="388.3" cy="1053.4" r="5.85" fill="#fff" stroke="#000" stroke-width="2.0"/>
<circle cx="393.4" cy="1053.8" r="5.85" fill="#fff" stroke="#000" stroke-width="2.0"/>
<circle cx="371.0" cy="1053.9" r="5.85" fill="#fff" stroke="#000" stroke-width="2.0"/>
<circle cx="396.6" cy="1054.0" r="5.85" fill="#fff" stroke="#000" stroke-width="2.0"/>
<circle cx="390.0" cy="1054.2" r="5.85" fill="#fff" stroke="#000" stroke-width="2.0"/>
<circle cx="370.0" cy="1054.3" r="5.85" fill="#fff" stroke="#000" stroke-width="2.0"/>
<circle cx="398.7" cy="1054.4" r="5.85" fill="#fff" stroke="#000" stroke-width="2.0"/>
<circle cx="373.1" cy="1054.7" r="5.85" fill="#fff" stroke="#000" stroke-width="2.0"/>
<circle cx="385.7" cy="1055.0" r="5.85" fill="#fff" stroke="#000" stroke-width="2.0"/>
<circle cx="365.7" cy="1055.1" r="5.85" fill="#fff" stroke="#000" stroke-width="2.0"/>
<circle cx="388.7" cy="1055.5" r="5.85" fill="#fff" stroke="#000" stroke-width="2.0"/>
<circle cx="391.3" cy="1055.8" r="5.85" fill="#fff" stroke="#000" stroke-width="2.0"/>
<circle cx="393.8" cy="1055.8" r="5.85" fill="#fff" stroke="#000" stroke-width="2.0"/>
<circle cx="390.7" cy="1056.0" r="5.85" fill="#fff" stroke="#000" stroke-width="2.0"/>
<circle cx="406.7" cy="1056.3" r="5.85" fill="#fff" stroke="#000" stroke-width="2.0"/>
<circle cx="379.0" cy="1056.4" r="5.85" fill="#fff" stroke="#000" stroke-width="2.0"/>
<circle cx="397.3" cy="1056.4" r="5.85" fill="#fff" stroke="#000" stroke-width="2.0"/>
<circle cx="388.2" cy="1057.3" r="5.85" fill="#fff" stroke="#000" stroke-width="2.0"/>
<circle cx="392.8" cy="1057.3" r="5.85" fill="#fff" stroke="#000" stroke-width="2.0"/>
<circle cx="399.3" cy="1057.4" r="5.85" fill="#fff" stroke="#000" stroke-width="2.0"/>
<circle cx="386.2" cy="1057.6" r="5.85" fill="#fff" stroke="#000" stroke-width="2.0"/>
<circle cx="371.7" cy="1057.6" r="5.85" fill="#fff" stroke="#000" stroke-width="2.0"/>
<circle cx="390.1" cy="1057.7" r="5.85" fill="#fff" stroke="#000" stroke-width="2.0"/>
<circle cx="395.4" cy="1058.2" r="5.85" fill="#fff" stroke="#000" stroke-width="2.0"/>
<circle cx="397.4" cy="1058.3" r="5.85" fill="#fff" stroke="#000" stroke-width="2.0"/>
<circle cx="384.3" cy="1058.3" r="5.85" fill="#fff" stroke="#000" stroke-width="2.0"/>
<circle cx="400.5" cy="1058.4" r="5.85" fill="#fff" stroke="#000" stroke-width="2.0"/>
<circle cx="395.0" cy="1058.8" r="5.85" fill="#fff" stroke="#000" stroke-width="2.0"/>
<circle cx="391.5" cy="1058.9" r="5.85" fill="#fff" stroke="#000" stroke-width="2.0"/>
<circle cx="393.7" cy="1058.9" r="5.85" fill="#fff" stroke="#000" stroke-width="2.0"/>
<circle cx="388.5" cy="1059.4" r="5.85" fill="#fff" stroke="#000" stroke-width="2.0"/>
<circle cx="374.5" cy="1059.8" r="5.85" fill="#fff" stroke="#000" stroke-width="2.0"/>
<circle cx="370.7" cy="1060.0" r="5.85" fill="#fff" stroke="#000" stroke-width="2.0"/>
<circle cx="395.8" cy="1060.1" r="5.85" fill="#fff" stroke="#000" stroke-width="2.0"/>
<circle cx="372.7" cy="1060.5" r="5.85" fill="#fff" stroke="#000" stroke-width="2.0"/>
<circle cx="383.7" cy="1060.5" r="5.85" fill="#fff" stroke="#000" stroke-width="2.0"/>
<circle cx="397.7" cy="1060.8" r="5.85" fill="#fff" stroke="#000" stroke-width="2.0"/>
<circle cx="385.7" cy="1060.8" r="5.85" fill="#fff" stroke="#000" stroke-width="2.0"/>
<circle cx="393.8" cy="1060.8" r="5.85" fill="#fff" stroke="#000" stroke-width="2.0"/>
<circle cx="404.9" cy="1061.0" r="5.85" fill="#fff" stroke="#000" stroke-width="2.0"/>
<circle cx="390.5" cy="1061.1" r="5.85" fill="#fff" stroke="#000" stroke-width="2.0"/>
<circle cx="391.0" cy="1061.4" r="5.85" fill="#fff" stroke="#000" stroke-width="2.0"/>
<circle cx="387.7" cy="1061.4" r="5.85" fill="#fff" stroke="#000" stroke-width="2.0"/>
<circle cx="371.9" cy="1062.2" r="5.85" fill="#fff" stroke="#000" stroke-width="2.0"/>
<circle cx="395.5" cy="1062.3" r="5.85" fill="#fff" stroke="#000" stroke-width="2.0"/>
<circle cx="380.0" cy="1062.5" r="5.85" fill="#fff" stroke="#000" stroke-width="2.0"/>
<circle cx="389.0" cy="1062.8" r="5.85" fill="#fff" stroke="#000" stroke-width="2.0"/>
<circle cx="398.2" cy="1062.9" r="5.85" fill="#fff" stroke="#000" stroke-width="2.0"/>
<circle cx="383.1" cy="1062.9" r="5.85" fill="#fff" stroke="#000" stroke-width="2.0"/>
<circle cx="386.9" cy="1063.0" r="5.85" fill="#fff" stroke="#000" stroke-width="2.0"/>
<circle cx="391.2" cy="1063.3" r="5.85" fill="#fff" stroke="#000" stroke-width="2.0"/>
<circle cx="385.0" cy="1063.4" r="5.85" fill="#fff" stroke="#000" stroke-width="2.0"/>
<circle cx="397.3" cy="1063.8" r="5.85" fill="#fff" stroke="#000" stroke-width="2.0"/>
<circle cx="393.5" cy="1063.8" r="5.85" fill="#fff" stroke="#000" stroke-width="2.0"/>
<circle cx="374.1" cy="1063.8" r="5.85" fill="#fff" stroke="#000" stroke-width="2.0"/>
<circle cx="369.1" cy="1064.0" r="5.85" fill="#fff" stroke="#000" stroke-width="2.0"/>
<circle cx="387.5" cy="1064.7" r="5.85" fill="#fff" stroke="#000" stroke-width="2.0"/>
<circle cx="383.7" cy="1064.7" r="5.85" fill="#fff" stroke="#000" stroke-width="2.0"/>
<circle cx="350.4" cy="1065.3" r="5.85" fill="#fff" stroke="#000" stroke-width="2.0"/>
<circle cx="394.8" cy="1065.4" r="5.85" fill="#fff" stroke="#000" stroke-width="2.0"/>
<circle cx="407.6" cy="1065.5" r="5.85" fill="#fff" stroke="#000" stroke-width="2.0"/>
<circle cx="390.7" cy="1065.5" r="5.85" fill="#fff" stroke="#000" stroke-width="2.0"/>
<circle cx="396.6" cy="1065.5" r="5.85" fill="#fff" stroke="#000" stroke-width="2.0"/>
<circle cx="372.6" cy="1066.0" r="5.85" fill="#fff" stroke="#000" stroke-width="2.0"/>
<circle cx="385.0" cy="1066.1" r="5.85" fill="#fff" stroke="#000" stroke-width="2.0"/>
<circle cx="382.4" cy="1066.3" r="5.85" fill="#fff" stroke="#000" stroke-width="2.0"/>
<circle cx="392.7" cy="1066.4" r="5.85" fill="#fff" stroke="#000" stroke-width="2.0"/>
<circle cx="402.3" cy="1066.5" r="5.85" fill="#fff" stroke="#000" stroke-width="2.0"/>
<circle cx="389.6" cy="1066.6" r="5.85" fill="#fff" stroke="#000" stroke-width="2.0"/>
<circle cx="376.3" cy="1066.8" r="5.85" fill="#fff" stroke="#000" stroke-width="2.0"/>
<circle cx="416.0" cy="1067.0" r="5.85" fill="#fff" stroke="#000" stroke-width="2.0"/>
<circle cx="387.1" cy="1067.2" r="5.85" fill="#fff" stroke="#000" stroke-width="2.0"/>
<circle cx="373.4" cy="1067.3" r="5.85" fill="#fff" stroke="#000" stroke-width="2.0"/>
<circle cx="395.9" cy="1067.3" r="5.85" fill="#fff" stroke="#000" stroke-width="2.0"/>
<circle cx="391.0" cy="1067.3" r="5.85" fill="#fff" stroke="#000" stroke-width="2.0"/>
<circle cx="395.7" cy="1067.4" r="5.85" fill="#fff" stroke="#000" stroke-width="2.0"/>
<circle cx="389.1" cy="1067.6" r="5.85" fill="#fff" stroke="#000" stroke-width="2.0"/>
<circle cx="383.7" cy="1067.8" r="5.85" fill="#fff" stroke="#000" stroke-width="2.0"/>
<circle cx="379.4" cy="1068.0" r="5.85" fill="#fff" stroke="#000" stroke-width="2.0"/>
<circle cx="385.3" cy="1068.7" r="5.85" fill="#fff" stroke="#000" stroke-width="2.0"/>
<circle cx="381.9" cy="1068.9" r="5.85" fill="#fff" stroke="#000" stroke-width="2.0"/>
<circle cx="393.3" cy="1069.0" r="5.85" fill="#fff" stroke="#000" stroke-width="2.0"/>
<circle cx="374.2" cy="1069.0" r="5.85" fill="#fff" stroke="#000" stroke-width="2.0"/>
<circle cx="390.9" cy="1069.3" r="5.85" fill="#fff" stroke="#000" stroke-width="2.0"/>
<circle cx="395.7" cy="1069.3" r="5.85" fill="#fff" stroke="#000" stroke-width="2.0"/>
<circle cx="388.5" cy="1069.5" r="5.85" fill="#fff" stroke="#000" stroke-width="2.0"/>
<circle cx="383.6" cy="1069.6" r="5.85" fill="#fff" stroke="#000" stroke-width="2.0"/>
<circle cx="377.4" cy="1070.4" r="5.85" fill="#fff" stroke="#000" stroke-width="2.0"/>
<circle cx="392.3" cy="1070.5" r="5.85" fill="#fff" stroke="#000" stroke-width="2.0"/>
<circle cx="372.1" cy="1070.8" r="5.85" fill="#fff" stroke="#000" stroke-width="2.0"/>
<circle cx="386.4" cy="1071.1" r="5.85" fill="#fff" stroke="#000" stroke-width="2.0"/>
<circle cx="390.0" cy="1071.1" r="5.85" fill="#fff" stroke="#000" stroke-width="2.0"/>
<circle cx="394.1" cy="1071.2" r="5.85" fill="#fff" stroke="#000" stroke-width="2.0"/>
<circle cx="404.1" cy="1071.3" r="5.85" fill="#fff" stroke="#000" stroke-width="2.0"/>
<circle cx="381.4" cy="1071.4" r="5.85" fill="#fff" stroke="#000" stroke-width="2.0"/>
<circle cx="391.1" cy="1071.5" r="5.85" fill="#fff" stroke="#000" stroke-width="2.0"/>
<circle cx="398.9" cy="1071.5" r="5.85" fill="#fff" stroke="#000" stroke-width="2.0"/>
<circle cx="383.7" cy="1071.5" r="5.85" fill="#fff" stroke="#000" stroke-width="2.0"/>
<circle cx="374.9" cy="1072.1" r="5.85" fill="#fff" stroke="#000" stroke-width="2.0"/>
<circle cx="392.3" cy="1072.4" r="5.85" fill="#fff" stroke="#000" stroke-width="2.0"/>
<circle cx="388.3" cy="1072.5" r="5.85" fill="#fff" stroke="#000" stroke-width="2.0"/>
<circle cx="370.7" cy="1072.6" r="5.85" fill="#fff" stroke="#000" stroke-width="2.0"/>
<circle cx="385.4" cy="1072.6" r="5.85" fill="#fff" stroke="#000" stroke-width="2.0"/>
<circle cx="390.3" cy="1072.9" r="5.85" fill="#fff" stroke="#000" stroke-width="2.0"/>
<circle cx="381.4" cy="1073.4" r="5.85" fill="#fff" stroke="#000" stroke-width="2.0"/>
<circle cx="372.4" cy="1073.6" r="5.85" fill="#fff" stroke="#000" stroke-width="2.0"/>
<circle cx="380.5" cy="1073.7" r="5.85" fill="#fff" stroke="#000" stroke-width="2.0"/>
<circle cx="386.7" cy="1074.0" r="5.85" fill="#fff" stroke="#000" stroke-width="2.0"/>
<circle cx="393.6" cy="1074.2" r="5.85" fill="#fff" stroke="#000" stroke-width="2.0"/>
<circle cx="384.0" cy="1074.4" r="5.85" fill="#fff" stroke="#000" stroke-width="2.0"/>
<circle cx="376.8" cy="1074.6" r="5.85" fill="#fff" stroke="#000" stroke-width="2.0"/>
<circle cx="390.2" cy="1074.7" r="5.85" fill="#fff" stroke="#000" stroke-width="2.0"/>
<circle cx="380.1" cy="1075.0" r="5.85" fill="#fff" stroke="#000" stroke-width="2.0"/>
<circle cx="442.9" cy="1075.1" r="5.85" fill="#fff" stroke="#000" stroke-width="2.0"/>
<circle cx="382.0" cy="1075.6" r="5.85" fill="#fff" stroke="#000" stroke-width="2.0"/>
<circle cx="374.4" cy="1075.8" r="5.85" fill="#fff" stroke="#000" stroke-width="2.0"/>
<circle cx="388.5" cy="1075.9" r="5.85" fill="#fff" stroke="#000" stroke-width="2.0"/>
<circle cx="387.9" cy="1075.9" r="5.85" fill="#fff" stroke="#000" stroke-width="2.0"/>
<circle cx="385.6" cy="1076.0" r="5.85" fill="#fff" stroke="#000" stroke-width="2.0"/>
<circle cx="393.7" cy="1076.1" r="5.85" fill="#fff" stroke="#000" stroke-width="2.0"/>
<circle cx="391.8" cy="1076.2" r="5.85" fill="#fff" stroke="#000" stroke-width="2.0"/>
<circle cx="378.9" cy="1076.4" r="5.85" fill="#fff" stroke="#000" stroke-width="2.0"/>
<circle cx="383.7" cy="1076.4" r="5.85" fill="#fff" stroke="#000" stroke-width="2.0"/>
<circle cx="396.4" cy="1076.5" r="5.85" fill="#fff" stroke="#000" stroke-width="2.0"/>
<circle cx="375.1" cy="1077.3" r="5.85" fill="#fff" stroke="#000" stroke-width="2.0"/>
<circle cx="388.7" cy="1077.5" r="5.85" fill="#fff" stroke="#000" stroke-width="2.0"/>
<circle cx="381.6" cy="1077.8" r="5.85" fill="#fff" stroke="#000" stroke-width="2.0"/>
<circle cx="385.8" cy="1077.8" r="5.85" fill="#fff" stroke="#000" stroke-width="2.0"/>
<circle cx="392.9" cy="1078.0" r="5.85" fill="#fff" stroke="#000" stroke-width="2.0"/>
<circle cx="378.0" cy="1078.1" r="5.85" fill="#fff" stroke="#000" stroke-width="2.0"/>
<circle cx="391.0" cy="1078.3" r="5.85" fill="#fff" stroke="#000" stroke-width="2.0"/>
<circle cx="374.0" cy="1078.3" r="5.85" fill="#fff" stroke="#000" stroke-width="2.0"/>
<circle cx="383.3" cy="1078.6" r="5.85" fill="#fff" stroke="#000" stroke-width="2.0"/>
<circle cx="376.7" cy="1079.1" r="5.85" fill="#fff" stroke="#000" stroke-width="2.0"/>
<circle cx="402.5" cy="1079.2" r="5.85" fill="#fff" stroke="#000" stroke-width="2.0"/>
<circle cx="380.1" cy="1079.5" r="5.85" fill="#fff" stroke="#000" stroke-width="2.0"/>
<circle cx="386.8" cy="1079.5" r="5.85" fill="#fff" stroke="#000" stroke-width="2.0"/>
<circle cx="378.1" cy="1079.9" r="5.85" fill="#fff" stroke="#000" stroke-width="2.0"/>
<circle cx="392.5" cy="1080.3" r="5.85" fill="#fff" stroke="#000" stroke-width="2.0"/>
<circle cx="390.4" cy="1080.6" r="5.85" fill="#fff" stroke="#000" stroke-width="2.0"/>
<circle cx="381.7" cy="1080.7" r="5.85" fill="#fff" stroke="#000" stroke-width="2.0"/>
<circle cx="388.4" cy="1080.8" r="5.85" fill="#fff" stroke="#000" stroke-width="2.0"/>
<circle cx="382.2" cy="1081.0" r="5.85" fill="#fff" stroke="#000" stroke-width="2.0"/>
<circle cx="390.5" cy="1081.0" r="5.85" fill="#fff" stroke="#000" stroke-width="2.0"/>
<circle cx="384.2" cy="1081.1" r="5.85" fill="#fff" stroke="#000" stroke-width="2.0"/>
<circle cx="377.6" cy="1081.8" r="5.85" fill="#fff" stroke="#000" stroke-width="2.0"/>
<circle cx="378.1" cy="1081.8" r="5.85" fill="#fff" stroke="#000" stroke-width="2.0"/>
<circle cx="375.4" cy="1081.9" r="5.85" fill="#fff" stroke="#000" stroke-width="2.0"/>
<circle cx="396.6" cy="1082.2" r="5.85" fill="#fff" stroke="#000" stroke-width="2.0"/>
<circle cx="380.0" cy="1082.4" r="5.85" fill="#fff" stroke="#000" stroke-width="2.0"/>
<circle cx="387.0" cy="1082.6" r="5.85" fill="#fff" stroke="#000" stroke-width="2.0"/>
<circle cx="389.2" cy="1082.6" r="5.85" fill="#fff" stroke="#000" stroke-width="2.0"/>
<circle cx="376.2" cy="1082.9" r="5.85" fill="#fff" stroke="#000" stroke-width="2.0"/>
<circle cx="384.4" cy="1082.9" r="5.85" fill="#fff" stroke="#000" stroke-width="2.0"/>
<circle cx="374.3" cy="1083.1" r="5.85" fill="#fff" stroke="#000" stroke-width="2.0"/>
<circle cx="391.2" cy="1083.3" r="5.85" fill="#fff" stroke="#000" stroke-width="2.0"/>
<circle cx="382.6" cy="1083.7" r="5.85" fill="#fff" stroke="#000" stroke-width="2.0"/>
<circle cx="378.4" cy="1083.9" r="5.85" fill="#fff" stroke="#000" stroke-width="2.0"/>
<circle cx="401.5" cy="1084.5" r="5.85" fill="#fff" stroke="#000" stroke-width="2.0"/>
<circle cx="385.4" cy="1084.5" r="5.85" fill="#fff" stroke="#000" stroke-width="2.0"/>
<circle cx="405.4" cy="1084.5" r="5.85" fill="#fff" stroke="#000" stroke-width="2.0"/>
<circle cx="377.5" cy="1084.8" r="5.85" fill="#fff" stroke="#000" stroke-width="2.0"/>
<circle cx="376.4" cy="1084.9" r="5.85" fill="#fff" stroke="#000" stroke-width="2.0"/>
<circle cx="389.8" cy="1085.0" r="5.85" fill="#fff" stroke="#000" stroke-width="2.0"/>
<circle cx="381.6" cy="1085.3" r="5.85" fill="#fff" stroke="#000" stroke-width="2.0"/>
<circle cx="383.5" cy="1085.3" r="5.85" fill="#fff" stroke="#000" stroke-width="2.0"/>
<circle cx="379.3" cy="1085.6" r="5.85" fill="#fff" stroke="#000" stroke-width="2.0"/>
<circle cx="388.0" cy="1085.8" r="5.85" fill="#fff" stroke="#000" stroke-width="2.0"/>
<circle cx="388.8" cy="1085.9" r="5.85" fill="#fff" stroke="#000" stroke-width="2.0"/>
<circle cx="390.7" cy="1085.9" r="5.85" fill="#fff" stroke="#000" stroke-width="2.0"/>
<circle cx="376.6" cy="1085.9" r="5.85" fill="#fff" stroke="#000" stroke-width="2.0"/>
<circle cx="391.3" cy="1086.0" r="5.85" fill="#fff" stroke="#000" stroke-width="2.0"/>
<circle cx="385.1" cy="1086.0" r="5.85" fill="#fff" stroke="#000" stroke-width="2.0"/>
<circle cx="386.7" cy="1086.1" r="5.85" fill="#fff" stroke="#000" stroke-width="2.0"/>
<circle cx="383.0" cy="1086.1" r="5.85" fill="#fff" stroke="#000" stroke-width="2.0"/>
<circle cx="392.4" cy="1086.2" r="5.85" fill="#fff" stroke="#000" stroke-width="2.0"/>
<circle cx="380.7" cy="1086.2" r="5.85" fill="#fff" stroke="#000" stroke-width="2.0"/>
<circle cx="385.9" cy="1086.4" r="5.85" fill="#fff" stroke="#000" stroke-width="2.0"/>
<circle cx="378.8" cy="1086.4" r="5.85" fill="#fff" stroke="#000" stroke-width="2.0"/>
<circle cx="378.1" cy="1086.6" r="5.85" fill="#fff" stroke="#000" stroke-width="2.0"/>
<circle cx="377.6" cy="1086.6" r="5.85" fill="#fff" stroke="#000" stroke-width="2.0"/>
<circle cx="388.4" cy="1086.6" r="5.85" fill="#fff" stroke="#000" stroke-width="2.0"/>
<circle cx="384.2" cy="1087.0" r="5.85" fill="#fff" stroke="#000" stroke-width="2.0"/>
<circle cx="381.5" cy="1087.3" r="5.85" fill="#fff" stroke="#000" stroke-width="2.0"/>
<circle cx="379.6" cy="1087.4" r="5.85" fill="#fff" stroke="#000" stroke-width="2.0"/>
<circle cx="389.8" cy="1087.5" r="5.85" fill="#fff" stroke="#000" stroke-width="2.0"/>
<circle cx="384.7" cy="1087.6" r="5.85" fill="#fff" stroke="#000" stroke-width="2.0"/>
<circle cx="382.8" cy="1087.8" r="5.85" fill="#fff" stroke="#000" stroke-width="2.0"/>
<circle cx="386.9" cy="1087.9" r="5.85" fill="#fff" stroke="#000" stroke-width="2.0"/>
<circle cx="390.6" cy="1088.0" r="5.85" fill="#fff" stroke="#000" stroke-width="2.0"/>
<circle cx="376.4" cy="1088.1" r="5.85" fill="#fff" stroke="#000" stroke-width="2.0"/>
<circle cx="383.2" cy="1088.2" r="5.85" fill="#fff" stroke="#000" stroke-width="2.0"/>
<circle cx="381.0" cy="1088.3" r="5.85" fill="#fff" stroke="#000" stroke-width="2.0"/>
<circle cx="388.7" cy="1088.5" r="5.85" fill="#fff" stroke="#000" stroke-width="2.0"/>
<circle cx="398.2" cy="1088.6" r="5.85" fill="#fff" stroke="#000" stroke-width="2.0"/>
<circle cx="387.0" cy="1088.6" r="5.85" fill="#fff" stroke="#000" stroke-width="2.0"/>
<circle cx="376.6" cy="1088.7" r="5.85" fill="#fff" stroke="#000" stroke-width="2.0"/>
<circle cx="385.3" cy="1088.7" r="5.85" fill="#fff" stroke="#000" stroke-width="2.0"/>
<circle cx="391.0" cy="1088.7" r="5.85" fill="#fff" stroke="#000" stroke-width="2.0"/>
<circle cx="383.3" cy="1088.8" r="5.85" fill="#fff" stroke="#000" stroke-width="2.0"/>
<circle cx="377.6" cy="1088.9" r="5.85" fill="#fff" stroke="#000" stroke-width="2.0"/>
<circle cx="379.4" cy="1088.9" r="5.85" fill="#fff" stroke="#000" stroke-width="2.0"/>
<circle cx="393.2" cy="1089.0" r="5.85" fill="#fff" stroke="#000" stroke-width="2.0"/>
<circle cx="383.0" cy="1089.5" r="5.85" fill="#fff" stroke="#000" stroke-width="2.0"/>
<circle cx="377.8" cy="1089.8" r="5.85" fill="#fff" stroke="#000" stroke-width="2.0"/>
<circle cx="390.6" cy="1089.9" r="5.85" fill="#fff" stroke="#000" stroke-width="2.0"/>
<circle cx="379.1" cy="1090.0" r="5.85" fill="#fff" stroke="#000" stroke-width="2.0"/>
<circle cx="392.9" cy="1090.0" r="5.85" fill="#fff" stroke="#000" stroke-width="2.0"/>
<circle cx="380.9" cy="1090.1" r="5.85" fill="#fff" stroke="#000" stroke-width="2.0"/>
<circle cx="385.0" cy="1090.1" r="5.85" fill="#fff" stroke="#000" stroke-width="2.0"/>
<circle cx="388.6" cy="1090.3" r="5.85" fill="#fff" stroke="#000" stroke-width="2.0"/>
<circle cx="388.8" cy="1090.3" r="5.85" fill="#fff" stroke="#000" stroke-width="2.0"/>
<circle cx="390.7" cy="1090.3" r="5.85" fill="#fff" stroke="#000" stroke-width="2.0"/>
<circle cx="384.3" cy="1090.4" r="5.85" fill="#fff" stroke="#000" stroke-width="2.0"/>
<circle cx="377.2" cy="1090.5" r="5.85" fill="#fff" stroke="#000" stroke-width="2.0"/>
<circle cx="380.3" cy="1090.5" r="5.85" fill="#fff" stroke="#000" stroke-width="2.0"/>
<circle cx="386.1" cy="1090.6" r="5.85" fill="#fff" stroke="#000" stroke-width="2.0"/>
<circle cx="387.0" cy="1090.8" r="5.85" fill="#fff" stroke="#000" stroke-width="2.0"/>
<circle cx="388.5" cy="1091.0" r="5.85" fill="#fff" stroke="#000" stroke-width="2.0"/>
<circle cx="376.4" cy="1091.1" r="5.85" fill="#fff" stroke="#000" stroke-width="2.0"/>
<circle cx="378.2" cy="1091.4" r="5.85" fill="#fff" stroke="#000" stroke-width="2.0"/>
<circle cx="382.1" cy="1091.5" r="5.85" fill="#fff" stroke="#000" stroke-width="2.0"/>
<circle cx="391.9" cy="1091.5" r="5.85" fill="#fff" stroke="#000" stroke-width="2.0"/>
<circle cx="377.3" cy="1091.8" r="5.85" fill="#fff" stroke="#000" stroke-width="2.0"/>
<circle cx="378.3" cy="1091.9" r="5.85" fill="#fff" stroke="#000" stroke-width="2.0"/>
<circle cx="377.7" cy="1092.1" r="5.85" fill="#fff" stroke="#000" stroke-width="2.0"/>
<circle cx="380.4" cy="1092.2" r="5.85" fill="#fff" stroke="#000" stroke-width="2.0"/>
<circle cx="382.8" cy="1092.2" r="5.85" fill="#fff" stroke="#000" stroke-width="2.0"/>
<circle cx="384.2" cy="1092.3" r="5.85" fill="#fff" stroke="#000" stroke-width="2.0"/>
<circle cx="388.5" cy="1092.3" r="5.85" fill="#fff" stroke="#000" stroke-width="2.0"/>
<circle cx="387.8" cy="1092.4" r="5.85" fill="#fff" stroke="#000" stroke-width="2.0"/>
<circle cx="379.6" cy="1092.4" r="5.85" fill="#fff" stroke="#000" stroke-width="2.0"/>
<circle cx="386.3" cy="1092.7" r="5.85" fill="#fff" stroke="#000" stroke-width="2.0"/>
<circle cx="390.4" cy="1092.7" r="5.85" fill="#fff" stroke="#000" stroke-width="2.0"/>
<circle cx="390.1" cy="1092.9" r="5.85" fill="#fff" stroke="#000" stroke-width="2.0"/>
<circle cx="385.4" cy="1092.9" r="5.85" fill="#fff" stroke="#000" stroke-width="2.0"/>
<circle cx="392.6" cy="1093.0" r="5.85" fill="#fff" stroke="#000" stroke-width="2.0"/>
<circle cx="382.5" cy="1093.4" r="5.85" fill="#fff" stroke="#000" stroke-width="2.0"/>
<circle cx="364.5" cy="1093.4" r="5.85" fill="#fff" stroke="#000" stroke-width="2.0"/>
<circle cx="383.4" cy="1093.9" r="5.85" fill="#fff" stroke="#000" stroke-width="2.0"/>
<circle cx="380.3" cy="1093.9" r="5.85" fill="#fff" stroke="#000" stroke-width="2.0"/>
<circle cx="378.2" cy="1094.0" r="5.85" fill="#fff" stroke="#000" stroke-width="2.0"/>
<circle cx="376.5" cy="1094.1" r="5.85" fill="#fff" stroke="#000" stroke-width="2.0"/>
<circle cx="388.1" cy="1094.1" r="5.85" fill="#fff" stroke="#000" stroke-width="2.0"/>
<circle cx="380.3" cy="1094.5" r="5.85" fill="#fff" stroke="#000" stroke-width="2.0"/>
<circle cx="389.9" cy="1094.6" r="5.85" fill="#fff" stroke="#000" stroke-width="2.0"/>
<circle cx="392.2" cy="1094.6" r="5.85" fill="#fff" stroke="#000" stroke-width="2.0"/>
<circle cx="397.5" cy="1094.8" r="5.85" fill="#fff" stroke="#000" stroke-width="2.0"/>
<circle cx="384.7" cy="1094.8" r="5.85" fill="#fff" stroke="#000" stroke-width="2.0"/>
<circle cx="388.1" cy="1094.8" r="5.85" fill="#fff" stroke="#000" stroke-width="2.0"/>
<circle cx="390.0" cy="1094.9" r="5.85" fill="#fff" stroke="#000" stroke-width="2.0"/>
<circle cx="386.8" cy="1095.0" r="5.85" fill="#fff" stroke="#000" stroke-width="2.0"/>
<circle cx="379.1" cy="1095.1" r="5.85" fill="#fff" stroke="#000" stroke-width="2.0"/>
<circle cx="379.0" cy="1095.1" r="5.85" fill="#fff" stroke="#000" stroke-width="2.0"/>
<circle cx="381.5" cy="1095.5" r="5.85" fill="#fff" stroke="#000" stroke-width="2.0"/>
<circle cx="381.6" cy="1095.7" r="5.85" fill="#fff" stroke="#000" stroke-width="2.0"/>
<circle cx="383.3" cy="1095.8" r="5.85" fill="#fff" stroke="#000" stroke-width="2.0"/>
<circle cx="393.3" cy="1095.9" r="5.85" fill="#fff" stroke="#000" stroke-width="2.0"/>
<circle cx="390.9" cy="1096.1" r="5.85" fill="#fff" stroke="#000" stroke-width="2.0"/>
<circle cx="383.4" cy="1096.2" r="5.85" fill="#fff" stroke="#000" stroke-width="2.0"/>
<circle cx="385.2" cy="1096.2" r="5.85" fill="#fff" stroke="#000" stroke-width="2.0"/>
<circle cx="376.9" cy="1096.3" r="5.85" fill="#fff" stroke="#000" stroke-width="2.0"/>
<circle cx="380.9" cy="1096.5" r="5.85" fill="#fff" stroke="#000" stroke-width="2.0"/>
<circle cx="392.5" cy="1096.6" r="5.85" fill="#fff" stroke="#000" stroke-width="2.0"/>
<circle cx="389.2" cy="1096.6" r="5.85" fill="#fff" stroke="#000" stroke-width="2.0"/>
<circle cx="387.0" cy="1096.7" r="5.85" fill="#fff" stroke="#000" stroke-width="2.0"/>
<circle cx="385.2" cy="1096.9" r="5.85" fill="#fff" stroke="#000" stroke-width="2.0"/>
<circle cx="378.9" cy="1097.0" r="5.85" fill="#fff" stroke="#000" stroke-width="2.0"/>
<circle cx="388.1" cy="1097.1" r="5.85" fill="#fff" stroke="#000" stroke-width="2.0"/>
<circle cx="379.5" cy="1097.6" r="5.85" fill="#fff" stroke="#000" stroke-width="2.0"/>
<circle cx="382.3" cy="1097.7" r="5.85" fill="#fff" stroke="#000" stroke-width="2.0"/>
<circle cx="386.4" cy="1097.7" r="5.85" fill="#fff" stroke="#000" stroke-width="2.0"/>
<circle cx="390.4" cy="1097.7" r="5.85" fill="#fff" stroke="#000" stroke-width="2.0"/>
<circle cx="383.5" cy="1097.8" r="5.85" fill="#fff" stroke="#000" stroke-width="2.0"/>
<circle cx="392.6" cy="1098.1" r="5.85" fill="#fff" stroke="#000" stroke-width="2.0"/>
<circle cx="380.2" cy="1098.2" r="5.85" fill="#fff" stroke="#000" stroke-width="2.0"/>
<circle cx="377.6" cy="1098.2" r="5.85" fill="#fff" stroke="#000" stroke-width="2.0"/>
<circle cx="384.0" cy="1098.3" r="5.85" fill="#fff" stroke="#000" stroke-width="2.0"/>
<circle cx="381.1" cy="1098.5" r="5.85" fill="#fff" stroke="#000" stroke-width="2.0"/>
<circle cx="387.3" cy="1098.6" r="5.85" fill="#fff" stroke="#000" stroke-width="2.0"/>
<circle cx="389.1" cy="1098.7" r="5.85" fill="#fff" stroke="#000" stroke-width="2.0"/>
<circle cx="389.2" cy="1099.2" r="5.85" fill="#fff" stroke="#000" stroke-width="2.0"/>
<circle cx="387.0" cy="1099.3" r="5.85" fill="#fff" stroke="#000" stroke-width="2.0"/>
<circle cx="384.8" cy="1099.4" r="5.85" fill="#fff" stroke="#000" stroke-width="2.0"/>
<circle cx="391.7" cy="1099.7" r="5.85" fill="#fff" stroke="#000" stroke-width="2.0"/>
<circle cx="379.7" cy="1100.0" r="5.85" fill="#fff" stroke="#000" stroke-width="2.0"/>
<circle cx="382.1" cy="1100.2" r="5.85" fill="#fff" stroke="#000" stroke-width="2.0"/>
<circle cx="380.7" cy="1100.2" r="5.85" fill="#fff" stroke="#000" stroke-width="2.0"/>
<circle cx="383.3" cy="1100.2" r="5.85" fill="#fff" stroke="#000" stroke-width="2.0"/>
<circle cx="377.9" cy="1100.3" r="5.85" fill="#fff" stroke="#000" stroke-width="2.0"/>
<circle cx="388.3" cy="1100.6" r="5.85" fill="#fff" stroke="#000" stroke-width="2.0"/>
<circle cx="382.5" cy="1100.8" r="5.85" fill="#fff" stroke="#000" stroke-width="2.0"/>
<circle cx="386.4" cy="1100.8" r="5.85" fill="#fff" stroke="#000" stroke-width="2.0"/>
<circle cx="385.9" cy="1100.9" r="5.85" fill="#fff" stroke="#000" stroke-width="2.0"/>
<circle cx="388.6" cy="1101.1" r="5.85" fill="#fff" stroke="#000" stroke-width="2.0"/>
<circle cx="392.6" cy="1101.1" r="5.85" fill="#fff" stroke="#000" stroke-width="2.0"/>
<circle cx="383.7" cy="1101.4" r="5.85" fill="#fff" stroke="#000" stroke-width="2.0"/>
<circle cx="381.7" cy="1101.5" r="5.85" fill="#fff" stroke="#000" stroke-width="2.0"/>
<circle cx="380.3" cy="1101.8" r="5.85" fill="#fff" stroke="#000" stroke-width="2.0"/>
<circle cx="378.7" cy="1101.8" r="5.85" fill="#fff" stroke="#000" stroke-width="2.0"/>
<circle cx="393.2" cy="1102.1" r="5.85" fill="#fff" stroke="#000" stroke-width="2.0"/>
<circle cx="391.4" cy="1102.2" r="5.85" fill="#fff" stroke="#000" stroke-width="2.0"/>
<circle cx="388.2" cy="1102.3" r="5.85" fill="#fff" stroke="#000" stroke-width="2.0"/>
<circle cx="384.5" cy="1102.4" r="5.85" fill="#fff" stroke="#000" stroke-width="2.0"/>
<circle cx="387.2" cy="1102.7" r="5.85" fill="#fff" stroke="#000" stroke-width="2.0"/>
<circle cx="380.9" cy="1102.9" r="5.85" fill="#fff" stroke="#000" stroke-width="2.0"/>
<circle cx="382.5" cy="1103.3" r="5.85" fill="#fff" stroke="#000" stroke-width="2.0"/>
<circle cx="388.5" cy="1103.4" r="5.85" fill="#fff" stroke="#000" stroke-width="2.0"/>
<circle cx="386.4" cy="1103.4" r="5.85" fill="#fff" stroke="#000" stroke-width="2.0"/>
<circle cx="379.2" cy="1103.5" r="5.85" fill="#fff" stroke="#000" stroke-width="2.0"/>
<circle cx="380.7" cy="1103.7" r="5.85" fill="#fff" stroke="#000" stroke-width="2.0"/>
<circle cx="385.4" cy="1104.0" r="5.85" fill="#fff" stroke="#000" stroke-width="2.0"/>
<circle cx="382.7" cy="1104.3" r="5.85" fill="#fff" stroke="#000" stroke-width="2.0"/>
<circle cx="384.4" cy="1104.6" r="5.85" fill="#fff" stroke="#000" stroke-width="2.0"/>
<circle cx="390.0" cy="1104.7" r="5.85" fill="#fff" stroke="#000" stroke-width="2.0"/>
<circle cx="381.8" cy="1105.2" r="5.85" fill="#fff" stroke="#000" stroke-width="2.0"/>
<circle cx="380.1" cy="1105.3" r="5.85" fill="#fff" stroke="#000" stroke-width="2.0"/>
<circle cx="386.9" cy="1105.4" r="5.85" fill="#fff" stroke="#000" stroke-width="2.0"/>
<circle cx="383.8" cy="1105.7" r="5.85" fill="#fff" stroke="#000" stroke-width="2.0"/>
<circle cx="383.2" cy="1106.4" r="5.85" fill="#fff" stroke="#000" stroke-width="2.0"/>
<circle cx="385.3" cy="1106.6" r="5.85" fill="#fff" stroke="#000" stroke-width="2.0"/>
<circle cx="381.2" cy="1106.7" r="5.85" fill="#fff" stroke="#000" stroke-width="2.0"/>
<circle cx="389.6" cy="1106.8" r="5.85" fill="#fff" stroke="#000" stroke-width="2.0"/>
<circle cx="387.2" cy="1107.1" r="5.85" fill="#fff" stroke="#000" stroke-width="2.0"/>
<circle cx="385.0" cy="1107.2" r="5.85" fill="#fff" stroke="#000" stroke-width="2.0"/>
<circle cx="388.9" cy="1107.8" r="5.85" fill="#fff" stroke="#000" stroke-width="2.0"/>
<circle cx="388.4" cy="1108.3" r="5.85" fill="#fff" stroke="#000" stroke-width="2.0"/>
<circle cx="385.2" cy="1108.9" r="5.85" fill="#fff" stroke="#000" stroke-width="2.0"/>
<circle cx="383.2" cy="1108.9" r="5.85" fill="#fff" stroke="#000" stroke-width="2.0"/>
<circle cx="387.7" cy="1109.7" r="5.85" fill="#fff" stroke="#000" stroke-width="2.0"/>
<circle cx="383.1" cy="1110.7" r="5.85" fill="#fff" stroke="#000" stroke-width="2.0"/>
<circle cx="385.1" cy="1110.8" r="5.85" fill="#fff" stroke="#000" stroke-width="2.0"/>
<circle cx="384.4" cy="1117.8" r="5.85" fill="#fff" stroke="#000" stroke-width="2.0"/>
<circle cx="411.8" cy="835.9" r="5.85" fill="#e31e26" stroke="#000" stroke-width="2.0"/>
<circle cx="403.1" cy="839.2" r="5.85" fill="#e31e26" stroke="#000" stroke-width="2.0"/>
<circle cx="453.9" cy="856.3" r="5.85" fill="#e31e26" stroke="#000" stroke-width="2.0"/>
<circle cx="348.6" cy="858.6" r="5.85" fill="#e31e26" stroke="#000" stroke-width="2.0"/>
<circle cx="420.2" cy="861.0" r="5.85" fill="#e31e26" stroke="#000" stroke-width="2.0"/>
<circle cx="419.5" cy="873.8" r="5.85" fill="#e31e26" stroke="#000" stroke-width="2.0"/>
<circle cx="448.3" cy="873.8" r="5.85" fill="#e31e26" stroke="#000" stroke-width="2.0"/>
<circle cx="405.7" cy="892.2" r="5.85" fill="#e31e26" stroke="#000" stroke-width="2.0"/>
<circle cx="402.5" cy="901.3" r="5.85" fill="#e31e26" stroke="#000" stroke-width="2.0"/>
<circle cx="412.0" cy="903.1" r="5.85" fill="#e31e26" stroke="#000" stroke-width="2.0"/>
<circle cx="422.9" cy="904.0" r="5.85" fill="#e31e26" stroke="#000" stroke-width="2.0"/>
<circle cx="439.7" cy="907.6" r="5.85" fill="#e31e26" stroke="#000" stroke-width="2.0"/>
<circle cx="414.7" cy="910.4" r="5.85" fill="#e31e26" stroke="#000" stroke-width="2.0"/>
<circle cx="395.3" cy="910.4" r="5.85" fill="#e31e26" stroke="#000" stroke-width="2.0"/>
<circle cx="425.2" cy="911.7" r="5.85" fill="#e31e26" stroke="#000" stroke-width="2.0"/>
<circle cx="398.4" cy="915.8" r="5.85" fill="#e31e26" stroke="#000" stroke-width="2.0"/>
<circle cx="409.8" cy="916.3" r="5.85" fill="#e31e26" stroke="#000" stroke-width="2.0"/>
<circle cx="437.9" cy="918.7" r="5.85" fill="#e31e26" stroke="#000" stroke-width="2.0"/>
<circle cx="344.0" cy="921.2" r="5.85" fill="#e31e26" stroke="#000" stroke-width="2.0"/>
<circle cx="416.6" cy="924.0" r="5.85" fill="#e31e26" stroke="#000" stroke-width="2.0"/>
<circle cx="435.6" cy="927.1" r="5.85" fill="#e31e26" stroke="#000" stroke-width="2.0"/>
<circle cx="399.3" cy="928.9" r="5.85" fill="#e31e26" stroke="#000" stroke-width="2.0"/>
<circle cx="415.4" cy="929.0" r="5.85" fill="#e31e26" stroke="#000" stroke-width="2.0"/>
<circle cx="473.7" cy="930.3" r="5.85" fill="#e31e26" stroke="#000" stroke-width="2.0"/>
<circle cx="419.7" cy="932.1" r="5.85" fill="#e31e26" stroke="#000" stroke-width="2.0"/>
<circle cx="433.3" cy="932.6" r="5.85" fill="#e31e26" stroke="#000" stroke-width="2.0"/>
<circle cx="403.4" cy="934.0" r="5.85" fill="#e31e26" stroke="#000" stroke-width="2.0"/>
<circle cx="396.2" cy="937.6" r="5.85" fill="#e31e26" stroke="#000" stroke-width="2.0"/>
<circle cx="416.6" cy="939.4" r="5.85" fill="#e31e26" stroke="#000" stroke-width="2.0"/>
<circle cx="443.3" cy="940.3" r="5.85" fill="#e31e26" stroke="#000" stroke-width="2.0"/>
<circle cx="407.0" cy="941.2" r="5.85" fill="#e31e26" stroke="#000" stroke-width="2.0"/>
<circle cx="425.2" cy="941.6" r="5.85" fill="#e31e26" stroke="#000" stroke-width="2.0"/>
<circle cx="393.4" cy="943.4" r="5.85" fill="#e31e26" stroke="#000" stroke-width="2.0"/>
<circle cx="410.7" cy="943.5" r="5.85" fill="#e31e26" stroke="#000" stroke-width="2.0"/>
<circle cx="355.4" cy="944.4" r="5.85" fill="#e31e26" stroke="#000" stroke-width="2.0"/>
<circle cx="436.0" cy="945.3" r="5.85" fill="#e31e26" stroke="#000" stroke-width="2.0"/>
<circle cx="427.9" cy="947.5" r="5.85" fill="#e31e26" stroke="#000" stroke-width="2.0"/>
<circle cx="405.4" cy="947.5" r="5.85" fill="#e31e26" stroke="#000" stroke-width="2.0"/>
<circle cx="468.2" cy="948.0" r="5.85" fill="#e31e26" stroke="#000" stroke-width="2.0"/>
<circle cx="392.5" cy="949.8" r="5.85" fill="#e31e26" stroke="#000" stroke-width="2.0"/>
<circle cx="416.1" cy="952.5" r="5.85" fill="#e31e26" stroke="#000" stroke-width="2.0"/>
<circle cx="412.5" cy="954.0" r="5.85" fill="#e31e26" stroke="#000" stroke-width="2.0"/>
<circle cx="395.3" cy="954.3" r="5.85" fill="#e31e26" stroke="#000" stroke-width="2.0"/>
<circle cx="404.3" cy="954.3" r="5.85" fill="#e31e26" stroke="#000" stroke-width="2.0"/>
<circle cx="435.1" cy="954.3" r="5.85" fill="#e31e26" stroke="#000" stroke-width="2.0"/>
<circle cx="399.3" cy="955.5" r="5.85" fill="#e31e26" stroke="#000" stroke-width="2.0"/>
<circle cx="418.8" cy="958.9" r="5.85" fill="#e31e26" stroke="#000" stroke-width="2.0"/>
<circle cx="424.7" cy="959.3" r="5.85" fill="#e31e26" stroke="#000" stroke-width="2.0"/>
<circle cx="417.9" cy="959.4" r="5.85" fill="#e31e26" stroke="#000" stroke-width="2.0"/>
<circle cx="427.0" cy="961.5" r="5.85" fill="#e31e26" stroke="#000" stroke-width="2.0"/>
<circle cx="393.4" cy="961.6" r="5.85" fill="#e31e26" stroke="#000" stroke-width="2.0"/>
<circle cx="363.1" cy="963.8" r="5.85" fill="#e31e26" stroke="#000" stroke-width="2.0"/>
<circle cx="405.2" cy="964.3" r="5.85" fill="#e31e26" stroke="#000" stroke-width="2.0"/>
<circle cx="435.1" cy="965.2" r="5.85" fill="#e31e26" stroke="#000" stroke-width="2.0"/>
<circle cx="358.1" cy="965.2" r="5.85" fill="#e31e26" stroke="#000" stroke-width="2.0"/>
<circle cx="371.7" cy="967.0" r="5.85" fill="#e31e26" stroke="#000" stroke-width="2.0"/>
<circle cx="348.6" cy="967.5" r="5.85" fill="#e31e26" stroke="#000" stroke-width="2.0"/>
<circle cx="455.1" cy="967.5" r="5.85" fill="#e31e26" stroke="#000" stroke-width="2.0"/>
<circle cx="392.5" cy="969.7" r="5.85" fill="#e31e26" stroke="#000" stroke-width="2.0"/>
<circle cx="400.7" cy="970.6" r="5.85" fill="#e31e26" stroke="#000" stroke-width="2.0"/>
<circle cx="409.8" cy="974.3" r="5.85" fill="#e31e26" stroke="#000" stroke-width="2.0"/>
<circle cx="426.5" cy="974.3" r="5.85" fill="#e31e26" stroke="#000" stroke-width="2.0"/>
<circle cx="395.3" cy="975.2" r="5.85" fill="#e31e26" stroke="#000" stroke-width="2.0"/>
<circle cx="360.8" cy="975.6" r="5.85" fill="#e31e26" stroke="#000" stroke-width="2.0"/>
<circle cx="402.5" cy="979.2" r="5.85" fill="#e31e26" stroke="#000" stroke-width="2.0"/>
<circle cx="392.1" cy="1061.1" r="9.3" fill="#353a9c" stroke="#000" stroke-width="1.5"/>
<circle cx="1248.9" cy="979.7" r="5.85" fill="#fff" stroke="#000" stroke-width="2.0"/>
<circle cx="1243.1" cy="986.4" r="5.85" fill="#fff" stroke="#000" stroke-width="2.0"/>
<circle cx="1244.1" cy="986.8" r="5.85" fill="#fff" stroke="#000" stroke-width="2.0"/>
<circle cx="1244.0" cy="990.4" r="5.85" fill="#fff" stroke="#000" stroke-width="2.0"/>
<circle cx="1079.8" cy="991.6" r="5.85" fill="#fff" stroke="#000" stroke-width="2.0"/>
<circle cx="1235.0" cy="992.5" r="5.85" fill="#fff" stroke="#000" stroke-width="2.0"/>
<circle cx="1238.4" cy="992.8" r="5.85" fill="#fff" stroke="#000" stroke-width="2.0"/>
<circle cx="1163.9" cy="993.1" r="5.85" fill="#fff" stroke="#000" stroke-width="2.0"/>
<circle cx="1234.5" cy="993.1" r="5.85" fill="#fff" stroke="#000" stroke-width="2.0"/>
<circle cx="1239.2" cy="996.9" r="5.85" fill="#fff" stroke="#000" stroke-width="2.0"/>
<circle cx="1235.5" cy="999.0" r="5.85" fill="#fff" stroke="#000" stroke-width="2.0"/>
<circle cx="1232.6" cy="1001.8" r="5.85" fill="#fff" stroke="#000" stroke-width="2.0"/>
<circle cx="1232.7" cy="1002.7" r="5.85" fill="#fff" stroke="#000" stroke-width="2.0"/>
<circle cx="1233.5" cy="1004.1" r="5.85" fill="#fff" stroke="#000" stroke-width="2.0"/>
<circle cx="1191.4" cy="1006.1" r="5.85" fill="#fff" stroke="#000" stroke-width="2.0"/>
<circle cx="1192.3" cy="1006.6" r="5.85" fill="#fff" stroke="#000" stroke-width="2.0"/>
<circle cx="1238.4" cy="1007.8" r="5.85" fill="#fff" stroke="#000" stroke-width="2.0"/>
<circle cx="1193.1" cy="1008.3" r="5.85" fill="#fff" stroke="#000" stroke-width="2.0"/>
<circle cx="1234.4" cy="1008.8" r="5.85" fill="#fff" stroke="#000" stroke-width="2.0"/>
<circle cx="1193.7" cy="1009.1" r="5.85" fill="#fff" stroke="#000" stroke-width="2.0"/>
<circle cx="1229.9" cy="1010.6" r="5.85" fill="#fff" stroke="#000" stroke-width="2.0"/>
<circle cx="1254.3" cy="1011.7" r="5.85" fill="#fff" stroke="#000" stroke-width="2.0"/>
<circle cx="1254.6" cy="1011.9" r="5.85" fill="#fff" stroke="#000" stroke-width="2.0"/>
<circle cx="1238.8" cy="1012.1" r="5.85" fill="#fff" stroke="#000" stroke-width="2.0"/>
<circle cx="1234.6" cy="1013.9" r="5.85" fill="#fff" stroke="#000" stroke-width="2.0"/>
<circle cx="1245.2" cy="1015.1" r="5.85" fill="#fff" stroke="#000" stroke-width="2.0"/>
<circle cx="1245.6" cy="1015.6" r="5.85" fill="#fff" stroke="#000" stroke-width="2.0"/>
<circle cx="1229.7" cy="1016.1" r="5.85" fill="#fff" stroke="#000" stroke-width="2.0"/>
<circle cx="1239.7" cy="1016.7" r="5.85" fill="#fff" stroke="#000" stroke-width="2.0"/>
<circle cx="1244.0" cy="1017.0" r="5.85" fill="#fff" stroke="#000" stroke-width="2.0"/>
<circle cx="1169.3" cy="1017.1" r="5.85" fill="#fff" stroke="#000" stroke-width="2.0"/>
<circle cx="1169.3" cy="1017.4" r="5.85" fill="#fff" stroke="#000" stroke-width="2.0"/>
<circle cx="1235.0" cy="1019.0" r="5.85" fill="#fff" stroke="#000" stroke-width="2.0"/>
<circle cx="1231.0" cy="1019.9" r="5.85" fill="#fff" stroke="#000" stroke-width="2.0"/>
<circle cx="1239.6" cy="1020.7" r="5.85" fill="#fff" stroke="#000" stroke-width="2.0"/>
<circle cx="1181.7" cy="1020.8" r="5.85" fill="#fff" stroke="#000" stroke-width="2.0"/>
<circle cx="1243.6" cy="1021.0" r="5.85" fill="#fff" stroke="#000" stroke-width="2.0"/>
<circle cx="1248.6" cy="1021.4" r="5.85" fill="#fff" stroke="#000" stroke-width="2.0"/>
<circle cx="1187.4" cy="1023.1" r="5.85" fill="#fff" stroke="#000" stroke-width="2.0"/>
<circle cx="1233.3" cy="1024.7" r="5.85" fill="#fff" stroke="#000" stroke-width="2.0"/>
<circle cx="1239.0" cy="1025.3" r="5.85" fill="#fff" stroke="#000" stroke-width="2.0"/>
<circle cx="1191.9" cy="1025.3" r="5.85" fill="#fff" stroke="#000" stroke-width="2.0"/>
<circle cx="1250.5" cy="1025.4" r="5.85" fill="#fff" stroke="#000" stroke-width="2.0"/>
<circle cx="1244.0" cy="1026.7" r="5.85" fill="#fff" stroke="#000" stroke-width="2.0"/>
<circle cx="1229.6" cy="1027.1" r="5.85" fill="#fff" stroke="#000" stroke-width="2.0"/>
<circle cx="1235.9" cy="1028.0" r="5.85" fill="#fff" stroke="#000" stroke-width="2.0"/>
<circle cx="1184.0" cy="1028.7" r="5.85" fill="#fff" stroke="#000" stroke-width="2.0"/>
<circle cx="1248.2" cy="1029.0" r="5.85" fill="#fff" stroke="#000" stroke-width="2.0"/>
<circle cx="1145.3" cy="1029.6" r="5.85" fill="#fff" stroke="#000" stroke-width="2.0"/>
<circle cx="1242.3" cy="1030.9" r="5.85" fill="#fff" stroke="#000" stroke-width="2.0"/>
<circle cx="1203.8" cy="1031.0" r="5.85" fill="#fff" stroke="#000" stroke-width="2.0"/>
<circle cx="1251.7" cy="1031.3" r="5.85" fill="#fff" stroke="#000" stroke-width="2.0"/>
<circle cx="1229.9" cy="1032.1" r="5.85" fill="#fff" stroke="#000" stroke-width="2.0"/>
<circle cx="1203.8" cy="1032.1" r="5.85" fill="#fff" stroke="#000" stroke-width="2.0"/>
<circle cx="1238.5" cy="1032.5" r="5.85" fill="#fff" stroke="#000" stroke-width="2.0"/>
<circle cx="1246.8" cy="1033.0" r="5.85" fill="#fff" stroke="#000" stroke-width="2.0"/>
<circle cx="1234.4" cy="1033.9" r="5.85" fill="#fff" stroke="#000" stroke-width="2.0"/>
<circle cx="1270.9" cy="1034.0" r="5.85" fill="#fff" stroke="#000" stroke-width="2.0"/>
<circle cx="1188.5" cy="1034.4" r="5.85" fill="#fff" stroke="#000" stroke-width="2.0"/>
<circle cx="1243.2" cy="1036.0" r="5.85" fill="#fff" stroke="#000" stroke-width="2.0"/>
<circle cx="1251.2" cy="1036.1" r="5.85" fill="#fff" stroke="#000" stroke-width="2.0"/>
<circle cx="1238.7" cy="1036.9" r="5.85" fill="#fff" stroke="#000" stroke-width="2.0"/>
<circle cx="1231.6" cy="1037.2" r="5.85" fill="#fff" stroke="#000" stroke-width="2.0"/>
<circle cx="1164.7" cy="1037.2" r="5.85" fill="#fff" stroke="#000" stroke-width="2.0"/>
<circle cx="1165.1" cy="1037.6" r="5.85" fill="#fff" stroke="#000" stroke-width="2.0"/>
<circle cx="1245.2" cy="1039.6" r="5.85" fill="#fff" stroke="#000" stroke-width="2.0"/>
<circle cx="1235.1" cy="1040.1" r="5.85" fill="#fff" stroke="#000" stroke-width="2.0"/>
<circle cx="1250.7" cy="1040.2" r="5.85" fill="#fff" stroke="#000" stroke-width="2.0"/>
<circle cx="1240.2" cy="1040.6" r="5.85" fill="#fff" stroke="#000" stroke-width="2.0"/>
<circle cx="1203.3" cy="1041.2" r="5.85" fill="#fff" stroke="#000" stroke-width="2.0"/>
<circle cx="1220.3" cy="1041.2" r="5.85" fill="#fff" stroke="#000" stroke-width="2.0"/>
<circle cx="1221.1" cy="1041.5" r="5.85" fill="#fff" stroke="#000" stroke-width="2.0"/>
<circle cx="1176.1" cy="1042.3" r="5.85" fill="#fff" stroke="#000" stroke-width="2.0"/>
<circle cx="1176.0" cy="1042.6" r="5.85" fill="#fff" stroke="#000" stroke-width="2.0"/>
<circle cx="1232.1" cy="1042.8" r="5.85" fill="#fff" stroke="#000" stroke-width="2.0"/>
<circle cx="1243.5" cy="1043.4" r="5.85" fill="#fff" stroke="#000" stroke-width="2.0"/>
<circle cx="1249.3" cy="1044.2" r="5.85" fill="#fff" stroke="#000" stroke-width="2.0"/>
<circle cx="1252.0" cy="1044.6" r="5.85" fill="#fff" stroke="#000" stroke-width="2.0"/>
<circle cx="1238.2" cy="1045.5" r="5.85" fill="#fff" stroke="#000" stroke-width="2.0"/>
<circle cx="1202.1" cy="1046.9" r="5.85" fill="#fff" stroke="#000" stroke-width="2.0"/>
<circle cx="1187.4" cy="1046.9" r="5.85" fill="#fff" stroke="#000" stroke-width="2.0"/>
<circle cx="1246.1" cy="1047.0" r="5.85" fill="#fff" stroke="#000" stroke-width="2.0"/>
<circle cx="1242.1" cy="1047.5" r="5.85" fill="#fff" stroke="#000" stroke-width="2.0"/>
<circle cx="1235.9" cy="1048.9" r="5.85" fill="#fff" stroke="#000" stroke-width="2.0"/>
<circle cx="1249.6" cy="1049.4" r="5.85" fill="#fff" stroke="#000" stroke-width="2.0"/>
<circle cx="1246.4" cy="1052.5" r="5.85" fill="#fff" stroke="#000" stroke-width="2.0"/>
<circle cx="1238.9" cy="1052.7" r="5.85" fill="#fff" stroke="#000" stroke-width="2.0"/>
<circle cx="1252.4" cy="1053.2" r="5.85" fill="#fff" stroke="#000" stroke-width="2.0"/>
<circle cx="1249.2" cy="1056.5" r="5.85" fill="#fff" stroke="#000" stroke-width="2.0"/>
<circle cx="1184.0" cy="1057.1" r="5.85" fill="#fff" stroke="#000" stroke-width="2.0"/>
<circle cx="1244.7" cy="1057.7" r="5.85" fill="#fff" stroke="#000" stroke-width="2.0"/>
<circle cx="1253.5" cy="1058.2" r="5.85" fill="#fff" stroke="#000" stroke-width="2.0"/>
<circle cx="1206.7" cy="1058.2" r="5.85" fill="#fff" stroke="#000" stroke-width="2.0"/>
<circle cx="1203.3" cy="1059.3" r="5.85" fill="#fff" stroke="#000" stroke-width="2.0"/>
<circle cx="1248.7" cy="1060.9" r="5.85" fill="#fff" stroke="#000" stroke-width="2.0"/>
<circle cx="1253.0" cy="1062.2" r="5.85" fill="#fff" stroke="#000" stroke-width="2.0"/>
<circle cx="1244.9" cy="1062.5" r="5.85" fill="#fff" stroke="#000" stroke-width="2.0"/>
<circle cx="1190.8" cy="1065.0" r="5.85" fill="#fff" stroke="#000" stroke-width="2.0"/>
<circle cx="1257.7" cy="1065.0" r="5.85" fill="#fff" stroke="#000" stroke-width="2.0"/>
<circle cx="1250.0" cy="1065.5" r="5.85" fill="#fff" stroke="#000" stroke-width="2.0"/>
<circle cx="1208.9" cy="1066.1" r="5.85" fill="#fff" stroke="#000" stroke-width="2.0"/>
<circle cx="1253.8" cy="1066.7" r="5.85" fill="#fff" stroke="#000" stroke-width="2.0"/>
<circle cx="1201.0" cy="1068.4" r="5.85" fill="#fff" stroke="#000" stroke-width="2.0"/>
<circle cx="1245.4" cy="1068.9" r="5.85" fill="#fff" stroke="#000" stroke-width="2.0"/>
<circle cx="1217.9" cy="1070.4" r="5.85" fill="#fff" stroke="#000" stroke-width="2.0"/>
<circle cx="1250.5" cy="1070.7" r="5.85" fill="#fff" stroke="#000" stroke-width="2.0"/>
<circle cx="1220.6" cy="1071.2" r="5.85" fill="#fff" stroke="#000" stroke-width="2.0"/>
<circle cx="1216.3" cy="1071.3" r="5.85" fill="#fff" stroke="#000" stroke-width="2.0"/>
<circle cx="1224.4" cy="1071.5" r="5.85" fill="#fff" stroke="#000" stroke-width="2.0"/>
<circle cx="1197.6" cy="1071.8" r="5.85" fill="#fff" stroke="#000" stroke-width="2.0"/>
<circle cx="1218.8" cy="1072.1" r="5.85" fill="#fff" stroke="#000" stroke-width="2.0"/>
<circle cx="1213.4" cy="1072.3" r="5.85" fill="#fff" stroke="#000" stroke-width="2.0"/>
<circle cx="1227.2" cy="1072.4" r="5.85" fill="#fff" stroke="#000" stroke-width="2.0"/>
<circle cx="1222.8" cy="1072.7" r="5.85" fill="#fff" stroke="#000" stroke-width="2.0"/>
<circle cx="1217.3" cy="1073.1" r="5.85" fill="#fff" stroke="#000" stroke-width="2.0"/>
<circle cx="1232.3" cy="1073.2" r="5.85" fill="#fff" stroke="#000" stroke-width="2.0"/>
<circle cx="1229.0" cy="1073.2" r="5.85" fill="#fff" stroke="#000" stroke-width="2.0"/>
<circle cx="1234.6" cy="1073.3" r="5.85" fill="#fff" stroke="#000" stroke-width="2.0"/>
<circle cx="1224.9" cy="1073.6" r="5.85" fill="#fff" stroke="#000" stroke-width="2.0"/>
<circle cx="1221.0" cy="1073.6" r="5.85" fill="#fff" stroke="#000" stroke-width="2.0"/>
<circle cx="1253.6" cy="1073.9" r="5.85" fill="#fff" stroke="#000" stroke-width="2.0"/>
<circle cx="1218.8" cy="1074.2" r="5.85" fill="#fff" stroke="#000" stroke-width="2.0"/>
<circle cx="1226.8" cy="1074.2" r="5.85" fill="#fff" stroke="#000" stroke-width="2.0"/>
<circle cx="1206.6" cy="1074.4" r="5.85" fill="#fff" stroke="#000" stroke-width="2.0"/>
<circle cx="1236.3" cy="1074.5" r="5.85" fill="#fff" stroke="#000" stroke-width="2.0"/>
<circle cx="1214.6" cy="1074.6" r="5.85" fill="#fff" stroke="#000" stroke-width="2.0"/>
<circle cx="1245.6" cy="1074.7" r="5.85" fill="#fff" stroke="#000" stroke-width="2.0"/>
<circle cx="1210.8" cy="1074.7" r="5.85" fill="#fff" stroke="#000" stroke-width="2.0"/>
<circle cx="1212.7" cy="1075.2" r="5.85" fill="#fff" stroke="#000" stroke-width="2.0"/>
<circle cx="1231.8" cy="1075.2" r="5.85" fill="#fff" stroke="#000" stroke-width="2.0"/>
<circle cx="1216.8" cy="1075.3" r="5.85" fill="#fff" stroke="#000" stroke-width="2.0"/>
<circle cx="1234.0" cy="1075.3" r="5.85" fill="#fff" stroke="#000" stroke-width="2.0"/>
<circle cx="1208.6" cy="1075.4" r="5.85" fill="#fff" stroke="#000" stroke-width="2.0"/>
<circle cx="1220.2" cy="1075.7" r="5.85" fill="#fff" stroke="#000" stroke-width="2.0"/>
<circle cx="1228.0" cy="1075.7" r="5.85" fill="#fff" stroke="#000" stroke-width="2.0"/>
<circle cx="1222.4" cy="1076.0" r="5.85" fill="#fff" stroke="#000" stroke-width="2.0"/>
<circle cx="1226.2" cy="1076.0" r="5.85" fill="#fff" stroke="#000" stroke-width="2.0"/>
<circle cx="1249.4" cy="1076.2" r="5.85" fill="#fff" stroke="#000" stroke-width="2.0"/>
<circle cx="1206.4" cy="1076.3" r="5.85" fill="#fff" stroke="#000" stroke-width="2.0"/>
<circle cx="1236.7" cy="1076.4" r="5.85" fill="#fff" stroke="#000" stroke-width="2.0"/>
<circle cx="1230.0" cy="1076.5" r="5.85" fill="#fff" stroke="#000" stroke-width="2.0"/>
<circle cx="1238.6" cy="1076.5" r="5.85" fill="#fff" stroke="#000" stroke-width="2.0"/>
<circle cx="1210.6" cy="1076.7" r="5.85" fill="#fff" stroke="#000" stroke-width="2.0"/>
<circle cx="1204.7" cy="1076.9" r="5.85" fill="#fff" stroke="#000" stroke-width="2.0"/>
<circle cx="1233.0" cy="1077.1" r="5.85" fill="#fff" stroke="#000" stroke-width="2.0"/>
<circle cx="1214.3" cy="1077.2" r="5.85" fill="#fff" stroke="#000" stroke-width="2.0"/>
<circle cx="1224.9" cy="1077.5" r="5.85" fill="#fff" stroke="#000" stroke-width="2.0"/>
<circle cx="1195.3" cy="1077.5" r="5.85" fill="#fff" stroke="#000" stroke-width="2.0"/>
<circle cx="1209.0" cy="1077.6" r="5.85" fill="#fff" stroke="#000" stroke-width="2.0"/>
<circle cx="1228.5" cy="1077.6" r="5.85" fill="#fff" stroke="#000" stroke-width="2.0"/>
<circle cx="1219.0" cy="1077.7" r="5.85" fill="#fff" stroke="#000" stroke-width="2.0"/>
<circle cx="1216.7" cy="1078.1" r="5.85" fill="#fff" stroke="#000" stroke-width="2.0"/>
<circle cx="1222.4" cy="1078.3" r="5.85" fill="#fff" stroke="#000" stroke-width="2.0"/>
<circle cx="1237.0" cy="1078.5" r="5.85" fill="#fff" stroke="#000" stroke-width="2.0"/>
<circle cx="1206.5" cy="1078.6" r="5.85" fill="#fff" stroke="#000" stroke-width="2.0"/>
<circle cx="1234.6" cy="1078.7" r="5.85" fill="#fff" stroke="#000" stroke-width="2.0"/>
<circle cx="1230.2" cy="1078.8" r="5.85" fill="#fff" stroke="#000" stroke-width="2.0"/>
<circle cx="1232.2" cy="1078.8" r="5.85" fill="#fff" stroke="#000" stroke-width="2.0"/>
<circle cx="1252.2" cy="1079.1" r="5.85" fill="#fff" stroke="#000" stroke-width="2.0"/>
<circle cx="1211.9" cy="1079.1" r="5.85" fill="#fff" stroke="#000" stroke-width="2.0"/>
<circle cx="1204.6" cy="1079.1" r="5.85" fill="#fff" stroke="#000" stroke-width="2.0"/>
<circle cx="1240.0" cy="1079.3" r="5.85" fill="#fff" stroke="#000" stroke-width="2.0"/>
<circle cx="1225.7" cy="1079.4" r="5.85" fill="#fff" stroke="#000" stroke-width="2.0"/>
<circle cx="1218.2" cy="1079.5" r="5.85" fill="#fff" stroke="#000" stroke-width="2.0"/>
<circle cx="1214.7" cy="1079.9" r="5.85" fill="#fff" stroke="#000" stroke-width="2.0"/>
<circle cx="1222.6" cy="1080.2" r="5.85" fill="#fff" stroke="#000" stroke-width="2.0"/>
<circle cx="1209.6" cy="1080.3" r="5.85" fill="#fff" stroke="#000" stroke-width="2.0"/>
<circle cx="1227.9" cy="1080.4" r="5.85" fill="#fff" stroke="#000" stroke-width="2.0"/>
<circle cx="1234.4" cy="1080.6" r="5.85" fill="#fff" stroke="#000" stroke-width="2.0"/>
<circle cx="1206.7" cy="1080.7" r="5.85" fill="#fff" stroke="#000" stroke-width="2.0"/>
<circle cx="1236.2" cy="1080.7" r="5.85" fill="#fff" stroke="#000" stroke-width="2.0"/>
<circle cx="1216.7" cy="1080.8" r="5.85" fill="#fff" stroke="#000" stroke-width="2.0"/>
<circle cx="1238.1" cy="1080.8" r="5.85" fill="#fff" stroke="#000" stroke-width="2.0"/>
<circle cx="1230.3" cy="1081.0" r="5.85" fill="#fff" stroke="#000" stroke-width="2.0"/>
<circle cx="1220.7" cy="1081.1" r="5.85" fill="#fff" stroke="#000" stroke-width="2.0"/>
<circle cx="1248.2" cy="1081.2" r="5.85" fill="#fff" stroke="#000" stroke-width="2.0"/>
<circle cx="1239.9" cy="1081.3" r="5.85" fill="#fff" stroke="#000" stroke-width="2.0"/>
<circle cx="1232.6" cy="1081.3" r="5.85" fill="#fff" stroke="#000" stroke-width="2.0"/>
<circle cx="1204.9" cy="1081.7" r="5.85" fill="#fff" stroke="#000" stroke-width="2.0"/>
<circle cx="1213.6" cy="1081.8" r="5.85" fill="#fff" stroke="#000" stroke-width="2.0"/>
<circle cx="1224.0" cy="1081.9" r="5.85" fill="#fff" stroke="#000" stroke-width="2.0"/>
<circle cx="1211.8" cy="1082.1" r="5.85" fill="#fff" stroke="#000" stroke-width="2.0"/>
<circle cx="1228.3" cy="1082.2" r="5.85" fill="#fff" stroke="#000" stroke-width="2.0"/>
<circle cx="1222.3" cy="1082.4" r="5.85" fill="#fff" stroke="#000" stroke-width="2.0"/>
<circle cx="1236.6" cy="1082.6" r="5.85" fill="#fff" stroke="#000" stroke-width="2.0"/>
<circle cx="1238.4" cy="1082.6" r="5.85" fill="#fff" stroke="#000" stroke-width="2.0"/>
<circle cx="1217.3" cy="1082.7" r="5.85" fill="#fff" stroke="#000" stroke-width="2.0"/>
<circle cx="1242.4" cy="1082.8" r="5.85" fill="#fff" stroke="#000" stroke-width="2.0"/>
<circle cx="1206.5" cy="1082.8" r="5.85" fill="#fff" stroke="#000" stroke-width="2.0"/>
<circle cx="1220.2" cy="1082.9" r="5.85" fill="#fff" stroke="#000" stroke-width="2.0"/>
<circle cx="1232.7" cy="1083.1" r="5.85" fill="#fff" stroke="#000" stroke-width="2.0"/>
<circle cx="1187.4" cy="1083.1" r="5.85" fill="#fff" stroke="#000" stroke-width="2.0"/>
<circle cx="1225.7" cy="1083.2" r="5.85" fill="#fff" stroke="#000" stroke-width="2.0"/>
<circle cx="1230.5" cy="1083.4" r="5.85" fill="#fff" stroke="#000" stroke-width="2.0"/>
<circle cx="1215.3" cy="1083.7" r="5.85" fill="#fff" stroke="#000" stroke-width="2.0"/>
<circle cx="1208.4" cy="1083.7" r="5.85" fill="#fff" stroke="#000" stroke-width="2.0"/>
<circle cx="1239.4" cy="1084.2" r="5.85" fill="#fff" stroke="#000" stroke-width="2.0"/>
<circle cx="1204.6" cy="1084.2" r="5.85" fill="#fff" stroke="#000" stroke-width="2.0"/>
<circle cx="1253.7" cy="1084.2" r="5.85" fill="#fff" stroke="#000" stroke-width="2.0"/>
<circle cx="1228.9" cy="1084.3" r="5.85" fill="#fff" stroke="#000" stroke-width="2.0"/>
<circle cx="1218.5" cy="1084.3" r="5.85" fill="#fff" stroke="#000" stroke-width="2.0"/>
<circle cx="1254.3" cy="1084.3" r="5.85" fill="#fff" stroke="#000" stroke-width="2.0"/>
<circle cx="1237.6" cy="1084.7" r="5.85" fill="#fff" stroke="#000" stroke-width="2.0"/>
<circle cx="1210.0" cy="1084.7" r="5.85" fill="#fff" stroke="#000" stroke-width="2.0"/>
<circle cx="1221.7" cy="1084.9" r="5.85" fill="#fff" stroke="#000" stroke-width="2.0"/>
<circle cx="1230.7" cy="1085.3" r="5.85" fill="#fff" stroke="#000" stroke-width="2.0"/>
<circle cx="1235.2" cy="1085.4" r="5.85" fill="#fff" stroke="#000" stroke-width="2.0"/>
<circle cx="1212.7" cy="1085.4" r="5.85" fill="#fff" stroke="#000" stroke-width="2.0"/>
<circle cx="1223.8" cy="1085.5" r="5.85" fill="#fff" stroke="#000" stroke-width="2.0"/>
<circle cx="1226.5" cy="1085.6" r="5.85" fill="#fff" stroke="#000" stroke-width="2.0"/>
<circle cx="1242.8" cy="1085.6" r="5.85" fill="#fff" stroke="#000" stroke-width="2.0"/>
<circle cx="1232.5" cy="1085.8" r="5.85" fill="#fff" stroke="#000" stroke-width="2.0"/>
<circle cx="1215.1" cy="1085.9" r="5.85" fill="#fff" stroke="#000" stroke-width="2.0"/>
<circle cx="1205.7" cy="1086.0" r="5.85" fill="#fff" stroke="#000" stroke-width="2.0"/>
<circle cx="1228.4" cy="1086.1" r="5.85" fill="#fff" stroke="#000" stroke-width="2.0"/>
<circle cx="1186.6" cy="1086.1" r="5.85" fill="#fff" stroke="#000" stroke-width="2.0"/>
<circle cx="1211.1" cy="1086.3" r="5.85" fill="#fff" stroke="#000" stroke-width="2.0"/>
<circle cx="1186.8" cy="1086.5" r="5.85" fill="#fff" stroke="#000" stroke-width="2.0"/>
<circle cx="1197.6" cy="1086.5" r="5.85" fill="#fff" stroke="#000" stroke-width="2.0"/>
<circle cx="1221.9" cy="1086.8" r="5.85" fill="#fff" stroke="#000" stroke-width="2.0"/>
<circle cx="1217.1" cy="1086.8" r="5.85" fill="#fff" stroke="#000" stroke-width="2.0"/>
<circle cx="1219.5" cy="1086.8" r="5.85" fill="#fff" stroke="#000" stroke-width="2.0"/>
<circle cx="1240.9" cy="1086.9" r="5.85" fill="#fff" stroke="#000" stroke-width="2.0"/>
<circle cx="1207.4" cy="1086.9" r="5.85" fill="#fff" stroke="#000" stroke-width="2.0"/>
<circle cx="1239.0" cy="1087.0" r="5.85" fill="#fff" stroke="#000" stroke-width="2.0"/>
<circle cx="1242.9" cy="1087.4" r="5.85" fill="#fff" stroke="#000" stroke-width="2.0"/>
<circle cx="1235.4" cy="1087.4" r="5.85" fill="#fff" stroke="#000" stroke-width="2.0"/>
<circle cx="1230.2" cy="1087.6" r="5.85" fill="#fff" stroke="#000" stroke-width="2.0"/>
<circle cx="1226.6" cy="1087.6" r="5.85" fill="#fff" stroke="#000" stroke-width="2.0"/>
<circle cx="1214.7" cy="1087.9" r="5.85" fill="#fff" stroke="#000" stroke-width="2.0"/>
<circle cx="1212.0" cy="1088.0" r="5.85" fill="#fff" stroke="#000" stroke-width="2.0"/>
<circle cx="1232.2" cy="1088.0" r="5.85" fill="#fff" stroke="#000" stroke-width="2.0"/>
<circle cx="1205.6" cy="1088.0" r="5.85" fill="#fff" stroke="#000" stroke-width="2.0"/>
<circle cx="1209.1" cy="1088.2" r="5.85" fill="#fff" stroke="#000" stroke-width="2.0"/>
<circle cx="1237.6" cy="1088.3" r="5.85" fill="#fff" stroke="#000" stroke-width="2.0"/>
<circle cx="1239.4" cy="1088.9" r="5.85" fill="#fff" stroke="#000" stroke-width="2.0"/>
<circle cx="1223.5" cy="1089.1" r="5.85" fill="#fff" stroke="#000" stroke-width="2.0"/>
<circle cx="1203.8" cy="1089.1" r="5.85" fill="#fff" stroke="#000" stroke-width="2.0"/>
<circle cx="1216.1" cy="1089.3" r="5.85" fill="#fff" stroke="#000" stroke-width="2.0"/>
<circle cx="1229.5" cy="1089.4" r="5.85" fill="#fff" stroke="#000" stroke-width="2.0"/>
<circle cx="1220.1" cy="1089.5" r="5.85" fill="#fff" stroke="#000" stroke-width="2.0"/>
<circle cx="1210.7" cy="1089.6" r="5.85" fill="#fff" stroke="#000" stroke-width="2.0"/>
<circle cx="1227.0" cy="1089.7" r="5.85" fill="#fff" stroke="#000" stroke-width="2.0"/>
<circle cx="1205.6" cy="1089.9" r="5.85" fill="#fff" stroke="#000" stroke-width="2.0"/>
<circle cx="1208.3" cy="1090.0" r="5.85" fill="#fff" stroke="#000" stroke-width="2.0"/>
<circle cx="1236.7" cy="1090.2" r="5.85" fill="#fff" stroke="#000" stroke-width="2.0"/>
<circle cx="1217.7" cy="1090.4" r="5.85" fill="#fff" stroke="#000" stroke-width="2.0"/>
<circle cx="1231.7" cy="1090.5" r="5.85" fill="#fff" stroke="#000" stroke-width="2.0"/>
<circle cx="1214.6" cy="1090.6" r="5.85" fill="#fff" stroke="#000" stroke-width="2.0"/>
<circle cx="1234.6" cy="1090.7" r="5.85" fill="#fff" stroke="#000" stroke-width="2.0"/>
<circle cx="1241.9" cy="1090.8" r="5.85" fill="#fff" stroke="#000" stroke-width="2.0"/>
<circle cx="1239.3" cy="1091.0" r="5.85" fill="#fff" stroke="#000" stroke-width="2.0"/>
<circle cx="1228.8" cy="1091.1" r="5.85" fill="#fff" stroke="#000" stroke-width="2.0"/>
<circle cx="1221.5" cy="1091.2" r="5.85" fill="#fff" stroke="#000" stroke-width="2.0"/>
<circle cx="1211.4" cy="1091.4" r="5.85" fill="#fff" stroke="#000" stroke-width="2.0"/>
<circle cx="1223.6" cy="1091.4" r="5.85" fill="#fff" stroke="#000" stroke-width="2.0"/>
<circle cx="1225.4" cy="1091.5" r="5.85" fill="#fff" stroke="#000" stroke-width="2.0"/>
<circle cx="1203.9" cy="1091.5" r="5.85" fill="#fff" stroke="#000" stroke-width="2.0"/>
<circle cx="1205.7" cy="1091.8" r="5.85" fill="#fff" stroke="#000" stroke-width="2.0"/>
<circle cx="1227.2" cy="1092.1" r="5.85" fill="#fff" stroke="#000" stroke-width="2.0"/>
<circle cx="1233.4" cy="1092.3" r="5.85" fill="#fff" stroke="#000" stroke-width="2.0"/>
<circle cx="1235.9" cy="1092.6" r="5.85" fill="#fff" stroke="#000" stroke-width="2.0"/>
<circle cx="1219.6" cy="1092.6" r="5.85" fill="#fff" stroke="#000" stroke-width="2.0"/>
<circle cx="1208.1" cy="1092.7" r="5.85" fill="#fff" stroke="#000" stroke-width="2.0"/>
<circle cx="1229.4" cy="1092.8" r="5.85" fill="#fff" stroke="#000" stroke-width="2.0"/>
<circle cx="1217.6" cy="1092.9" r="5.85" fill="#fff" stroke="#000" stroke-width="2.0"/>
<circle cx="1215.7" cy="1093.0" r="5.85" fill="#fff" stroke="#000" stroke-width="2.0"/>
<circle cx="1222.3" cy="1093.1" r="5.85" fill="#fff" stroke="#000" stroke-width="2.0"/>
<circle cx="1212.7" cy="1093.3" r="5.85" fill="#fff" stroke="#000" stroke-width="2.0"/>
<circle cx="1240.5" cy="1093.4" r="5.85" fill="#fff" stroke="#000" stroke-width="2.0"/>
<circle cx="1205.8" cy="1093.6" r="5.85" fill="#fff" stroke="#000" stroke-width="2.0"/>
<circle cx="1238.1" cy="1093.7" r="5.85" fill="#fff" stroke="#000" stroke-width="2.0"/>
<circle cx="1231.2" cy="1094.0" r="5.85" fill="#fff" stroke="#000" stroke-width="2.0"/>
<circle cx="1209.5" cy="1094.1" r="5.85" fill="#fff" stroke="#000" stroke-width="2.0"/>
<circle cx="1224.0" cy="1094.3" r="5.85" fill="#fff" stroke="#000" stroke-width="2.0"/>
<circle cx="1220.7" cy="1094.4" r="5.85" fill="#fff" stroke="#000" stroke-width="2.0"/>
<circle cx="1228.4" cy="1094.5" r="5.85" fill="#fff" stroke="#000" stroke-width="2.0"/>
<circle cx="1226.0" cy="1094.6" r="5.85" fill="#fff" stroke="#000" stroke-width="2.0"/>
<circle cx="1214.9" cy="1094.7" r="5.85" fill="#fff" stroke="#000" stroke-width="2.0"/>
<circle cx="1234.5" cy="1094.7" r="5.85" fill="#fff" stroke="#000" stroke-width="2.0"/>
<circle cx="1208.0" cy="1095.3" r="5.85" fill="#fff" stroke="#000" stroke-width="2.0"/>
<circle cx="1240.5" cy="1095.4" r="5.85" fill="#fff" stroke="#000" stroke-width="2.0"/>
<circle cx="1217.6" cy="1095.6" r="5.85" fill="#fff" stroke="#000" stroke-width="2.0"/>
<circle cx="1232.9" cy="1095.7" r="5.85" fill="#fff" stroke="#000" stroke-width="2.0"/>
<circle cx="1210.8" cy="1095.8" r="5.85" fill="#fff" stroke="#000" stroke-width="2.0"/>
<circle cx="1237.1" cy="1096.0" r="5.85" fill="#fff" stroke="#000" stroke-width="2.0"/>
<circle cx="1213.4" cy="1096.3" r="5.85" fill="#fff" stroke="#000" stroke-width="2.0"/>
<circle cx="1227.7" cy="1096.5" r="5.85" fill="#fff" stroke="#000" stroke-width="2.0"/>
<circle cx="1238.9" cy="1096.5" r="5.85" fill="#fff" stroke="#000" stroke-width="2.0"/>
<circle cx="1219.4" cy="1096.6" r="5.85" fill="#fff" stroke="#000" stroke-width="2.0"/>
<circle cx="1234.8" cy="1096.6" r="5.85" fill="#fff" stroke="#000" stroke-width="2.0"/>
<circle cx="1223.6" cy="1096.6" r="5.85" fill="#fff" stroke="#000" stroke-width="2.0"/>
<circle cx="1205.4" cy="1096.9" r="5.85" fill="#fff" stroke="#000" stroke-width="2.0"/>
<circle cx="1229.7" cy="1097.0" r="5.85" fill="#fff" stroke="#000" stroke-width="2.0"/>
<circle cx="1215.1" cy="1097.1" r="5.85" fill="#fff" stroke="#000" stroke-width="2.0"/>
<circle cx="1221.5" cy="1097.4" r="5.85" fill="#fff" stroke="#000" stroke-width="2.0"/>
<circle cx="1233.2" cy="1097.5" r="5.85" fill="#fff" stroke="#000" stroke-width="2.0"/>
<circle cx="1225.2" cy="1097.6" r="5.85" fill="#fff" stroke="#000" stroke-width="2.0"/>
<circle cx="1209.9" cy="1097.8" r="5.85" fill="#fff" stroke="#000" stroke-width="2.0"/>
<circle cx="1217.4" cy="1098.1" r="5.85" fill="#fff" stroke="#000" stroke-width="2.0"/>
<circle cx="1238.3" cy="1098.3" r="5.85" fill="#fff" stroke="#000" stroke-width="2.0"/>
<circle cx="1219.5" cy="1098.5" r="5.85" fill="#fff" stroke="#000" stroke-width="2.0"/>
<circle cx="1236.1" cy="1098.6" r="5.85" fill="#fff" stroke="#000" stroke-width="2.0"/>
<circle cx="1213.7" cy="1098.8" r="5.85" fill="#fff" stroke="#000" stroke-width="2.0"/>
<circle cx="1228.0" cy="1099.0" r="5.85" fill="#fff" stroke="#000" stroke-width="2.0"/>
<circle cx="1215.7" cy="1099.0" r="5.85" fill="#fff" stroke="#000" stroke-width="2.0"/>
<circle cx="1207.6" cy="1099.1" r="5.85" fill="#fff" stroke="#000" stroke-width="2.0"/>
<circle cx="1232.1" cy="1099.1" r="5.85" fill="#fff" stroke="#000" stroke-width="2.0"/>
<circle cx="1234.6" cy="1099.7" r="5.85" fill="#fff" stroke="#000" stroke-width="2.0"/>
<circle cx="1229.8" cy="1099.9" r="5.85" fill="#fff" stroke="#000" stroke-width="2.0"/>
<circle cx="1223.2" cy="1099.9" r="5.85" fill="#fff" stroke="#000" stroke-width="2.0"/>
<circle cx="1220.9" cy="1100.0" r="5.85" fill="#fff" stroke="#000" stroke-width="2.0"/>
<circle cx="1211.0" cy="1100.0" r="5.85" fill="#fff" stroke="#000" stroke-width="2.0"/>
<circle cx="1226.5" cy="1100.0" r="5.85" fill="#fff" stroke="#000" stroke-width="2.0"/>
<circle cx="1217.4" cy="1100.1" r="5.85" fill="#fff" stroke="#000" stroke-width="2.0"/>
<circle cx="1236.8" cy="1100.4" r="5.85" fill="#fff" stroke="#000" stroke-width="2.0"/>
<circle cx="1224.9" cy="1100.9" r="5.85" fill="#fff" stroke="#000" stroke-width="2.0"/>
<circle cx="1207.4" cy="1101.2" r="5.85" fill="#fff" stroke="#000" stroke-width="2.0"/>
<circle cx="1212.3" cy="1101.4" r="5.85" fill="#fff" stroke="#000" stroke-width="2.0"/>
<circle cx="1228.8" cy="1101.5" r="5.85" fill="#fff" stroke="#000" stroke-width="2.0"/>
<circle cx="1214.4" cy="1101.6" r="5.85" fill="#fff" stroke="#000" stroke-width="2.0"/>
<circle cx="1222.7" cy="1101.7" r="5.85" fill="#fff" stroke="#000" stroke-width="2.0"/>
<circle cx="1231.2" cy="1101.8" r="5.85" fill="#fff" stroke="#000" stroke-width="2.0"/>
<circle cx="1209.0" cy="1102.0" r="5.85" fill="#fff" stroke="#000" stroke-width="2.0"/>
<circle cx="1234.4" cy="1102.1" r="5.85" fill="#fff" stroke="#000" stroke-width="2.0"/>
<circle cx="1219.8" cy="1102.2" r="5.85" fill="#fff" stroke="#000" stroke-width="2.0"/>
<circle cx="1217.8" cy="1102.6" r="5.85" fill="#fff" stroke="#000" stroke-width="2.0"/>
<circle cx="1210.7" cy="1102.7" r="5.85" fill="#fff" stroke="#000" stroke-width="2.0"/>
<circle cx="1229.8" cy="1103.2" r="5.85" fill="#fff" stroke="#000" stroke-width="2.0"/>
<circle cx="1227.6" cy="1103.2" r="5.85" fill="#fff" stroke="#000" stroke-width="2.0"/>
<circle cx="1224.4" cy="1103.5" r="5.85" fill="#fff" stroke="#000" stroke-width="2.0"/>
<circle cx="1213.8" cy="1103.7" r="5.85" fill="#fff" stroke="#000" stroke-width="2.0"/>
<circle cx="1232.1" cy="1103.8" r="5.85" fill="#fff" stroke="#000" stroke-width="2.0"/>
<circle cx="1216.4" cy="1103.8" r="5.85" fill="#fff" stroke="#000" stroke-width="2.0"/>
<circle cx="1207.6" cy="1103.9" r="5.85" fill="#fff" stroke="#000" stroke-width="2.0"/>
<circle cx="1220.7" cy="1104.4" r="5.85" fill="#fff" stroke="#000" stroke-width="2.0"/>
<circle cx="1209.6" cy="1104.8" r="5.85" fill="#fff" stroke="#000" stroke-width="2.0"/>
<circle cx="1212.6" cy="1105.0" r="5.85" fill="#fff" stroke="#000" stroke-width="2.0"/>
<circle cx="1227.1" cy="1105.0" r="5.85" fill="#fff" stroke="#000" stroke-width="2.0"/>
<circle cx="1229.4" cy="1105.2" r="5.85" fill="#fff" stroke="#000" stroke-width="2.0"/>
<circle cx="1225.0" cy="1105.5" r="5.85" fill="#fff" stroke="#000" stroke-width="2.0"/>
<circle cx="1214.7" cy="1105.8" r="5.85" fill="#fff" stroke="#000" stroke-width="2.0"/>
<circle cx="1222.9" cy="1106.0" r="5.85" fill="#fff" stroke="#000" stroke-width="2.0"/>
<circle cx="1217.5" cy="1106.2" r="5.85" fill="#fff" stroke="#000" stroke-width="2.0"/>
<circle cx="1209.9" cy="1107.0" r="5.85" fill="#fff" stroke="#000" stroke-width="2.0"/>
<circle cx="1228.9" cy="1107.1" r="5.85" fill="#fff" stroke="#000" stroke-width="2.0"/>
<circle cx="1212.1" cy="1107.1" r="5.85" fill="#fff" stroke="#000" stroke-width="2.0"/>
<circle cx="1219.5" cy="1107.4" r="5.85" fill="#fff" stroke="#000" stroke-width="2.0"/>
<circle cx="1224.1" cy="1107.5" r="5.85" fill="#fff" stroke="#000" stroke-width="2.0"/>
<circle cx="1215.0" cy="1107.7" r="5.85" fill="#fff" stroke="#000" stroke-width="2.0"/>
<circle cx="1226.2" cy="1108.0" r="5.85" fill="#fff" stroke="#000" stroke-width="2.0"/>
<circle cx="1222.4" cy="1108.1" r="5.85" fill="#fff" stroke="#000" stroke-width="2.0"/>
<circle cx="1217.7" cy="1108.6" r="5.85" fill="#fff" stroke="#000" stroke-width="2.0"/>
<circle cx="1213.9" cy="1109.2" r="5.85" fill="#fff" stroke="#000" stroke-width="2.0"/>
<circle cx="1209.8" cy="1109.2" r="5.85" fill="#fff" stroke="#000" stroke-width="2.0"/>
<circle cx="1211.8" cy="1109.2" r="5.85" fill="#fff" stroke="#000" stroke-width="2.0"/>
<circle cx="1219.5" cy="1109.3" r="5.85" fill="#fff" stroke="#000" stroke-width="2.0"/>
<circle cx="1224.9" cy="1109.5" r="5.85" fill="#fff" stroke="#000" stroke-width="2.0"/>
<circle cx="1221.6" cy="1110.0" r="5.85" fill="#fff" stroke="#000" stroke-width="2.0"/>
<circle cx="1219.7" cy="1111.1" r="5.85" fill="#fff" stroke="#000" stroke-width="2.0"/>
<circle cx="1212.8" cy="1111.1" r="5.85" fill="#fff" stroke="#000" stroke-width="2.0"/>
<circle cx="1223.5" cy="1111.1" r="5.85" fill="#fff" stroke="#000" stroke-width="2.0"/>
<circle cx="1216.7" cy="1111.4" r="5.85" fill="#fff" stroke="#000" stroke-width="2.0"/>
<circle cx="1221.9" cy="1112.4" r="5.85" fill="#fff" stroke="#000" stroke-width="2.0"/>
<circle cx="1213.9" cy="1112.6" r="5.85" fill="#fff" stroke="#000" stroke-width="2.0"/>
<circle cx="1219.0" cy="1112.8" r="5.85" fill="#fff" stroke="#000" stroke-width="2.0"/>
<circle cx="1215.7" cy="1114.0" r="5.85" fill="#fff" stroke="#000" stroke-width="2.0"/>
<circle cx="1218.1" cy="1114.6" r="5.85" fill="#fff" stroke="#000" stroke-width="2.0"/>
<circle cx="1216.3" cy="1117.8" r="5.85" fill="#fff" stroke="#000" stroke-width="2.0"/>
<circle cx="1297.8" cy="903.0" r="5.85" fill="#e31e26" stroke="#000" stroke-width="2.0"/>
<circle cx="1281.5" cy="925.6" r="5.85" fill="#e31e26" stroke="#000" stroke-width="2.0"/>
<circle cx="1242.2" cy="930.2" r="5.85" fill="#e31e26" stroke="#000" stroke-width="2.0"/>
<circle cx="1285.3" cy="958.2" r="5.85" fill="#e31e26" stroke="#000" stroke-width="2.0"/>
<circle cx="1250.8" cy="964.8" r="5.85" fill="#e31e26" stroke="#000" stroke-width="2.0"/>
<circle cx="1362.6" cy="966.7" r="5.85" fill="#e31e26" stroke="#000" stroke-width="2.0"/>
<circle cx="1279.6" cy="971.5" r="5.85" fill="#e31e26" stroke="#000" stroke-width="2.0"/>
<circle cx="1094.1" cy="973.0" r="5.85" fill="#e31e26" stroke="#000" stroke-width="2.0"/>
<circle cx="1246.0" cy="974.3" r="5.85" fill="#e31e26" stroke="#000" stroke-width="2.0"/>
<circle cx="1132.5" cy="974.3" r="5.85" fill="#e31e26" stroke="#000" stroke-width="2.0"/>
<circle cx="1225.9" cy="1060.2" r="9.3" fill="#353a9c" stroke="#000" stroke-width="1.5"/>
</svg></body></html>
